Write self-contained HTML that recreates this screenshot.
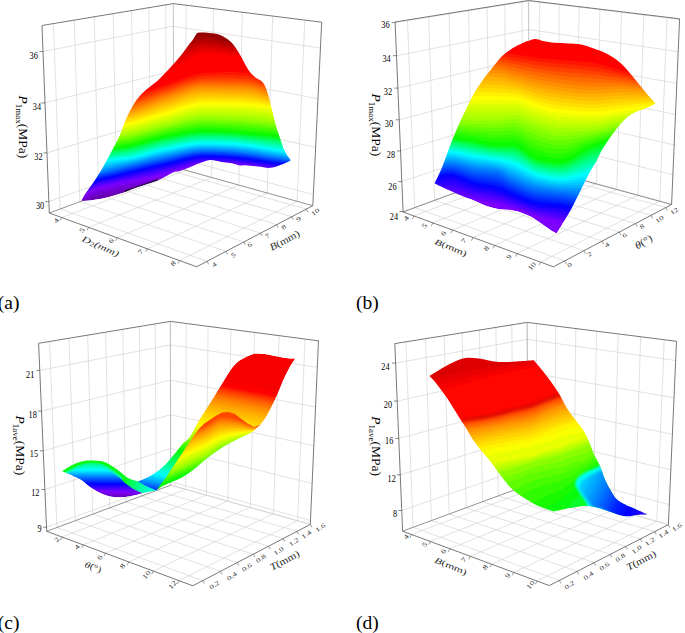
<!DOCTYPE html>
<html><head><meta charset="utf-8"><style>html,body{margin:0;padding:0;background:#fff;overflow:hidden}svg{display:block}text{font-family:"Liberation Serif",serif;fill:#000}</style></head>
<body><svg width="685" height="633" viewBox="0 0 685 633"><defs><clipPath id="c1"><path d="M81.5,200.7C82.1,199.6 83,197.4 85,194.3C87,191.2 90.8,186.3 93.7,182C96.6,177.7 99.5,173.1 102.4,168.2C105.3,163.3 108.1,158.1 111,152.6C113.9,147.1 117.3,140.6 119.8,135.2C122.2,129.8 124,124.1 125.7,120C127.4,115.9 128.5,113.8 130.1,110.8C131.7,107.8 133.5,104.4 135.2,101.9C136.9,99.4 138.5,97.5 140.2,95.6C141.9,93.7 143.4,92.3 145.3,90.6C147.2,88.9 149.5,87.2 151.6,85.5C153.7,83.8 155.8,82.3 157.9,80.4C160,78.5 162.1,76.3 164.2,74.1C166.3,71.9 168.5,69.5 170.6,67.2C172.7,64.9 174.8,62.6 176.9,60.2C179,57.8 181.1,55.3 183.2,52.6C185.3,49.9 187.9,45.9 189.5,43.8C191.1,41.7 191.7,41.4 192.7,40C193.7,38.6 194.6,36.7 195.5,35.5C196.4,34.3 196.4,33.3 198,32.8C199.6,32.3 202.3,32.4 205,32.5C207.7,32.6 211.8,33.2 214.3,33.6C216.8,34 218.1,34.3 220,35C221.9,35.7 223.9,36.7 225.7,37.9C227.5,39.1 229.3,40.3 231,42C232.7,43.7 234.1,45.6 235.8,48C237.5,50.4 239.3,53.5 241,56.5C242.7,59.5 244.4,63.1 245.9,65.7C247.4,68.3 248.7,70.3 250,72C251.3,73.7 252.3,74.7 253.5,75.8C254.7,76.9 255.8,77.7 257,78.5C258.2,79.3 259.8,79.9 261,80.8C262.2,81.7 263.2,82.7 264,84C264.8,85.3 265.2,86.4 266,88.4C266.8,90.4 267.7,93.1 268.5,96C269.3,98.9 270.2,102.7 271,106C271.8,109.3 272.7,112.7 273.5,116C274.3,119.3 274.9,122.3 276,126C277.1,129.7 278.7,134.2 280,138C281.3,141.8 282.6,146.2 283.8,149C285,151.8 285.8,153.1 287,155C288.2,156.9 290.2,159.3 290.8,160.2C289.5,160.8 286.6,162.7 283.2,164C279.8,165.3 274.8,167.4 270.6,167.8C266.4,168.2 262.1,166.9 257.9,166.5C253.7,166.1 248.3,165.4 245.3,165.2C242.3,165 242.5,165.8 240,165.5C237.5,165.2 233.5,163.7 230.5,163.1C227.5,162.5 224.2,162.3 221.8,161.9C219.4,161.5 217.9,161 215.9,160.7C213.9,160.4 211.9,159.9 210,160.1C208.1,160.2 206.6,160.8 204.2,161.6C201.8,162.4 198.4,163.7 195.5,164.8C192.6,166 189.6,167.4 186.7,168.5C183.8,169.6 180,170.9 178,171.4C176,171.9 176.8,170.9 174.7,171.7C172.6,172.5 168.5,174.8 165.4,176.4C162.3,178 159.1,179.7 156,181C152.9,182.3 150.2,182.8 146.7,184C143.2,185.2 138.9,186.6 135,188C131.1,189.4 127.3,191.3 123.4,192.7C119.5,194.1 115.6,195.1 111.7,196.2C107.8,197.3 103.6,198.4 100,199.1C96.4,199.8 93.1,200.2 90,200.5C86.9,200.8 82.9,200.7 81.5,200.7Z"/></clipPath><clipPath id="c2"><path d="M434.7,183.2C436,180.3 439.7,173 442.6,165.9C445.5,158.8 448.9,148.5 452.1,140.6C455.3,132.7 457.9,126.4 461.6,118.5C465.3,110.6 470.6,99.6 474.2,93.2C477.8,86.8 480.5,83.4 482.9,79.9C485.3,76.4 486.9,74.8 488.8,72.3C490.8,69.8 492.4,67.7 494.6,65C496.8,62.3 499.5,58.7 501.9,56.3C504.3,53.9 506.8,52.1 509.2,50.4C511.6,48.7 514.1,47.3 516.5,46C518.9,44.7 521.6,43.3 523.8,42.4C526,41.5 527.8,41.1 529.6,40.5C531.4,39.9 533.2,39.2 534.7,39C536.2,38.8 537,39.2 538.4,39.5C539.8,39.8 541.1,40.6 542.8,41C544.5,41.4 546.4,41.7 548.6,42C550.8,42.3 552.7,42.6 555.9,42.8C559.1,43 563.6,43.1 567.6,43.4C571.6,43.6 575.6,43.5 580,44.3C584.4,45.1 589.2,46.8 593.7,48.4C598.2,50 602.5,51.3 607,53.7C611.5,56.1 616,59 620.5,63C625,67 630,73.3 634,78C638,82.7 641.1,87.1 644.7,91.3C648.3,95.5 653.7,101.4 655.5,103.4C654.1,104.1 651,105.9 647.4,107.5C643.8,109.1 638,110.5 634,112.8C630,115 626.8,117.4 623.2,121C619.6,124.6 616.1,129.4 612.5,134.3C608.9,139.2 604.4,146 601.7,150.5C599,155 598.1,158.2 596.3,161.5C594.5,164.8 592.8,166.9 591,170C589.2,173.1 588.7,174.1 585.6,180.3C582.5,186.5 577,198.3 572.2,207.2C567.4,216.1 559.2,229.1 556.6,233.5C555.6,232.9 552.9,231.6 550.4,230C547.9,228.4 544.8,226 541.6,223.8C538.4,221.6 534.6,218.7 531.1,216.8C527.6,214.9 524.1,213.5 520.6,212.4C517.1,211.3 513.8,210.7 510,210.1C506.2,209.5 501.6,209.5 497.8,208.9C494,208.3 491.1,207.6 487.3,206.3C483.5,205 480,203.1 475,201C470,198.9 463.3,196.5 457.5,194C451.7,191.5 443.8,187.9 440,186.1C436.2,184.3 435.6,183.7 434.7,183.2Z"/></clipPath><filter id="blur1" x="-20%" y="-20%" width="140%" height="140%"><feGaussianBlur stdDeviation="0.8"/></filter><filter id="blur2" x="-20%" y="-20%" width="140%" height="140%"><feGaussianBlur stdDeviation="1.6"/></filter><clipPath id="c3"><path d="M429.4,376.1C431.3,374.9 437.4,371 441.1,368.8C444.9,366.6 447.9,364.7 451.9,362.9C455.9,361.1 460.8,358.8 465.3,358.1C469.8,357.4 474.2,358.1 478.7,358.6C483.2,359.1 487.7,360.7 492.2,361.3C496.7,361.9 501.1,362.1 505.6,362.1C510.1,362.1 514.3,361.6 519,361.3C523.7,361 531.3,360.4 533.8,360.2C535.4,362.1 540.3,367.8 543.2,371.5C546.1,375.2 548.6,378.4 551.3,382.2C554,386 556.6,389.8 559.3,394.3C562,398.8 564.7,404.8 567.4,409.1C570.1,413.4 572.8,416.3 575.5,419.9C578.2,423.5 581.3,427 583.5,430.6C585.7,434.2 587.1,437.3 588.9,441.3C590.7,445.3 592.4,450.6 594.3,454.8C596.2,459 598.6,462.8 600.3,466.7C602,470.6 602.9,474.5 604.6,478.4C606.3,482.3 608.5,486.6 610.5,490C612.5,493.4 613.9,496.4 616.3,498.8C618.7,501.2 621.9,502.9 625.1,504.6C628.3,506.3 631.5,507.3 635.3,509C639.1,510.7 645.6,513.7 647.7,514.6C645.9,514.6 640.1,514.6 636.8,514.9C633.5,515.2 630.9,516.3 628,516.3C625.1,516.3 622.1,515.6 619.2,514.9C616.3,514.2 613.4,512.9 610.5,511.9C607.6,510.9 604.6,509.9 601.7,509C598.8,508.1 595.9,507.3 593,506.8C590.1,506.3 588.1,505.9 584.2,506.1C580.3,506.4 573.6,507.7 569.6,508.3C565.6,508.9 563,509.5 560.4,510C557.8,510.5 554.9,511.2 553.8,511.4C551.8,510.7 545.2,508.8 541.5,507.3C537.8,505.8 534.7,504.1 531.3,502.2C527.9,500.3 524.5,498.4 521.1,496C517.7,493.6 514.3,491.3 510.9,487.9C507.5,484.5 504.1,480 500.7,475.6C497.3,471.2 493,464.7 490.4,461.3C487.8,457.9 486.6,456.9 485,455C483.4,453.1 482.2,451.9 480.6,450C479,448.1 477.3,445.7 475.6,443.3C473.9,440.9 472.2,438.4 470.5,435.7C468.8,433 467.1,429.6 465.4,426.9C463.7,424.2 462.3,422.2 460.4,419.3C458.5,416.4 456.2,412.6 454.1,409.2C452,405.8 449.8,402.3 447.7,399.1C445.6,395.9 443.5,393.1 441.4,390.2C439.3,387.3 437.1,384.4 435.1,382C433.1,379.6 430.3,377.1 429.4,376.1Z"/></clipPath><clipPath id="c4"><path d="M429.4,376.1C431.3,374.9 437.4,371 441.1,368.8C444.9,366.6 447.9,364.7 451.9,362.9C455.9,361.1 460.8,358.8 465.3,358.1C469.8,357.4 474.2,358.1 478.7,358.6C483.2,359.1 487.7,360.7 492.2,361.3C496.7,361.9 501.1,362.1 505.6,362.1C510.1,362.1 514.3,361.6 519,361.3C523.7,361 531.3,360.4 533.8,360.2C535.4,362.1 540.3,367.8 543.2,371.5C546.1,375.2 548.6,378.4 551.3,382.2C554,386 556.6,389.8 559.3,394.3C562,398.8 564.7,404.8 567.4,409.1C570.1,413.4 572.8,416.3 575.5,419.9C578.2,423.5 581.3,427 583.5,430.6C585.7,434.2 587.1,437.3 588.9,441.3C590.7,445.3 592.4,450.6 594.3,454.8C596.2,459 598.6,462.8 600.3,466.7C602,470.6 602.9,474.5 604.6,478.4C606.3,482.3 608.5,486.6 610.5,490C612.5,493.4 613.9,496.4 616.3,498.8C618.7,501.2 621.9,502.9 625.1,504.6C628.3,506.3 631.5,507.3 635.3,509C639.1,510.7 645.6,513.7 647.7,514.6C645.9,514.6 640.1,514.6 636.8,514.9C633.5,515.2 630.9,516.3 628,516.3C625.1,516.3 622.1,515.6 619.2,514.9C616.3,514.2 613.4,512.9 610.5,511.9C607.6,510.9 604.6,509.9 601.7,509C598.8,508.1 595.9,507.3 593,506.8C590.1,506.3 588.1,505.9 584.2,506.1C580.3,506.4 573.6,507.7 569.6,508.3C565.6,508.9 563,509.5 560.4,510C557.8,510.5 554.9,511.2 553.8,511.4C551.8,510.7 545.2,508.8 541.5,507.3C537.8,505.8 534.7,504.1 531.3,502.2C527.9,500.3 524.5,498.4 521.1,496C517.7,493.6 514.3,491.3 510.9,487.9C507.5,484.5 504.1,480 500.7,475.6C497.3,471.2 493,464.7 490.4,461.3C487.8,457.9 486.6,456.9 485,455C483.4,453.1 482.2,451.9 480.6,450C479,448.1 477.3,445.7 475.6,443.3C473.9,440.9 472.2,438.4 470.5,435.7C468.8,433 467.1,429.6 465.4,426.9C463.7,424.2 462.3,422.2 460.4,419.3C458.5,416.4 456.2,412.6 454.1,409.2C452,405.8 449.8,402.3 447.7,399.1C445.6,395.9 443.5,393.1 441.4,390.2C439.3,387.3 437.1,384.4 435.1,382C433.1,379.6 430.3,377.1 429.4,376.1Z"/></clipPath><linearGradient id="g1" gradientUnits="userSpaceOnUse" x1="659.1" y1="322.2" x2="722.8" y2="353.4"><stop offset="0.0000" stop-color="#00d4ff"/><stop offset="0.0376" stop-color="#00caff"/><stop offset="0.0751" stop-color="#00c1ff"/><stop offset="0.1127" stop-color="#00b7ff"/><stop offset="0.1502" stop-color="#00aeff"/><stop offset="0.1878" stop-color="#00a4ff"/><stop offset="0.2254" stop-color="#009aff"/><stop offset="0.2629" stop-color="#008eff"/><stop offset="0.3005" stop-color="#0083ff"/><stop offset="0.3380" stop-color="#0077ff"/><stop offset="0.3756" stop-color="#006bff"/><stop offset="0.4131" stop-color="#0060ff"/><stop offset="0.4507" stop-color="#0054ff"/><stop offset="0.4789" stop-color="#004bff"/><stop offset="0.5070" stop-color="#0041ff"/><stop offset="0.5352" stop-color="#0038ff"/><stop offset="0.5634" stop-color="#002fff"/><stop offset="0.5915" stop-color="#0025ff"/><stop offset="0.6197" stop-color="#001cff"/><stop offset="0.6596" stop-color="#0015ff"/><stop offset="0.6995" stop-color="#000eff"/><stop offset="0.7394" stop-color="#0007ff"/><stop offset="0.7793" stop-color="#0000ff"/><stop offset="0.8192" stop-color="#0600ff"/><stop offset="0.8592" stop-color="#0d00ff"/><stop offset="0.8826" stop-color="#1300ff"/><stop offset="0.9061" stop-color="#1900ff"/><stop offset="0.9296" stop-color="#1f00ff"/><stop offset="0.9531" stop-color="#2500ff"/><stop offset="0.9765" stop-color="#2c00ff"/><stop offset="1" stop-color="#3200ff"/></linearGradient><clipPath id="c5"><path d="M62,471.3C62.8,470.8 65.2,469.1 67,468C68.8,466.9 70.1,466.1 72.5,465C74.9,463.9 78.4,462.4 81.3,461.6C84.2,460.8 86.8,460.5 90,460.4C93.2,460.3 97.7,460.6 100.6,461.1C103.5,461.6 105.3,462.3 107.6,463.4C109.9,464.5 112.3,466.2 114.6,467.8C116.9,469.4 119.3,471.2 121.6,473C123.9,474.8 125.9,476.9 128.6,478.3C131.3,479.7 136.3,480.9 137.8,481.4C139.6,480.6 145.1,478.4 148.4,476.7C151.7,474.9 155,472.8 157.7,470.9C160.4,468.9 162.4,467.3 164.7,465C167,462.7 169.5,459.4 171.7,456.9C173.8,454.4 175.6,452.2 177.6,449.9C179.6,447.5 181.3,445 183.4,442.8C185.5,440.6 187.6,440 190,436.5C192.4,433 195.3,426.6 198,422C200.7,417.4 203.3,413.5 206,409.2C208.7,404.9 211.4,400.7 214.1,396.4C216.8,392.1 219.4,387.8 222.1,383.5C224.8,379.2 227.7,374.2 230.1,370.7C232.5,367.2 234.2,364.8 236.6,362.7C239,360.6 241.7,359.3 244.6,357.8C247.5,356.3 251.2,354.5 254.2,353.8C257.1,353.1 259.6,353.6 262.3,353.8C265,354 267.4,354.5 270.3,355C273.2,355.5 277.1,356.5 280,357C282.9,357.5 285.5,357.9 288,358.2C290.5,358.5 294,358.5 295.2,358.6C294.3,360.1 291.4,364.4 289.6,367.5C287.9,370.6 286.3,373.6 284.7,377.1C283.1,380.6 281.5,384.6 279.9,388.4C278.3,392.1 276.7,396.1 275.1,399.6C273.5,403.1 271.9,406.1 270.3,409.2C268.7,412.3 267.1,415.5 265.5,418C263.9,420.5 261.8,423 261,424C259.4,425.4 254.9,430.1 251.6,432.3C248.3,434.6 244.6,435.8 241.1,437.5C237.6,439.2 234.1,440.9 230.6,442.8C227.1,444.7 223.2,446.9 220,448.9C216.8,450.9 214.2,452.8 211.3,455C208.4,457.2 205.8,459.4 202.6,462C199.4,464.6 195.5,468.2 192,470.8C188.5,473.4 185,475.9 181.5,477.8C178,479.7 174.2,480.8 171,482.2C167.8,483.6 164.4,485.1 162,486.5C159.6,487.9 157.4,489.8 156.5,490.5C155.2,490.7 150.7,491.5 148.4,491.9C146.1,492.3 144.4,492.5 142.5,493C140.6,493.5 139.6,494.1 136.7,494.8C133.8,495.5 128.4,496.6 125,497C121.6,497.4 119.2,497.4 116.3,497.2C113.4,497 110.5,496.6 107.6,495.8C104.7,495 101.7,493.8 98.8,492.3C95.9,490.8 92.9,489.1 90,487C87.1,484.9 84.2,481.9 81.3,480C78.4,478.1 75.7,477.1 72.5,475.7C69.3,474.2 63.8,472 62,471.3Z"/></clipPath><linearGradient id="g2" gradientUnits="userSpaceOnUse" x1="-61.4" y1="323.3" x2="-86.2" y2="453.6"><stop offset="0.0000" stop-color="#f60000"/><stop offset="0.0099" stop-color="#f80000"/><stop offset="0.0198" stop-color="#f90000"/><stop offset="0.0296" stop-color="#fb0000"/><stop offset="0.0395" stop-color="#fc0000"/><stop offset="0.0494" stop-color="#fe0000"/><stop offset="0.0593" stop-color="#ff0000"/><stop offset="0.0654" stop-color="#ff0a00"/><stop offset="0.0716" stop-color="#ff1300"/><stop offset="0.0778" stop-color="#ff1d00"/><stop offset="0.0840" stop-color="#ff2600"/><stop offset="0.0901" stop-color="#ff3000"/><stop offset="0.0963" stop-color="#ff3900"/><stop offset="0.1086" stop-color="#ff4700"/><stop offset="0.1210" stop-color="#ff5600"/><stop offset="0.1333" stop-color="#ff6400"/><stop offset="0.1457" stop-color="#ff7000"/><stop offset="0.1580" stop-color="#ff7b00"/><stop offset="0.1704" stop-color="#ff8700"/><stop offset="0.1852" stop-color="#ff9100"/><stop offset="0.2000" stop-color="#ff9a00"/><stop offset="0.2148" stop-color="#ffa400"/><stop offset="0.2296" stop-color="#ffae00"/><stop offset="0.2444" stop-color="#ffb600"/><stop offset="0.2593" stop-color="#ffbf00"/><stop offset="0.2778" stop-color="#ffc800"/><stop offset="0.2963" stop-color="#ffd100"/><stop offset="0.3148" stop-color="#ffda00"/><stop offset="0.3333" stop-color="#ffe300"/><stop offset="0.3519" stop-color="#ffec00"/><stop offset="0.3704" stop-color="#fff400"/><stop offset="0.3864" stop-color="#fdff00"/><stop offset="0.4025" stop-color="#efff00"/><stop offset="0.4185" stop-color="#e1ff00"/><stop offset="0.4346" stop-color="#d3ff00"/><stop offset="0.4506" stop-color="#c6ff00"/><stop offset="0.4667" stop-color="#b8ff00"/><stop offset="0.4889" stop-color="#a0ff00"/><stop offset="0.5111" stop-color="#82fe00"/><stop offset="0.5333" stop-color="#64fd00"/><stop offset="0.5556" stop-color="#46fc00"/><stop offset="0.5778" stop-color="#28fb00"/><stop offset="0.6000" stop-color="#0afa00"/><stop offset="0.6185" stop-color="#08fb14"/><stop offset="0.6370" stop-color="#07fc28"/><stop offset="0.6556" stop-color="#05fc3c"/><stop offset="0.6741" stop-color="#03fd50"/><stop offset="0.6926" stop-color="#02fe64"/><stop offset="0.7111" stop-color="#00ff78"/><stop offset="0.7272" stop-color="#00ff8e"/><stop offset="0.7432" stop-color="#00ffa5"/><stop offset="0.7593" stop-color="#00ffbc"/><stop offset="0.7753" stop-color="#00ffd2"/><stop offset="0.7914" stop-color="#00ffe9"/><stop offset="0.8074" stop-color="#00ffff"/><stop offset="0.8185" stop-color="#00eeff"/><stop offset="0.8296" stop-color="#00ddff"/><stop offset="0.8407" stop-color="#00cdff"/><stop offset="0.8519" stop-color="#00bcff"/><stop offset="0.8630" stop-color="#00abff"/><stop offset="0.8741" stop-color="#009aff"/><stop offset="0.8827" stop-color="#008aff"/><stop offset="0.8914" stop-color="#0079ff"/><stop offset="0.9000" stop-color="#0069ff"/><stop offset="0.9086" stop-color="#0059ff"/><stop offset="0.9173" stop-color="#0048ff"/><stop offset="0.9259" stop-color="#0038ff"/><stop offset="0.9383" stop-color="#002aff"/><stop offset="0.9506" stop-color="#001cff"/><stop offset="0.9630" stop-color="#000eff"/><stop offset="0.9753" stop-color="#0000ff"/><stop offset="0.9877" stop-color="#0c00ff"/><stop offset="1" stop-color="#1900ff"/></linearGradient><linearGradient id="g3" gradientUnits="userSpaceOnUse" x1="0" y1="462" x2="0" y2="497"><stop offset="0.0000" stop-color="#0afa00"/><stop offset="0.0190" stop-color="#07fb21"/><stop offset="0.0381" stop-color="#04fd43"/><stop offset="0.0571" stop-color="#02fe64"/><stop offset="0.0762" stop-color="#00ff83"/><stop offset="0.0952" stop-color="#00ff9f"/><stop offset="0.1143" stop-color="#00ffbc"/><stop offset="0.1333" stop-color="#00ffc7"/><stop offset="0.1524" stop-color="#00ffd2"/><stop offset="0.1714" stop-color="#00ffdd"/><stop offset="0.1905" stop-color="#00ffe9"/><stop offset="0.2095" stop-color="#00fff4"/><stop offset="0.2286" stop-color="#00ffff"/><stop offset="0.2571" stop-color="#00ecff"/><stop offset="0.2857" stop-color="#00d9ff"/><stop offset="0.3143" stop-color="#00c6ff"/><stop offset="0.3429" stop-color="#00b2ff"/><stop offset="0.3714" stop-color="#009fff"/><stop offset="0.4000" stop-color="#008cff"/><stop offset="0.4381" stop-color="#0075ff"/><stop offset="0.4762" stop-color="#005dff"/><stop offset="0.5143" stop-color="#0046ff"/><stop offset="0.5524" stop-color="#002fff"/><stop offset="0.5905" stop-color="#0017ff"/><stop offset="0.6286" stop-color="#0000ff"/><stop offset="0.6619" stop-color="#1300ff"/><stop offset="0.6952" stop-color="#2500ff"/><stop offset="0.7286" stop-color="#3800ff"/><stop offset="0.7619" stop-color="#4b00ff"/><stop offset="0.7952" stop-color="#5e00ff"/><stop offset="0.8286" stop-color="#7000ff"/><stop offset="0.8571" stop-color="#7c00fd"/><stop offset="0.8857" stop-color="#7900ee"/><stop offset="0.9143" stop-color="#7500e0"/><stop offset="0.9429" stop-color="#7100d1"/><stop offset="0.9714" stop-color="#6d00c3"/><stop offset="1" stop-color="#6900b4"/></linearGradient><linearGradient id="g4" gradientUnits="userSpaceOnUse" x1="246.6" y1="74" x2="278.9" y2="83.7"><stop offset="0.0000" stop-color="#08fb14"/><stop offset="0.0777" stop-color="#06fc2b"/><stop offset="0.1553" stop-color="#04fd43"/><stop offset="0.2330" stop-color="#03fe5a"/><stop offset="0.3106" stop-color="#01ff71"/><stop offset="0.3883" stop-color="#00ff86"/><stop offset="0.4659" stop-color="#00ff9a"/><stop offset="0.5549" stop-color="#00ffa8"/><stop offset="0.6439" stop-color="#00ffb6"/><stop offset="0.7330" stop-color="#00ffc4"/><stop offset="0.8220" stop-color="#00ffd2"/><stop offset="0.9110" stop-color="#00ffe0"/><stop offset="1" stop-color="#00ffee"/></linearGradient><clipPath id="c6"><polygon points="156.5,490.5 161,484 165.8,477.8 172.8,467.3 179.8,456.8 186.8,446.3 193.8,435.8 199,428.8 204.3,423.5 209.6,420 215.5,416 222.1,412.4 228.5,412.1 235,414 241.4,418.9 247.8,423.7 254.2,426.9 261,424.5 275,440 200,495 160,500"/></clipPath></defs><rect width="685" height="633" fill="#fff"/><line x1="60.2" y1="209" x2="53.5" y2="23.6" stroke="#d4d4d4" stroke-width="0.7"/>
<line x1="79.8" y1="201.7" x2="74.3" y2="20.1" stroke="#d4d4d4" stroke-width="0.7"/>
<line x1="98.7" y1="194.8" x2="94.2" y2="16.8" stroke="#d4d4d4" stroke-width="0.7"/>
<line x1="116.7" y1="188.1" x2="113.2" y2="13.6" stroke="#d4d4d4" stroke-width="0.7"/>
<line x1="134.1" y1="181.7" x2="131.5" y2="10.6" stroke="#d4d4d4" stroke-width="0.7"/>
<line x1="150.7" y1="175.6" x2="148.9" y2="7.7" stroke="#d4d4d4" stroke-width="0.7"/>
<line x1="166.8" y1="169.7" x2="165.7" y2="4.9" stroke="#d4d4d4" stroke-width="0.7"/>
<line x1="48.9" y1="201.6" x2="174" y2="157" stroke="#d4d4d4" stroke-width="0.7"/>
<line x1="47" y1="152.9" x2="173.8" y2="114.4" stroke="#d4d4d4" stroke-width="0.7"/>
<line x1="45" y1="102.9" x2="173.6" y2="70.8" stroke="#d4d4d4" stroke-width="0.7"/>
<line x1="43" y1="51.5" x2="173.4" y2="26.1" stroke="#d4d4d4" stroke-width="0.7"/>
<line x1="185.9" y1="170.3" x2="186" y2="5.2" stroke="#d4d4d4" stroke-width="0.7"/>
<line x1="211.7" y1="177.5" x2="213.4" y2="8.6" stroke="#d4d4d4" stroke-width="0.7"/>
<line x1="238.8" y1="185.1" x2="242.3" y2="12.2" stroke="#d4d4d4" stroke-width="0.7"/>
<line x1="267.2" y1="193" x2="272.7" y2="16.1" stroke="#d4d4d4" stroke-width="0.7"/>
<line x1="297.1" y1="201.3" x2="304.8" y2="20.1" stroke="#d4d4d4" stroke-width="0.7"/>
<line x1="174" y1="157.1" x2="313.3" y2="194.7" stroke="#d4d4d4" stroke-width="0.7"/>
<line x1="173.8" y1="114.9" x2="315.6" y2="147.5" stroke="#d4d4d4" stroke-width="0.7"/>
<line x1="173.6" y1="71.4" x2="318" y2="98.7" stroke="#d4d4d4" stroke-width="0.7"/>
<line x1="173.4" y1="26.4" x2="320.4" y2="48" stroke="#d4d4d4" stroke-width="0.7"/>
<line x1="60.4" y1="208.9" x2="207.1" y2="261.3" stroke="#d4d4d4" stroke-width="0.7"/>
<line x1="80.3" y1="201.6" x2="226" y2="251.4" stroke="#d4d4d4" stroke-width="0.7"/>
<line x1="99.2" y1="194.6" x2="243.8" y2="242" stroke="#d4d4d4" stroke-width="0.7"/>
<line x1="117.3" y1="187.9" x2="260.6" y2="233.1" stroke="#d4d4d4" stroke-width="0.7"/>
<line x1="134.6" y1="181.5" x2="276.6" y2="224.7" stroke="#d4d4d4" stroke-width="0.7"/>
<line x1="151.1" y1="175.5" x2="291.8" y2="216.7" stroke="#d4d4d4" stroke-width="0.7"/>
<line x1="166.9" y1="169.6" x2="306.3" y2="209.1" stroke="#d4d4d4" stroke-width="0.7"/>
<line x1="61.7" y1="217.5" x2="185.9" y2="170.3" stroke="#d4d4d4" stroke-width="0.7"/>
<line x1="88.6" y1="227.4" x2="211.7" y2="177.5" stroke="#d4d4d4" stroke-width="0.7"/>
<line x1="117.2" y1="237.8" x2="238.8" y2="185.1" stroke="#d4d4d4" stroke-width="0.7"/>
<line x1="147.4" y1="248.8" x2="267.2" y2="193" stroke="#d4d4d4" stroke-width="0.7"/>
<line x1="179.6" y1="260.6" x2="297.1" y2="201.3" stroke="#d4d4d4" stroke-width="0.7"/>
<line x1="42" y1="25.5" x2="173.3" y2="3.6" stroke="#555" stroke-width="0.8"/>
<line x1="173.3" y1="3.6" x2="321.7" y2="22.2" stroke="#555" stroke-width="0.8"/>
<line x1="42" y1="25.5" x2="49.3" y2="213" stroke="#555" stroke-width="0.8"/>
<line x1="321.7" y1="22.2" x2="312.8" y2="205.7" stroke="#555" stroke-width="0.8"/>
<line x1="173.3" y1="3.6" x2="174" y2="167" stroke="#aaa" stroke-width="0.7"/>
<line x1="49.3" y1="213" x2="174" y2="167" stroke="#777" stroke-width="0.8"/>
<line x1="174" y1="167" x2="312.8" y2="205.7" stroke="#777" stroke-width="0.8"/>
<line x1="49.3" y1="213" x2="196.6" y2="266.8" stroke="#555" stroke-width="0.8"/>
<line x1="196.6" y1="266.8" x2="312.8" y2="205.7" stroke="#555" stroke-width="0.8"/>
<line x1="45.4" y1="201.6" x2="48.9" y2="201.6" stroke="#555" stroke-width="0.7"/>
<line x1="43.5" y1="152.9" x2="47" y2="152.9" stroke="#555" stroke-width="0.7"/>
<line x1="41.5" y1="102.9" x2="45" y2="102.9" stroke="#555" stroke-width="0.7"/>
<line x1="39.5" y1="51.5" x2="43" y2="51.5" stroke="#555" stroke-width="0.7"/>
<line x1="61.7" y1="217.5" x2="60.2" y2="220.5" stroke="#555" stroke-width="0.6"/>
<line x1="88.6" y1="227.4" x2="87.1" y2="230.4" stroke="#555" stroke-width="0.6"/>
<line x1="117.2" y1="237.8" x2="115.7" y2="240.8" stroke="#555" stroke-width="0.6"/>
<line x1="147.4" y1="248.8" x2="145.9" y2="251.8" stroke="#555" stroke-width="0.6"/>
<line x1="179.6" y1="260.6" x2="178.1" y2="263.6" stroke="#555" stroke-width="0.6"/>
<line x1="207.1" y1="261.3" x2="208.6" y2="264.3" stroke="#555" stroke-width="0.6"/>
<line x1="226" y1="251.4" x2="227.5" y2="254.4" stroke="#555" stroke-width="0.6"/>
<line x1="243.8" y1="242" x2="245.3" y2="245" stroke="#555" stroke-width="0.6"/>
<line x1="260.6" y1="233.1" x2="262.1" y2="236.1" stroke="#555" stroke-width="0.6"/>
<line x1="276.6" y1="224.7" x2="278.1" y2="227.7" stroke="#555" stroke-width="0.6"/>
<line x1="291.8" y1="216.7" x2="293.3" y2="219.7" stroke="#555" stroke-width="0.6"/>
<line x1="306.3" y1="209.1" x2="307.8" y2="212.1" stroke="#555" stroke-width="0.6"/>
<line x1="414.7" y1="207.7" x2="407.5" y2="20" stroke="#d4d4d4" stroke-width="0.7"/>
<line x1="434.6" y1="200.4" x2="428.7" y2="16.6" stroke="#d4d4d4" stroke-width="0.7"/>
<line x1="453.7" y1="193.3" x2="449.1" y2="13.3" stroke="#d4d4d4" stroke-width="0.7"/>
<line x1="472" y1="186.6" x2="468.5" y2="10.2" stroke="#d4d4d4" stroke-width="0.7"/>
<line x1="489.6" y1="180.1" x2="487" y2="7.2" stroke="#d4d4d4" stroke-width="0.7"/>
<line x1="506.4" y1="173.9" x2="504.8" y2="4.3" stroke="#d4d4d4" stroke-width="0.7"/>
<line x1="522.6" y1="168" x2="521.9" y2="1.6" stroke="#d4d4d4" stroke-width="0.7"/>
<line x1="403.1" y1="211.5" x2="529" y2="165.2" stroke="#d4d4d4" stroke-width="0.7"/>
<line x1="401.8" y1="181.6" x2="528.9" y2="139" stroke="#d4d4d4" stroke-width="0.7"/>
<line x1="400.5" y1="151" x2="528.9" y2="112.3" stroke="#d4d4d4" stroke-width="0.7"/>
<line x1="399.2" y1="119.8" x2="528.8" y2="85.2" stroke="#d4d4d4" stroke-width="0.7"/>
<line x1="397.9" y1="88.1" x2="528.7" y2="57.6" stroke="#d4d4d4" stroke-width="0.7"/>
<line x1="396.5" y1="55.7" x2="528.7" y2="29.6" stroke="#d4d4d4" stroke-width="0.7"/>
<line x1="395.1" y1="22.6" x2="528.6" y2="1.1" stroke="#d4d4d4" stroke-width="0.7"/>
<line x1="539.6" y1="168.5" x2="539.7" y2="1.8" stroke="#d4d4d4" stroke-width="0.7"/>
<line x1="557.9" y1="173.5" x2="559.1" y2="4.2" stroke="#d4d4d4" stroke-width="0.7"/>
<line x1="576.9" y1="178.7" x2="579.1" y2="6.6" stroke="#d4d4d4" stroke-width="0.7"/>
<line x1="596.6" y1="184" x2="599.9" y2="9.1" stroke="#d4d4d4" stroke-width="0.7"/>
<line x1="616.9" y1="189.6" x2="621.5" y2="11.8" stroke="#d4d4d4" stroke-width="0.7"/>
<line x1="638" y1="195.3" x2="643.8" y2="14.5" stroke="#d4d4d4" stroke-width="0.7"/>
<line x1="659.8" y1="201.3" x2="667.1" y2="17.3" stroke="#d4d4d4" stroke-width="0.7"/>
<line x1="529" y1="165.2" x2="671.6" y2="204.1" stroke="#d4d4d4" stroke-width="0.7"/>
<line x1="528.9" y1="139" x2="672.9" y2="174.7" stroke="#d4d4d4" stroke-width="0.7"/>
<line x1="528.9" y1="112.3" x2="674.2" y2="144.8" stroke="#d4d4d4" stroke-width="0.7"/>
<line x1="528.8" y1="85.2" x2="675.5" y2="114.4" stroke="#d4d4d4" stroke-width="0.7"/>
<line x1="528.7" y1="57.6" x2="676.8" y2="83.3" stroke="#d4d4d4" stroke-width="0.7"/>
<line x1="528.7" y1="29.6" x2="678.2" y2="51.7" stroke="#d4d4d4" stroke-width="0.7"/>
<line x1="528.6" y1="1.1" x2="679.6" y2="19.4" stroke="#d4d4d4" stroke-width="0.7"/>
<line x1="414.8" y1="207.7" x2="564.7" y2="260.9" stroke="#d4d4d4" stroke-width="0.7"/>
<line x1="435" y1="200.3" x2="583.9" y2="250.7" stroke="#d4d4d4" stroke-width="0.7"/>
<line x1="454.2" y1="193.2" x2="602.1" y2="241.1" stroke="#d4d4d4" stroke-width="0.7"/>
<line x1="472.5" y1="186.4" x2="619.3" y2="232.1" stroke="#d4d4d4" stroke-width="0.7"/>
<line x1="490" y1="180" x2="635.6" y2="223.5" stroke="#d4d4d4" stroke-width="0.7"/>
<line x1="506.7" y1="173.8" x2="651.1" y2="215.3" stroke="#d4d4d4" stroke-width="0.7"/>
<line x1="522.7" y1="167.9" x2="665.8" y2="207.5" stroke="#d4d4d4" stroke-width="0.7"/>
<line x1="413.9" y1="215.9" x2="539.5" y2="168.5" stroke="#d4d4d4" stroke-width="0.7"/>
<line x1="432.8" y1="222.8" x2="557.7" y2="173.4" stroke="#d4d4d4" stroke-width="0.7"/>
<line x1="452.5" y1="230" x2="576.6" y2="178.6" stroke="#d4d4d4" stroke-width="0.7"/>
<line x1="473" y1="237.5" x2="596.2" y2="183.9" stroke="#d4d4d4" stroke-width="0.7"/>
<line x1="494.5" y1="245.3" x2="616.6" y2="189.5" stroke="#d4d4d4" stroke-width="0.7"/>
<line x1="517" y1="253.5" x2="637.8" y2="195.3" stroke="#d4d4d4" stroke-width="0.7"/>
<line x1="540.6" y1="262.1" x2="659.7" y2="201.3" stroke="#d4d4d4" stroke-width="0.7"/>
<line x1="395.1" y1="22" x2="528.6" y2="0.5" stroke="#555" stroke-width="0.8"/>
<line x1="528.6" y1="0.5" x2="679.6" y2="18.8" stroke="#555" stroke-width="0.8"/>
<line x1="395.1" y1="22" x2="403.1" y2="212" stroke="#555" stroke-width="0.8"/>
<line x1="679.6" y1="18.8" x2="671.6" y2="204.5" stroke="#555" stroke-width="0.8"/>
<line x1="528.6" y1="0.5" x2="529" y2="165.6" stroke="#aaa" stroke-width="0.7"/>
<line x1="403.1" y1="212" x2="529" y2="165.6" stroke="#777" stroke-width="0.8"/>
<line x1="529" y1="165.6" x2="671.6" y2="204.5" stroke="#777" stroke-width="0.8"/>
<line x1="403.1" y1="212" x2="553.4" y2="266.8" stroke="#555" stroke-width="0.8"/>
<line x1="553.4" y1="266.8" x2="671.6" y2="204.5" stroke="#555" stroke-width="0.8"/>
<line x1="399.6" y1="211.5" x2="403.1" y2="211.5" stroke="#555" stroke-width="0.7"/>
<line x1="398.3" y1="181.6" x2="401.8" y2="181.6" stroke="#555" stroke-width="0.7"/>
<line x1="397" y1="151" x2="400.5" y2="151" stroke="#555" stroke-width="0.7"/>
<line x1="395.7" y1="119.8" x2="399.2" y2="119.8" stroke="#555" stroke-width="0.7"/>
<line x1="394.4" y1="88.1" x2="397.9" y2="88.1" stroke="#555" stroke-width="0.7"/>
<line x1="393" y1="55.7" x2="396.5" y2="55.7" stroke="#555" stroke-width="0.7"/>
<line x1="391.6" y1="22.6" x2="395.1" y2="22.6" stroke="#555" stroke-width="0.7"/>
<line x1="413.9" y1="215.9" x2="412.4" y2="218.9" stroke="#555" stroke-width="0.6"/>
<line x1="432.8" y1="222.8" x2="431.3" y2="225.8" stroke="#555" stroke-width="0.6"/>
<line x1="452.5" y1="230" x2="451" y2="233" stroke="#555" stroke-width="0.6"/>
<line x1="473" y1="237.5" x2="471.5" y2="240.5" stroke="#555" stroke-width="0.6"/>
<line x1="494.5" y1="245.3" x2="493" y2="248.3" stroke="#555" stroke-width="0.6"/>
<line x1="517" y1="253.5" x2="515.5" y2="256.5" stroke="#555" stroke-width="0.6"/>
<line x1="540.6" y1="262.1" x2="539.1" y2="265.1" stroke="#555" stroke-width="0.6"/>
<line x1="564.7" y1="260.9" x2="566.2" y2="263.9" stroke="#555" stroke-width="0.6"/>
<line x1="583.9" y1="250.7" x2="585.4" y2="253.7" stroke="#555" stroke-width="0.6"/>
<line x1="602.1" y1="241.1" x2="603.6" y2="244.1" stroke="#555" stroke-width="0.6"/>
<line x1="619.3" y1="232.1" x2="620.8" y2="235.1" stroke="#555" stroke-width="0.6"/>
<line x1="635.6" y1="223.5" x2="637.1" y2="226.5" stroke="#555" stroke-width="0.6"/>
<line x1="651.1" y1="215.3" x2="652.6" y2="218.3" stroke="#555" stroke-width="0.6"/>
<line x1="665.8" y1="207.5" x2="667.3" y2="210.5" stroke="#555" stroke-width="0.6"/>
<line x1="56.9" y1="527.5" x2="49.6" y2="341.5" stroke="#d4d4d4" stroke-width="0.7"/>
<line x1="75.2" y1="520.7" x2="69" y2="338.2" stroke="#d4d4d4" stroke-width="0.7"/>
<line x1="92.7" y1="514.2" x2="87.7" y2="335.1" stroke="#d4d4d4" stroke-width="0.7"/>
<line x1="109.5" y1="507.9" x2="105.6" y2="332.2" stroke="#d4d4d4" stroke-width="0.7"/>
<line x1="125.7" y1="501.9" x2="122.8" y2="329.3" stroke="#d4d4d4" stroke-width="0.7"/>
<line x1="141.3" y1="496.1" x2="139.3" y2="326.6" stroke="#d4d4d4" stroke-width="0.7"/>
<line x1="156.3" y1="490.5" x2="155.2" y2="323.9" stroke="#d4d4d4" stroke-width="0.7"/>
<line x1="170.8" y1="485.1" x2="170.5" y2="321.4" stroke="#d4d4d4" stroke-width="0.7"/>
<line x1="46.5" y1="527.2" x2="170.6" y2="481.6" stroke="#d4d4d4" stroke-width="0.7"/>
<line x1="44.9" y1="489.5" x2="170.5" y2="448.5" stroke="#d4d4d4" stroke-width="0.7"/>
<line x1="43.2" y1="450.8" x2="170.5" y2="414.7" stroke="#d4d4d4" stroke-width="0.7"/>
<line x1="41.5" y1="411.1" x2="170.4" y2="380.2" stroke="#d4d4d4" stroke-width="0.7"/>
<line x1="39.8" y1="370.4" x2="170.3" y2="344.9" stroke="#d4d4d4" stroke-width="0.7"/>
<line x1="185.7" y1="489.4" x2="186.2" y2="323.5" stroke="#d4d4d4" stroke-width="0.7"/>
<line x1="206.4" y1="495.3" x2="208.1" y2="326.3" stroke="#d4d4d4" stroke-width="0.7"/>
<line x1="227.9" y1="501.3" x2="230.9" y2="329.3" stroke="#d4d4d4" stroke-width="0.7"/>
<line x1="250.3" y1="507.6" x2="254.6" y2="332.4" stroke="#d4d4d4" stroke-width="0.7"/>
<line x1="273.5" y1="514.1" x2="279.2" y2="335.7" stroke="#d4d4d4" stroke-width="0.7"/>
<line x1="297.6" y1="520.8" x2="305" y2="339" stroke="#d4d4d4" stroke-width="0.7"/>
<line x1="170.6" y1="481.6" x2="310.5" y2="520.4" stroke="#d4d4d4" stroke-width="0.7"/>
<line x1="170.5" y1="448.5" x2="312.1" y2="483.5" stroke="#d4d4d4" stroke-width="0.7"/>
<line x1="170.5" y1="414.7" x2="313.8" y2="445.7" stroke="#d4d4d4" stroke-width="0.7"/>
<line x1="170.4" y1="380.2" x2="315.5" y2="407" stroke="#d4d4d4" stroke-width="0.7"/>
<line x1="170.3" y1="344.9" x2="317.3" y2="367.3" stroke="#d4d4d4" stroke-width="0.7"/>
<line x1="57" y1="527.5" x2="202.8" y2="580.6" stroke="#d4d4d4" stroke-width="0.7"/>
<line x1="75.4" y1="520.6" x2="220.5" y2="571.3" stroke="#d4d4d4" stroke-width="0.7"/>
<line x1="92.9" y1="514.1" x2="237.3" y2="562.6" stroke="#d4d4d4" stroke-width="0.7"/>
<line x1="109.8" y1="507.8" x2="253.3" y2="554.2" stroke="#d4d4d4" stroke-width="0.7"/>
<line x1="125.9" y1="501.8" x2="268.6" y2="546.2" stroke="#d4d4d4" stroke-width="0.7"/>
<line x1="141.5" y1="496" x2="283.2" y2="538.6" stroke="#d4d4d4" stroke-width="0.7"/>
<line x1="156.4" y1="490.5" x2="297.1" y2="531.3" stroke="#d4d4d4" stroke-width="0.7"/>
<line x1="170.8" y1="485.1" x2="310.5" y2="524.3" stroke="#d4d4d4" stroke-width="0.7"/>
<line x1="62" y1="537" x2="185.6" y2="489.4" stroke="#d4d4d4" stroke-width="0.7"/>
<line x1="83.2" y1="544.9" x2="206.1" y2="495.2" stroke="#d4d4d4" stroke-width="0.7"/>
<line x1="105.4" y1="553.2" x2="227.6" y2="501.2" stroke="#d4d4d4" stroke-width="0.7"/>
<line x1="128.8" y1="561.9" x2="249.9" y2="507.5" stroke="#d4d4d4" stroke-width="0.7"/>
<line x1="153.3" y1="571.1" x2="273.2" y2="514" stroke="#d4d4d4" stroke-width="0.7"/>
<line x1="179.2" y1="580.7" x2="297.5" y2="520.8" stroke="#d4d4d4" stroke-width="0.7"/>
<line x1="38.6" y1="343.3" x2="170.3" y2="321.4" stroke="#555" stroke-width="0.8"/>
<line x1="170.3" y1="321.4" x2="318.5" y2="340.8" stroke="#555" stroke-width="0.8"/>
<line x1="38.6" y1="343.3" x2="46.7" y2="531.3" stroke="#555" stroke-width="0.8"/>
<line x1="318.5" y1="340.8" x2="310.3" y2="524.4" stroke="#555" stroke-width="0.8"/>
<line x1="170.3" y1="321.4" x2="170.6" y2="485.2" stroke="#aaa" stroke-width="0.7"/>
<line x1="46.7" y1="531.3" x2="170.6" y2="485.2" stroke="#777" stroke-width="0.8"/>
<line x1="170.6" y1="485.2" x2="310.3" y2="524.4" stroke="#d0d0d0" stroke-width="0.7"/>
<line x1="46.7" y1="531.3" x2="192.8" y2="585.8" stroke="#555" stroke-width="0.8"/>
<line x1="192.8" y1="585.8" x2="310.3" y2="524.4" stroke="#555" stroke-width="0.8"/>
<line x1="43" y1="527.2" x2="46.5" y2="527.2" stroke="#555" stroke-width="0.7"/>
<line x1="41.4" y1="489.5" x2="44.9" y2="489.5" stroke="#555" stroke-width="0.7"/>
<line x1="39.7" y1="450.8" x2="43.2" y2="450.8" stroke="#555" stroke-width="0.7"/>
<line x1="38" y1="411.1" x2="41.5" y2="411.1" stroke="#555" stroke-width="0.7"/>
<line x1="36.3" y1="370.4" x2="39.8" y2="370.4" stroke="#555" stroke-width="0.7"/>
<line x1="62" y1="537" x2="60.5" y2="540" stroke="#555" stroke-width="0.6"/>
<line x1="83.2" y1="544.9" x2="81.7" y2="547.9" stroke="#555" stroke-width="0.6"/>
<line x1="105.4" y1="553.2" x2="103.9" y2="556.2" stroke="#555" stroke-width="0.6"/>
<line x1="128.8" y1="561.9" x2="127.3" y2="564.9" stroke="#555" stroke-width="0.6"/>
<line x1="153.3" y1="571.1" x2="151.8" y2="574.1" stroke="#555" stroke-width="0.6"/>
<line x1="179.2" y1="580.7" x2="177.7" y2="583.7" stroke="#555" stroke-width="0.6"/>
<line x1="202.8" y1="580.6" x2="204.3" y2="583.6" stroke="#555" stroke-width="0.6"/>
<line x1="220.5" y1="571.3" x2="222" y2="574.3" stroke="#555" stroke-width="0.6"/>
<line x1="237.3" y1="562.6" x2="238.8" y2="565.6" stroke="#555" stroke-width="0.6"/>
<line x1="253.3" y1="554.2" x2="254.8" y2="557.2" stroke="#555" stroke-width="0.6"/>
<line x1="268.6" y1="546.2" x2="270.1" y2="549.2" stroke="#555" stroke-width="0.6"/>
<line x1="283.2" y1="538.6" x2="284.7" y2="541.6" stroke="#555" stroke-width="0.6"/>
<line x1="297.1" y1="531.3" x2="298.6" y2="534.3" stroke="#555" stroke-width="0.6"/>
<line x1="310.5" y1="524.3" x2="312" y2="527.3" stroke="#555" stroke-width="0.6"/>
<line x1="413.1" y1="527.3" x2="405.9" y2="341.8" stroke="#d4d4d4" stroke-width="0.7"/>
<line x1="431.5" y1="520.5" x2="425.5" y2="338.7" stroke="#d4d4d4" stroke-width="0.7"/>
<line x1="449.2" y1="514" x2="444.2" y2="335.7" stroke="#d4d4d4" stroke-width="0.7"/>
<line x1="466.2" y1="507.7" x2="462.1" y2="332.8" stroke="#d4d4d4" stroke-width="0.7"/>
<line x1="482.5" y1="501.7" x2="479.4" y2="330.1" stroke="#d4d4d4" stroke-width="0.7"/>
<line x1="498.2" y1="495.9" x2="495.9" y2="327.4" stroke="#d4d4d4" stroke-width="0.7"/>
<line x1="513.3" y1="490.3" x2="511.8" y2="324.9" stroke="#d4d4d4" stroke-width="0.7"/>
<line x1="527.8" y1="485" x2="527" y2="322.4" stroke="#d4d4d4" stroke-width="0.7"/>
<line x1="401.7" y1="510.5" x2="527.9" y2="466.9" stroke="#d4d4d4" stroke-width="0.7"/>
<line x1="400.3" y1="474.8" x2="527.8" y2="435.8" stroke="#d4d4d4" stroke-width="0.7"/>
<line x1="398.7" y1="438.4" x2="527.6" y2="404.2" stroke="#d4d4d4" stroke-width="0.7"/>
<line x1="397.2" y1="401.1" x2="527.4" y2="372" stroke="#d4d4d4" stroke-width="0.7"/>
<line x1="395.6" y1="363.1" x2="527.3" y2="339.2" stroke="#d4d4d4" stroke-width="0.7"/>
<line x1="536.7" y1="487.4" x2="536.4" y2="323.6" stroke="#d4d4d4" stroke-width="0.7"/>
<line x1="555" y1="492.5" x2="555.7" y2="326" stroke="#d4d4d4" stroke-width="0.7"/>
<line x1="573.9" y1="497.9" x2="575.8" y2="328.6" stroke="#d4d4d4" stroke-width="0.7"/>
<line x1="593.5" y1="503.4" x2="596.6" y2="331.2" stroke="#d4d4d4" stroke-width="0.7"/>
<line x1="613.9" y1="509.2" x2="618.2" y2="333.9" stroke="#d4d4d4" stroke-width="0.7"/>
<line x1="635" y1="515.1" x2="640.7" y2="336.8" stroke="#d4d4d4" stroke-width="0.7"/>
<line x1="656.9" y1="521.3" x2="664.2" y2="339.7" stroke="#d4d4d4" stroke-width="0.7"/>
<line x1="527.9" y1="467" x2="669.3" y2="504.6" stroke="#d4d4d4" stroke-width="0.7"/>
<line x1="527.8" y1="436.1" x2="670.8" y2="469.9" stroke="#d4d4d4" stroke-width="0.7"/>
<line x1="527.6" y1="404.5" x2="672.4" y2="434.3" stroke="#d4d4d4" stroke-width="0.7"/>
<line x1="527.4" y1="372.3" x2="674" y2="397.8" stroke="#d4d4d4" stroke-width="0.7"/>
<line x1="527.3" y1="339.3" x2="675.7" y2="360.5" stroke="#d4d4d4" stroke-width="0.7"/>
<line x1="413" y1="527.3" x2="559.4" y2="580.4" stroke="#d4d4d4" stroke-width="0.7"/>
<line x1="431.5" y1="520.5" x2="577.2" y2="571.3" stroke="#d4d4d4" stroke-width="0.7"/>
<line x1="449.2" y1="514" x2="594.1" y2="562.6" stroke="#d4d4d4" stroke-width="0.7"/>
<line x1="466.1" y1="507.7" x2="610.3" y2="554.4" stroke="#d4d4d4" stroke-width="0.7"/>
<line x1="482.5" y1="501.7" x2="625.7" y2="546.4" stroke="#d4d4d4" stroke-width="0.7"/>
<line x1="498.2" y1="495.9" x2="640.5" y2="538.9" stroke="#d4d4d4" stroke-width="0.7"/>
<line x1="513.3" y1="490.3" x2="654.7" y2="531.6" stroke="#d4d4d4" stroke-width="0.7"/>
<line x1="527.8" y1="485" x2="668.3" y2="524.7" stroke="#d4d4d4" stroke-width="0.7"/>
<line x1="411.5" y1="534.5" x2="536.7" y2="487.4" stroke="#d4d4d4" stroke-width="0.7"/>
<line x1="430.4" y1="541.5" x2="555" y2="492.5" stroke="#d4d4d4" stroke-width="0.7"/>
<line x1="449.9" y1="548.8" x2="574" y2="497.9" stroke="#d4d4d4" stroke-width="0.7"/>
<line x1="470.3" y1="556.3" x2="593.6" y2="503.4" stroke="#d4d4d4" stroke-width="0.7"/>
<line x1="491.6" y1="564.2" x2="613.9" y2="509.2" stroke="#d4d4d4" stroke-width="0.7"/>
<line x1="513.8" y1="572.4" x2="635" y2="515.2" stroke="#d4d4d4" stroke-width="0.7"/>
<line x1="537" y1="581.1" x2="656.9" y2="521.3" stroke="#d4d4d4" stroke-width="0.7"/>
<line x1="394.8" y1="343.6" x2="527.2" y2="322.4" stroke="#555" stroke-width="0.8"/>
<line x1="527.2" y1="322.4" x2="676.5" y2="341.3" stroke="#555" stroke-width="0.8"/>
<line x1="394.8" y1="343.6" x2="402.6" y2="531.2" stroke="#555" stroke-width="0.8"/>
<line x1="676.5" y1="341.3" x2="668.4" y2="524.6" stroke="#555" stroke-width="0.8"/>
<line x1="527.2" y1="322.4" x2="528" y2="484.9" stroke="#aaa" stroke-width="0.7"/>
<line x1="402.6" y1="531.2" x2="528" y2="484.9" stroke="#777" stroke-width="0.8"/>
<line x1="528" y1="484.9" x2="668.4" y2="524.6" stroke="#d0d0d0" stroke-width="0.7"/>
<line x1="402.6" y1="531.2" x2="549.3" y2="585.6" stroke="#555" stroke-width="0.8"/>
<line x1="549.3" y1="585.6" x2="668.4" y2="524.6" stroke="#555" stroke-width="0.8"/>
<line x1="398.2" y1="510.5" x2="401.7" y2="510.5" stroke="#555" stroke-width="0.7"/>
<line x1="396.8" y1="474.8" x2="400.3" y2="474.8" stroke="#555" stroke-width="0.7"/>
<line x1="395.2" y1="438.4" x2="398.7" y2="438.4" stroke="#555" stroke-width="0.7"/>
<line x1="393.7" y1="401.1" x2="397.2" y2="401.1" stroke="#555" stroke-width="0.7"/>
<line x1="392.1" y1="363.1" x2="395.6" y2="363.1" stroke="#555" stroke-width="0.7"/>
<line x1="411.5" y1="534.5" x2="410" y2="537.5" stroke="#555" stroke-width="0.6"/>
<line x1="430.4" y1="541.5" x2="428.9" y2="544.5" stroke="#555" stroke-width="0.6"/>
<line x1="449.9" y1="548.8" x2="448.4" y2="551.8" stroke="#555" stroke-width="0.6"/>
<line x1="470.3" y1="556.3" x2="468.8" y2="559.3" stroke="#555" stroke-width="0.6"/>
<line x1="491.6" y1="564.2" x2="490.1" y2="567.2" stroke="#555" stroke-width="0.6"/>
<line x1="513.8" y1="572.4" x2="512.3" y2="575.4" stroke="#555" stroke-width="0.6"/>
<line x1="537" y1="581.1" x2="535.5" y2="584.1" stroke="#555" stroke-width="0.6"/>
<line x1="559.4" y1="580.4" x2="560.9" y2="583.4" stroke="#555" stroke-width="0.6"/>
<line x1="577.2" y1="571.3" x2="578.7" y2="574.3" stroke="#555" stroke-width="0.6"/>
<line x1="594.1" y1="562.6" x2="595.6" y2="565.6" stroke="#555" stroke-width="0.6"/>
<line x1="610.3" y1="554.4" x2="611.8" y2="557.4" stroke="#555" stroke-width="0.6"/>
<line x1="625.7" y1="546.4" x2="627.2" y2="549.4" stroke="#555" stroke-width="0.6"/>
<line x1="640.5" y1="538.9" x2="642" y2="541.9" stroke="#555" stroke-width="0.6"/>
<line x1="654.7" y1="531.6" x2="656.2" y2="534.6" stroke="#555" stroke-width="0.6"/>
<line x1="668.3" y1="524.7" x2="669.8" y2="527.7" stroke="#555" stroke-width="0.6"/>
<g clip-path="url(#c1)"><g opacity="0.999">
<path d="M81.5,200.7C82.1,199.6 83,197.4 85,194.3C87,191.2 90.8,186.3 93.7,182C96.6,177.7 99.5,173.1 102.4,168.2C105.3,163.3 108.1,158.1 111,152.6C113.9,147.1 117.3,140.6 119.8,135.2C122.2,129.8 124,124.1 125.7,120C127.4,115.9 128.5,113.8 130.1,110.8C131.7,107.8 133.5,104.4 135.2,101.9C136.9,99.4 138.5,97.5 140.2,95.6C141.9,93.7 143.4,92.3 145.3,90.6C147.2,88.9 149.5,87.2 151.6,85.5C153.7,83.8 155.8,82.3 157.9,80.4C160,78.5 162.1,76.3 164.2,74.1C166.3,71.9 168.5,69.5 170.6,67.2C172.7,64.9 174.8,62.6 176.9,60.2C179,57.8 181.1,55.3 183.2,52.6C185.3,49.9 187.9,45.9 189.5,43.8C191.1,41.7 191.7,41.4 192.7,40C193.7,38.6 194.6,36.7 195.5,35.5C196.4,34.3 196.4,33.3 198,32.8C199.6,32.3 202.3,32.4 205,32.5C207.7,32.6 211.8,33.2 214.3,33.6C216.8,34 218.1,34.3 220,35C221.9,35.7 223.9,36.7 225.7,37.9C227.5,39.1 229.3,40.3 231,42C232.7,43.7 234.1,45.6 235.8,48C237.5,50.4 239.3,53.5 241,56.5C242.7,59.5 244.4,63.1 245.9,65.7C247.4,68.3 248.7,70.3 250,72C251.3,73.7 252.3,74.7 253.5,75.8C254.7,76.9 255.8,77.7 257,78.5C258.2,79.3 259.8,79.9 261,80.8C262.2,81.7 263.2,82.7 264,84C264.8,85.3 265.2,86.4 266,88.4C266.8,90.4 267.7,93.1 268.5,96C269.3,98.9 270.2,102.7 271,106C271.8,109.3 272.7,112.7 273.5,116C274.3,119.3 274.9,122.3 276,126C277.1,129.7 278.7,134.2 280,138C281.3,141.8 282.6,146.2 283.8,149C285,151.8 285.8,153.1 287,155C288.2,156.9 290.2,159.3 290.8,160.2C289.5,160.8 286.6,162.7 283.2,164C279.8,165.3 274.8,167.4 270.6,167.8C266.4,168.2 262.1,166.9 257.9,166.5C253.7,166.1 248.3,165.4 245.3,165.2C242.3,165 242.5,165.8 240,165.5C237.5,165.2 233.5,163.7 230.5,163.1C227.5,162.5 224.2,162.3 221.8,161.9C219.4,161.5 217.9,161 215.9,160.7C213.9,160.4 211.9,159.9 210,160.1C208.1,160.2 206.6,160.8 204.2,161.6C201.8,162.4 198.4,163.7 195.5,164.8C192.6,166 189.6,167.4 186.7,168.5C183.8,169.6 180,170.9 178,171.4C176,171.9 176.8,170.9 174.7,171.7C172.6,172.5 168.5,174.8 165.4,176.4C162.3,178 159.1,179.7 156,181C152.9,182.3 150.2,182.8 146.7,184C143.2,185.2 138.9,186.6 135,188C131.1,189.4 127.3,191.3 123.4,192.7C119.5,194.1 115.6,195.1 111.7,196.2C107.8,197.3 103.6,198.4 100,199.1C96.4,199.8 93.1,200.2 90,200.5C86.9,200.8 82.9,200.7 81.5,200.7Z" fill="#6900b4"/>
<polygon points="79.5,203.2 82.5,201.9 85.5,200.4 88.5,199.1 91.5,197.9 94.5,196.9 97.5,196 100.5,195.4 103.5,195 106.5,194.6 109.5,194.2 112.5,193.6 115.5,192.8 118.5,192 121.5,191.1 124.5,190.3 127.5,189.4 130.5,188.6 133.5,187.9 136.5,187.1 139.5,186.4 142.5,185.7 145.5,185 148.5,184.3 151.5,183.6 154.5,182.9 157.5,182.2 160.5,181.4 163.5,180.6 166.5,179.8 169.5,178.9 172.5,177.9 175.5,176.8 178.5,175.6 181.5,174.5 184.5,173.4 187.5,172.3 190.5,171.3 193.5,170.4 196.5,169.7 199.5,169.2 202.5,168.8 205.5,168.8 208.5,168.8 211.5,168.9 214.5,169.1 217.5,169.3 220.5,169.5 223.5,169.8 226.5,170 229.5,170.2 232.5,170.4 235.5,170.7 238.5,170.9 241.5,171.2 244.5,171.6 247.5,171.9 250.5,172.3 253.5,172.8 256.5,173.5 259.5,174.1 262.5,174.8 265.5,175.5 268.5,176.1 271.5,176.6 274.5,177.1 277.5,177.6 280.5,178.1 283.5,178.6 286.5,179.1 289.5,179.5 292.5,179.9 295.5,180.2 295.5,-50 79.5,-50" fill="#6e00c7"/>
<polygon points="79.5,201.5 82.5,200 85.5,198.4 88.5,197 91.5,195.7 94.5,194.6 97.5,193.6 100.5,192.9 103.5,192.3 106.5,191.9 109.5,191.4 112.5,190.8 115.5,190.1 118.5,189.4 121.5,188.6 124.5,187.9 127.5,187.1 130.5,186.4 133.5,185.7 136.5,185 139.5,184.3 142.5,183.7 145.5,183 148.5,182.3 151.5,181.7 154.5,181 157.5,180.3 160.5,179.6 163.5,178.9 166.5,178.1 169.5,177.2 172.5,176.3 175.5,175.2 178.5,174.1 181.5,173 184.5,171.9 187.5,170.9 190.5,170 193.5,169.1 196.5,168.4 199.5,167.9 202.5,167.6 205.5,167.5 208.5,167.5 211.5,167.6 214.5,167.7 217.5,167.9 220.5,168 223.5,168.2 226.5,168.3 229.5,168.5 232.5,168.6 235.5,168.9 238.5,169.1 241.5,169.4 244.5,169.8 247.5,170.2 250.5,170.6 253.5,171 256.5,171.6 259.5,172.3 262.5,172.9 265.5,173.5 268.5,174.1 271.5,174.6 274.5,175.1 277.5,175.7 280.5,176.2 283.5,176.7 286.5,177.2 289.5,177.7 292.5,178.1 295.5,178.5 295.5,-50 79.5,-50" fill="#7300da"/>
<polygon points="79.5,199.8 82.5,198.2 85.5,196.4 88.5,194.9 91.5,193.5 94.5,192.3 97.5,191.2 100.5,190.4 103.5,189.7 106.5,189.2 109.5,188.7 112.5,188.1 115.5,187.4 118.5,186.8 121.5,186.1 124.5,185.5 127.5,184.8 130.5,184.1 133.5,183.5 136.5,182.9 139.5,182.3 142.5,181.6 145.5,181 148.5,180.4 151.5,179.8 154.5,179.1 157.5,178.5 160.5,177.8 163.5,177.1 166.5,176.4 169.5,175.5 172.5,174.6 175.5,173.6 178.5,172.6 181.5,171.5 184.5,170.5 187.5,169.5 190.5,168.6 193.5,167.8 196.5,167.1 199.5,166.6 202.5,166.3 205.5,166.3 208.5,166.3 211.5,166.3 214.5,166.4 217.5,166.4 220.5,166.5 223.5,166.6 226.5,166.7 229.5,166.7 232.5,166.8 235.5,167 238.5,167.3 241.5,167.7 244.5,168 247.5,168.4 250.5,168.8 253.5,169.3 256.5,169.8 259.5,170.4 262.5,171 265.5,171.5 268.5,172.1 271.5,172.6 274.5,173.1 277.5,173.7 280.5,174.2 283.5,174.7 286.5,175.3 289.5,175.8 292.5,176.3 295.5,176.8 295.5,-50 79.5,-50" fill="#7800ec"/>
<polygon points="79.5,198 82.5,196.3 85.5,194.5 88.5,192.8 91.5,191.3 94.5,189.9 97.5,188.8 100.5,187.9 103.5,187.1 106.5,186.5 109.5,185.9 112.5,185.3 115.5,184.7 118.5,184.2 121.5,183.6 124.5,183 127.5,182.5 130.5,181.9 133.5,181.3 136.5,180.7 139.5,180.2 142.5,179.6 145.5,179 148.5,178.4 151.5,177.8 154.5,177.2 157.5,176.6 160.5,176 163.5,175.3 166.5,174.7 169.5,173.9 172.5,173 175.5,172 178.5,171 181.5,170 184.5,169.1 187.5,168.1 190.5,167.2 193.5,166.5 196.5,165.8 199.5,165.4 202.5,165.1 205.5,165 208.5,165 211.5,165 214.5,165 217.5,165 220.5,165 223.5,165 226.5,165 229.5,165 232.5,165.1 235.5,165.2 238.5,165.5 241.5,165.9 244.5,166.3 247.5,166.7 250.5,167.1 253.5,167.5 256.5,168 259.5,168.5 262.5,169 265.5,169.6 268.5,170.1 271.5,170.6 274.5,171.2 277.5,171.7 280.5,172.2 283.5,172.8 286.5,173.4 289.5,173.9 292.5,174.5 295.5,175 295.5,-50 79.5,-50" fill="#7d00ff"/>
<polygon points="79.5,196.8 82.5,195.1 85.5,193.3 88.5,191.6 91.5,190.1 94.5,188.7 97.5,187.6 100.5,186.7 103.5,185.9 106.5,185.3 109.5,184.7 112.5,184.1 115.5,183.5 118.5,182.9 121.5,182.3 124.5,181.7 127.5,181.1 130.5,180.5 133.5,180 136.5,179.4 139.5,178.8 142.5,178.2 145.5,177.6 148.5,177 151.5,176.4 154.5,175.7 157.5,175.1 160.5,174.5 163.5,173.8 166.5,173.2 169.5,172.4 172.5,171.5 175.5,170.6 178.5,169.6 181.5,168.7 184.5,167.7 187.5,166.8 190.5,166 193.5,165.2 196.5,164.6 199.5,164.2 202.5,163.9 205.5,163.8 208.5,163.8 211.5,163.8 214.5,163.8 217.5,163.8 220.5,163.9 223.5,163.9 226.5,163.9 229.5,163.9 232.5,164 235.5,164.2 238.5,164.5 241.5,164.8 244.5,165.2 247.5,165.6 250.5,166 253.5,166.4 256.5,166.9 259.5,167.4 262.5,167.9 265.5,168.5 268.5,169 271.5,169.5 274.5,170 277.5,170.5 280.5,171 283.5,171.6 286.5,172.1 289.5,172.6 292.5,173.2 295.5,173.7 295.5,-50 79.5,-50" fill="#6a00ff"/>
<polygon points="79.5,195.6 82.5,193.9 85.5,192.1 88.5,190.4 91.5,188.9 94.5,187.5 97.5,186.4 100.5,185.5 103.5,184.7 106.5,184.1 109.5,183.5 112.5,182.9 115.5,182.2 118.5,181.6 121.5,181 124.5,180.4 127.5,179.8 130.5,179.2 133.5,178.6 136.5,178 139.5,177.3 142.5,176.7 145.5,176.1 148.5,175.5 151.5,174.9 154.5,174.2 157.5,173.6 160.5,173 163.5,172.3 166.5,171.7 169.5,170.9 172.5,170 175.5,169.1 178.5,168.2 181.5,167.3 184.5,166.4 187.5,165.5 190.5,164.7 193.5,164 196.5,163.4 199.5,162.9 202.5,162.7 205.5,162.6 208.5,162.6 211.5,162.6 214.5,162.7 217.5,162.7 220.5,162.7 223.5,162.8 226.5,162.8 229.5,162.9 232.5,163 235.5,163.2 238.5,163.5 241.5,163.8 244.5,164.2 247.5,164.6 250.5,165 253.5,165.4 256.5,165.8 259.5,166.3 262.5,166.8 265.5,167.4 268.5,167.9 271.5,168.4 274.5,168.8 277.5,169.3 280.5,169.8 283.5,170.3 286.5,170.9 289.5,171.4 292.5,171.9 295.5,172.3 295.5,-50 79.5,-50" fill="#5800ff"/>
<polygon points="79.5,194.4 82.5,192.7 85.5,190.9 88.5,189.2 91.5,187.7 94.5,186.3 97.5,185.2 100.5,184.3 103.5,183.5 106.5,182.9 109.5,182.3 112.5,181.6 115.5,181 118.5,180.4 121.5,179.7 124.5,179.1 127.5,178.5 130.5,177.8 133.5,177.2 136.5,176.6 139.5,175.9 142.5,175.3 145.5,174.7 148.5,174 151.5,173.4 154.5,172.8 157.5,172.1 160.5,171.5 163.5,170.8 166.5,170.2 169.5,169.4 172.5,168.6 175.5,167.7 178.5,166.8 181.5,165.9 184.5,165 187.5,164.2 190.5,163.4 193.5,162.7 196.5,162.1 199.5,161.7 202.5,161.5 205.5,161.4 208.5,161.4 211.5,161.4 214.5,161.5 217.5,161.5 220.5,161.6 223.5,161.7 226.5,161.8 229.5,161.8 232.5,162 235.5,162.2 238.5,162.4 241.5,162.8 244.5,163.2 247.5,163.5 250.5,163.9 253.5,164.3 256.5,164.8 259.5,165.3 262.5,165.8 265.5,166.3 268.5,166.7 271.5,167.2 274.5,167.7 277.5,168.2 280.5,168.6 283.5,169.1 286.5,169.6 289.5,170.1 292.5,170.6 295.5,170.9 295.5,-50 79.5,-50" fill="#4500ff"/>
<polygon points="79.5,193.2 82.5,191.5 85.5,189.7 88.5,188 91.5,186.5 94.5,185.1 97.5,184 100.5,183.1 103.5,182.3 106.5,181.7 109.5,181.1 112.5,180.4 115.5,179.8 118.5,179.1 121.5,178.5 124.5,177.8 127.5,177.1 130.5,176.5 133.5,175.8 136.5,175.2 139.5,174.5 142.5,173.9 145.5,173.2 148.5,172.6 151.5,171.9 154.5,171.3 157.5,170.6 160.5,170 163.5,169.3 166.5,168.7 169.5,167.9 172.5,167.1 175.5,166.3 178.5,165.4 181.5,164.5 184.5,163.7 187.5,162.8 190.5,162.1 193.5,161.5 196.5,160.9 199.5,160.5 202.5,160.3 205.5,160.2 208.5,160.2 211.5,160.3 214.5,160.3 217.5,160.4 220.5,160.5 223.5,160.6 226.5,160.7 229.5,160.8 232.5,160.9 235.5,161.1 238.5,161.4 241.5,161.8 244.5,162.1 247.5,162.5 250.5,162.9 253.5,163.3 256.5,163.7 259.5,164.2 262.5,164.7 265.5,165.2 268.5,165.6 271.5,166.1 274.5,166.5 277.5,167 280.5,167.4 283.5,167.9 286.5,168.3 289.5,168.8 292.5,169.2 295.5,169.6 295.5,-50 79.5,-50" fill="#3200ff"/>
<polygon points="79.5,192 82.5,190.3 85.5,188.5 88.5,186.8 91.5,185.3 94.5,183.9 97.5,182.8 100.5,181.9 103.5,181.1 106.5,180.5 109.5,179.9 112.5,179.2 115.5,178.5 118.5,177.9 121.5,177.2 124.5,176.5 127.5,175.8 130.5,175.1 133.5,174.5 136.5,173.8 139.5,173.1 142.5,172.5 145.5,171.8 148.5,171.1 151.5,170.5 154.5,169.8 157.5,169.1 160.5,168.5 163.5,167.8 166.5,167.2 169.5,166.4 172.5,165.6 175.5,164.8 178.5,164 181.5,163.1 184.5,162.3 187.5,161.5 190.5,160.8 193.5,160.2 196.5,159.7 199.5,159.3 202.5,159.1 205.5,159 208.5,159 211.5,159.1 214.5,159.1 217.5,159.2 220.5,159.3 223.5,159.5 226.5,159.6 229.5,159.7 232.5,159.9 235.5,160.1 238.5,160.4 241.5,160.7 244.5,161.1 247.5,161.4 250.5,161.8 253.5,162.2 256.5,162.7 259.5,163.1 262.5,163.6 265.5,164.1 268.5,164.5 271.5,165 274.5,165.4 277.5,165.8 280.5,166.2 283.5,166.7 286.5,167.1 289.5,167.5 292.5,167.9 295.5,168.2 295.5,-50 79.5,-50" fill="#1f00ff"/>
<polygon points="79.5,190.8 82.5,189.1 85.5,187.3 88.5,185.6 91.5,184.1 94.5,182.7 97.5,181.6 100.5,180.7 103.5,179.9 106.5,179.3 109.5,178.7 112.5,178 115.5,177.3 118.5,176.6 121.5,175.9 124.5,175.2 127.5,174.5 130.5,173.8 133.5,173.1 136.5,172.4 139.5,171.7 142.5,171 145.5,170.3 148.5,169.7 151.5,169 154.5,168.3 157.5,167.6 160.5,167 163.5,166.3 166.5,165.7 169.5,165 172.5,164.2 175.5,163.4 178.5,162.6 181.5,161.7 184.5,161 187.5,160.2 190.5,159.5 193.5,158.9 196.5,158.4 199.5,158.1 202.5,157.9 205.5,157.8 208.5,157.8 211.5,157.9 214.5,158 217.5,158.1 220.5,158.2 223.5,158.4 226.5,158.5 229.5,158.7 232.5,158.9 235.5,159.1 238.5,159.4 241.5,159.7 244.5,160 247.5,160.4 250.5,160.8 253.5,161.2 256.5,161.6 259.5,162.1 262.5,162.5 265.5,163 268.5,163.4 271.5,163.8 274.5,164.2 277.5,164.6 280.5,165 283.5,165.4 286.5,165.8 289.5,166.2 292.5,166.6 295.5,166.9 295.5,-50 79.5,-50" fill="#0c00ff"/>
<polygon points="79.5,190 82.5,188.2 85.5,186.3 88.5,184.5 91.5,183 94.5,181.6 97.5,180.4 100.5,179.5 103.5,178.7 106.5,178.1 109.5,177.5 112.5,176.8 115.5,176.1 118.5,175.4 121.5,174.6 124.5,173.9 127.5,173.2 130.5,172.5 133.5,171.8 136.5,171.1 139.5,170.4 142.5,169.7 145.5,169 148.5,168.3 151.5,167.6 154.5,166.9 157.5,166.2 160.5,165.6 163.5,164.9 166.5,164.3 169.5,163.6 172.5,162.8 175.5,162 178.5,161.2 181.5,160.4 184.5,159.7 187.5,159 190.5,158.3 193.5,157.7 196.5,157.3 199.5,156.9 202.5,156.7 205.5,156.7 208.5,156.7 211.5,156.7 214.5,156.8 217.5,157 220.5,157.1 223.5,157.3 226.5,157.4 229.5,157.6 232.5,157.8 235.5,158.1 238.5,158.3 241.5,158.7 244.5,159 247.5,159.4 250.5,159.7 253.5,160.1 256.5,160.5 259.5,161 262.5,161.5 265.5,161.9 268.5,162.3 271.5,162.7 274.5,163.1 277.5,163.5 280.5,163.9 283.5,164.3 286.5,164.7 289.5,165 292.5,165.4 295.5,165.7 295.5,-50 79.5,-50" fill="#0007ff"/>
<polygon points="79.5,190 82.5,188 85.5,185.8 88.5,183.8 91.5,182 94.5,180.5 97.5,179.2 100.5,178.3 103.5,177.5 106.5,176.9 109.5,176.3 112.5,175.6 115.5,174.9 118.5,174.2 121.5,173.4 124.5,172.7 127.5,172 130.5,171.3 133.5,170.6 136.5,169.9 139.5,169.2 142.5,168.5 145.5,167.8 148.5,167.1 151.5,166.4 154.5,165.7 157.5,165 160.5,164.4 163.5,163.7 166.5,163.1 169.5,162.4 172.5,161.6 175.5,160.9 178.5,160.1 181.5,159.3 184.5,158.6 187.5,157.9 190.5,157.2 193.5,156.7 196.5,156.2 199.5,155.9 202.5,155.7 205.5,155.6 208.5,155.6 211.5,155.7 214.5,155.8 217.5,155.9 220.5,156.1 223.5,156.2 226.5,156.4 229.5,156.6 232.5,156.8 235.5,157 238.5,157.3 241.5,157.6 244.5,157.9 247.5,158.3 250.5,158.7 253.5,159.1 256.5,159.5 259.5,160 262.5,160.5 265.5,160.9 268.5,161.3 271.5,161.8 274.5,162.2 277.5,162.6 280.5,163 283.5,163.4 286.5,163.8 289.5,164.1 292.5,164.5 295.5,164.8 295.5,-50 79.5,-50" fill="#001cff"/>
<polygon points="79.5,190 82.5,187.8 85.5,185.3 88.5,183.1 91.5,181.1 94.5,179.4 97.5,178.1 100.5,177.1 103.5,176.3 106.5,175.7 109.5,175.1 112.5,174.4 115.5,173.7 118.5,173 121.5,172.2 124.5,171.5 127.5,170.8 130.5,170.1 133.5,169.4 136.5,168.7 139.5,168 142.5,167.3 145.5,166.6 148.5,165.9 151.5,165.2 154.5,164.5 157.5,163.8 160.5,163.2 163.5,162.5 166.5,161.9 169.5,161.2 172.5,160.5 175.5,159.7 178.5,158.9 181.5,158.2 184.5,157.5 187.5,156.8 190.5,156.1 193.5,155.6 196.5,155.1 199.5,154.8 202.5,154.6 205.5,154.6 208.5,154.6 211.5,154.6 214.5,154.7 217.5,154.9 220.5,155 223.5,155.2 226.5,155.3 229.5,155.5 232.5,155.7 235.5,156 238.5,156.2 241.5,156.6 244.5,156.9 247.5,157.2 250.5,157.6 253.5,158 256.5,158.5 259.5,159 262.5,159.4 265.5,159.9 268.5,160.4 271.5,160.8 274.5,161.2 277.5,161.6 280.5,162 283.5,162.4 286.5,162.8 289.5,163.2 292.5,163.6 295.5,163.9 295.5,-50 79.5,-50" fill="#0031ff"/>
<polygon points="79.5,190 82.5,187.5 85.5,184.8 88.5,182.3 91.5,180.2 94.5,178.4 97.5,176.9 100.5,175.8 103.5,175.1 106.5,174.5 109.5,173.9 112.5,173.2 115.5,172.5 118.5,171.8 121.5,171 124.5,170.3 127.5,169.6 130.5,168.9 133.5,168.2 136.5,167.5 139.5,166.8 142.5,166.1 145.5,165.3 148.5,164.6 151.5,164 154.5,163.3 157.5,162.6 160.5,161.9 163.5,161.3 166.5,160.7 169.5,160 172.5,159.3 175.5,158.5 178.5,157.8 181.5,157 184.5,156.3 187.5,155.7 190.5,155.1 193.5,154.5 196.5,154.1 199.5,153.8 202.5,153.6 205.5,153.5 208.5,153.5 211.5,153.6 214.5,153.7 217.5,153.8 220.5,154 223.5,154.1 226.5,154.3 229.5,154.5 232.5,154.7 235.5,154.9 238.5,155.2 241.5,155.5 244.5,155.8 247.5,156.2 250.5,156.6 253.5,157 256.5,157.4 259.5,157.9 262.5,158.4 265.5,158.9 268.5,159.4 271.5,159.8 274.5,160.2 277.5,160.7 280.5,161.1 283.5,161.5 286.5,161.9 289.5,162.3 292.5,162.7 295.5,163 295.5,-50 79.5,-50" fill="#0046ff"/>
<polygon points="79.5,190 82.5,187.3 85.5,184.3 88.5,181.6 91.5,179.2 94.5,177.3 97.5,175.8 100.5,174.6 103.5,173.9 106.5,173.3 109.5,172.7 112.5,172 115.5,171.3 118.5,170.6 121.5,169.8 124.5,169.1 127.5,168.4 130.5,167.7 133.5,167 136.5,166.3 139.5,165.6 142.5,164.8 145.5,164.1 148.5,163.4 151.5,162.7 154.5,162.1 157.5,161.4 160.5,160.7 163.5,160.1 166.5,159.5 169.5,158.8 172.5,158.1 175.5,157.4 178.5,156.6 181.5,155.9 184.5,155.2 187.5,154.6 190.5,154 193.5,153.4 196.5,153 199.5,152.7 202.5,152.5 205.5,152.5 208.5,152.5 211.5,152.5 214.5,152.6 217.5,152.8 220.5,152.9 223.5,153.1 226.5,153.2 229.5,153.4 232.5,153.6 235.5,153.9 238.5,154.1 241.5,154.4 244.5,154.8 247.5,155.1 250.5,155.5 253.5,155.9 256.5,156.4 259.5,156.9 262.5,157.4 265.5,157.9 268.5,158.4 271.5,158.8 274.5,159.3 277.5,159.7 280.5,160.1 283.5,160.6 286.5,161 289.5,161.4 292.5,161.8 295.5,162.1 295.5,-50 79.5,-50" fill="#005bff"/>
<polygon points="79.5,190 82.5,187 85.5,183.8 88.5,180.8 91.5,178.3 94.5,176.2 97.5,174.6 100.5,173.4 103.5,172.7 106.5,172.1 109.5,171.5 112.5,170.8 115.5,170.1 118.5,169.4 121.5,168.6 124.5,167.9 127.5,167.2 130.5,166.5 133.5,165.8 136.5,165.1 139.5,164.4 142.5,163.6 145.5,162.9 148.5,162.2 151.5,161.5 154.5,160.9 157.5,160.2 160.5,159.5 163.5,158.9 166.5,158.3 169.5,157.6 172.5,156.9 175.5,156.2 178.5,155.5 181.5,154.8 184.5,154.1 187.5,153.5 190.5,152.9 193.5,152.4 196.5,152 199.5,151.6 202.5,151.5 205.5,151.4 208.5,151.4 211.5,151.5 214.5,151.6 217.5,151.7 220.5,151.9 223.5,152 226.5,152.2 229.5,152.4 232.5,152.6 235.5,152.8 238.5,153.1 241.5,153.4 244.5,153.7 247.5,154.1 250.5,154.5 253.5,154.9 256.5,155.4 259.5,155.9 262.5,156.4 265.5,156.9 268.5,157.4 271.5,157.9 274.5,158.3 277.5,158.7 280.5,159.2 283.5,159.6 286.5,160 289.5,160.5 292.5,160.9 295.5,161.2 295.5,-50 79.5,-50" fill="#0070ff"/>
<polygon points="79.5,190 82.5,186.8 85.5,183.2 88.5,180.1 91.5,177.4 94.5,175.2 97.5,173.4 100.5,172.2 103.5,171.5 106.5,170.9 109.5,170.3 112.5,169.6 115.5,168.9 118.5,168.2 121.5,167.4 124.5,166.7 127.5,166 130.5,165.3 133.5,164.6 136.5,163.9 139.5,163.1 142.5,162.4 145.5,161.7 148.5,161 151.5,160.3 154.5,159.6 157.5,159 160.5,158.3 163.5,157.7 166.5,157.1 169.5,156.4 172.5,155.8 175.5,155.1 178.5,154.4 181.5,153.7 184.5,153 187.5,152.4 190.5,151.8 193.5,151.3 196.5,150.9 199.5,150.6 202.5,150.4 205.5,150.4 208.5,150.4 211.5,150.4 214.5,150.5 217.5,150.7 220.5,150.8 223.5,151 226.5,151.1 229.5,151.3 232.5,151.5 235.5,151.8 238.5,152 241.5,152.3 244.5,152.7 247.5,153 250.5,153.4 253.5,153.8 256.5,154.3 259.5,154.9 262.5,155.4 265.5,155.9 268.5,156.4 271.5,156.9 274.5,157.3 277.5,157.8 280.5,158.2 283.5,158.7 286.5,159.1 289.5,159.5 292.5,160 295.5,160.3 295.5,-50 79.5,-50" fill="#0085ff"/>
<polygon points="79.5,189 82.5,185.8 85.5,182.2 88.5,179 91.5,176.3 94.5,174 97.5,172.2 100.5,171 103.5,170.1 106.5,169.4 109.5,168.8 112.5,168.1 115.5,167.4 118.5,166.8 121.5,166.1 124.5,165.4 127.5,164.8 130.5,164.1 133.5,163.4 136.5,162.7 139.5,162 142.5,161.2 145.5,160.5 148.5,159.8 151.5,159.1 154.5,158.4 157.5,157.7 160.5,157.1 163.5,156.4 166.5,155.8 169.5,155.2 172.5,154.5 175.5,153.8 178.5,153.1 181.5,152.5 184.5,151.8 187.5,151.2 190.5,150.6 193.5,150.2 196.5,149.8 199.5,149.5 202.5,149.3 205.5,149.3 208.5,149.3 211.5,149.3 214.5,149.4 217.5,149.5 220.5,149.7 223.5,149.8 226.5,150 229.5,150.2 232.5,150.3 235.5,150.6 238.5,150.8 241.5,151.2 244.5,151.5 247.5,151.9 250.5,152.2 253.5,152.7 256.5,153.2 259.5,153.7 262.5,154.2 265.5,154.8 268.5,155.3 271.5,155.7 274.5,156.2 277.5,156.6 280.5,157.1 283.5,157.5 286.5,158 289.5,158.4 292.5,158.8 295.5,159.1 295.5,-50 79.5,-50" fill="#009aff"/>
<polygon points="79.5,187.5 82.5,184.4 85.5,180.9 88.5,177.8 91.5,175.1 94.5,172.8 97.5,171 100.5,169.6 103.5,168.6 106.5,167.9 109.5,167.2 112.5,166.5 115.5,165.9 118.5,165.3 121.5,164.7 124.5,164.1 127.5,163.5 130.5,162.9 133.5,162.2 136.5,161.5 139.5,160.8 142.5,160.1 145.5,159.3 148.5,158.6 151.5,157.8 154.5,157.1 157.5,156.4 160.5,155.7 163.5,155.1 166.5,154.5 169.5,153.9 172.5,153.2 175.5,152.6 178.5,151.9 181.5,151.2 184.5,150.6 187.5,150 190.5,149.5 193.5,149 196.5,148.6 199.5,148.3 202.5,148.2 205.5,148.1 208.5,148.1 211.5,148.2 214.5,148.3 217.5,148.4 220.5,148.5 223.5,148.6 226.5,148.8 229.5,148.9 232.5,149.1 235.5,149.3 238.5,149.6 241.5,149.9 244.5,150.2 247.5,150.6 250.5,151 253.5,151.4 256.5,151.9 259.5,152.4 262.5,153 265.5,153.5 268.5,154 271.5,154.5 274.5,154.9 277.5,155.4 280.5,155.8 283.5,156.3 286.5,156.7 289.5,157.1 292.5,157.5 295.5,157.8 295.5,-50 79.5,-50" fill="#00b0ff"/>
<polygon points="79.5,186 82.5,183 85.5,179.6 88.5,176.6 91.5,173.9 94.5,171.6 97.5,169.7 100.5,168.3 103.5,167.2 106.5,166.3 109.5,165.5 112.5,164.9 115.5,164.4 118.5,163.8 121.5,163.3 124.5,162.8 127.5,162.3 130.5,161.7 133.5,161.1 136.5,160.4 139.5,159.7 142.5,158.9 145.5,158.1 148.5,157.4 151.5,156.6 154.5,155.8 157.5,155.1 160.5,154.4 163.5,153.8 166.5,153.2 169.5,152.6 172.5,151.9 175.5,151.3 178.5,150.6 181.5,150 184.5,149.4 187.5,148.8 190.5,148.3 193.5,147.8 196.5,147.5 199.5,147.2 202.5,147 205.5,147 208.5,147 211.5,147.1 214.5,147.1 217.5,147.2 220.5,147.3 223.5,147.5 226.5,147.6 229.5,147.7 232.5,147.9 235.5,148.1 238.5,148.4 241.5,148.7 244.5,149 247.5,149.3 250.5,149.7 253.5,150.1 256.5,150.6 259.5,151.2 262.5,151.8 265.5,152.3 268.5,152.8 271.5,153.2 274.5,153.7 277.5,154.1 280.5,154.6 283.5,155 286.5,155.4 289.5,155.8 292.5,156.2 295.5,156.5 295.5,-50 79.5,-50" fill="#00c6ff"/>
<polygon points="79.5,184.5 82.5,181.5 85.5,178.3 88.5,175.3 91.5,172.7 94.5,170.4 97.5,168.5 100.5,167 103.5,165.7 106.5,164.7 109.5,163.9 112.5,163.3 115.5,162.8 118.5,162.4 121.5,161.9 124.5,161.5 127.5,161 130.5,160.5 133.5,159.9 136.5,159.2 139.5,158.5 142.5,157.7 145.5,156.9 148.5,156.1 151.5,155.4 154.5,154.6 157.5,153.8 160.5,153.1 163.5,152.5 166.5,151.9 169.5,151.3 172.5,150.7 175.5,150 178.5,149.4 181.5,148.8 184.5,148.2 187.5,147.6 190.5,147.1 193.5,146.7 196.5,146.3 199.5,146.1 202.5,145.9 205.5,145.9 208.5,145.9 211.5,145.9 214.5,146 217.5,146.1 220.5,146.2 223.5,146.3 226.5,146.4 229.5,146.5 232.5,146.7 235.5,146.9 238.5,147.1 241.5,147.4 244.5,147.7 247.5,148.1 250.5,148.5 253.5,148.9 256.5,149.4 259.5,149.9 262.5,150.5 265.5,151.1 268.5,151.5 271.5,152 274.5,152.4 277.5,152.9 280.5,153.3 283.5,153.7 286.5,154.1 289.5,154.5 292.5,154.9 295.5,155.2 295.5,-50 79.5,-50" fill="#00dbff"/>
<polygon points="79.5,183 82.5,180.1 85.5,177 88.5,174.1 91.5,171.5 94.5,169.2 97.5,167.3 100.5,165.6 103.5,164.2 106.5,163.1 109.5,162.3 112.5,161.7 115.5,161.3 118.5,160.9 121.5,160.6 124.5,160.2 127.5,159.8 130.5,159.3 133.5,158.7 136.5,158.1 139.5,157.3 142.5,156.6 145.5,155.8 148.5,154.9 151.5,154.1 154.5,153.3 157.5,152.5 160.5,151.8 163.5,151.2 166.5,150.6 169.5,150 172.5,149.4 175.5,148.8 178.5,148.1 181.5,147.5 184.5,147 187.5,146.4 190.5,145.9 193.5,145.5 196.5,145.2 199.5,144.9 202.5,144.8 205.5,144.8 208.5,144.8 211.5,144.8 214.5,144.9 217.5,144.9 220.5,145 223.5,145.1 226.5,145.2 229.5,145.3 232.5,145.4 235.5,145.6 238.5,145.9 241.5,146.2 244.5,146.5 247.5,146.8 250.5,147.2 253.5,147.6 256.5,148.1 259.5,148.7 262.5,149.3 265.5,149.8 268.5,150.3 271.5,150.8 274.5,151.2 277.5,151.6 280.5,152 283.5,152.5 286.5,152.8 289.5,153.2 292.5,153.6 295.5,153.9 295.5,-50 79.5,-50" fill="#00f1ff"/>
<polygon points="79.5,181.6 82.5,178.8 85.5,175.7 88.5,172.8 91.5,170.3 94.5,168 97.5,166 100.5,164.3 103.5,162.8 106.5,161.6 109.5,160.8 112.5,160.3 115.5,159.8 118.5,159.5 121.5,159.2 124.5,158.9 127.5,158.5 130.5,158.1 133.5,157.5 136.5,156.9 139.5,156.1 142.5,155.3 145.5,154.5 148.5,153.7 151.5,152.8 154.5,152 157.5,151.2 160.5,150.5 163.5,149.8 166.5,149.3 169.5,148.7 172.5,148.1 175.5,147.5 178.5,146.9 181.5,146.3 184.5,145.7 187.5,145.2 190.5,144.7 193.5,144.3 196.5,144 199.5,143.7 202.5,143.6 205.5,143.6 208.5,143.6 211.5,143.6 214.5,143.6 217.5,143.7 220.5,143.8 223.5,143.9 226.5,144 229.5,144.1 232.5,144.2 235.5,144.4 238.5,144.6 241.5,144.9 244.5,145.2 247.5,145.6 250.5,145.9 253.5,146.4 256.5,146.9 259.5,147.4 262.5,148 265.5,148.5 268.5,149 271.5,149.4 274.5,149.9 277.5,150.3 280.5,150.7 283.5,151.1 286.5,151.5 289.5,151.9 292.5,152.2 295.5,152.5 295.5,-50 79.5,-50" fill="#00fff7"/>
<polygon points="79.5,180.3 82.5,177.5 85.5,174.4 88.5,171.5 91.5,168.9 94.5,166.7 97.5,164.7 100.5,163 103.5,161.6 106.5,160.4 109.5,159.6 112.5,159 115.5,158.6 118.5,158.3 121.5,157.9 124.5,157.6 127.5,157.2 130.5,156.8 133.5,156.2 136.5,155.5 139.5,154.8 142.5,154 145.5,153.2 148.5,152.3 151.5,151.5 154.5,150.7 157.5,149.9 160.5,149.2 163.5,148.5 166.5,147.9 169.5,147.3 172.5,146.7 175.5,146.1 178.5,145.5 181.5,144.9 184.5,144.4 187.5,143.9 190.5,143.4 193.5,143 196.5,142.7 199.5,142.4 202.5,142.3 205.5,142.2 208.5,142.3 211.5,142.3 214.5,142.3 217.5,142.4 220.5,142.5 223.5,142.6 226.5,142.7 229.5,142.8 232.5,142.9 235.5,143.1 238.5,143.4 241.5,143.7 244.5,144 247.5,144.3 250.5,144.7 253.5,145.1 256.5,145.6 259.5,146.1 262.5,146.6 265.5,147.1 268.5,147.6 271.5,148 274.5,148.4 277.5,148.8 280.5,149.3 283.5,149.7 286.5,150.1 289.5,150.5 292.5,150.8 295.5,151.1 295.5,-50 79.5,-50" fill="#00ffdd"/>
<polygon points="79.5,179 82.5,176.2 85.5,173 88.5,170.2 91.5,167.6 94.5,165.4 97.5,163.4 100.5,161.7 103.5,160.3 106.5,159.2 109.5,158.4 112.5,157.8 115.5,157.4 118.5,157 121.5,156.7 124.5,156.3 127.5,155.9 130.5,155.5 133.5,154.9 136.5,154.2 139.5,153.5 142.5,152.7 145.5,151.8 148.5,151 151.5,150.1 154.5,149.3 157.5,148.5 160.5,147.8 163.5,147.2 166.5,146.6 169.5,146 172.5,145.4 175.5,144.8 178.5,144.2 181.5,143.6 184.5,143.1 187.5,142.5 190.5,142.1 193.5,141.7 196.5,141.4 199.5,141.1 202.5,141 205.5,140.9 208.5,140.9 211.5,141 214.5,141 217.5,141.1 220.5,141.2 223.5,141.3 226.5,141.4 229.5,141.5 232.5,141.6 235.5,141.8 238.5,142.1 241.5,142.4 244.5,142.7 247.5,143.1 250.5,143.4 253.5,143.8 256.5,144.2 259.5,144.7 262.5,145.2 265.5,145.7 268.5,146.1 271.5,146.5 274.5,147 277.5,147.4 280.5,147.8 283.5,148.2 286.5,148.6 289.5,149 292.5,149.4 295.5,149.7 295.5,-50 79.5,-50" fill="#00ffc4"/>
<polygon points="79.5,177.7 82.5,174.9 85.5,171.7 88.5,168.9 91.5,166.3 94.5,164 97.5,162.1 100.5,160.5 103.5,159.1 106.5,157.9 109.5,157.2 112.5,156.6 115.5,156.1 118.5,155.8 121.5,155.4 124.5,155.1 127.5,154.6 130.5,154.2 133.5,153.6 136.5,152.9 139.5,152.1 142.5,151.3 145.5,150.5 148.5,149.6 151.5,148.8 154.5,148 157.5,147.2 160.5,146.5 163.5,145.8 166.5,145.3 169.5,144.7 172.5,144.1 175.5,143.5 178.5,142.9 181.5,142.3 184.5,141.7 187.5,141.2 190.5,140.8 193.5,140.4 196.5,140 199.5,139.8 202.5,139.6 205.5,139.6 208.5,139.6 211.5,139.7 214.5,139.7 217.5,139.8 220.5,139.9 223.5,140 226.5,140.1 229.5,140.2 232.5,140.3 235.5,140.6 238.5,140.8 241.5,141.1 244.5,141.5 247.5,141.8 250.5,142.1 253.5,142.5 256.5,142.9 259.5,143.4 262.5,143.8 265.5,144.3 268.5,144.7 271.5,145.1 274.5,145.5 277.5,145.9 280.5,146.3 283.5,146.8 286.5,147.2 289.5,147.6 292.5,148 295.5,148.4 295.5,-50 79.5,-50" fill="#00ffab"/>
<polygon points="79.5,176.4 82.5,173.6 85.5,170.4 88.5,167.5 91.5,165 94.5,162.7 97.5,160.8 100.5,159.2 103.5,157.8 106.5,156.7 109.5,155.9 112.5,155.4 115.5,154.9 118.5,154.5 121.5,154.1 124.5,153.8 127.5,153.4 130.5,152.8 133.5,152.2 136.5,151.5 139.5,150.8 142.5,150 145.5,149.2 148.5,148.3 151.5,147.5 154.5,146.6 157.5,145.9 160.5,145.1 163.5,144.5 166.5,143.9 169.5,143.3 172.5,142.7 175.5,142.1 178.5,141.5 181.5,140.9 184.5,140.4 187.5,139.9 190.5,139.4 193.5,139 196.5,138.7 199.5,138.5 202.5,138.3 205.5,138.3 208.5,138.3 211.5,138.3 214.5,138.4 217.5,138.5 220.5,138.6 223.5,138.7 226.5,138.8 229.5,138.9 232.5,139.1 235.5,139.3 238.5,139.6 241.5,139.9 244.5,140.2 247.5,140.5 250.5,140.9 253.5,141.2 256.5,141.6 259.5,142 262.5,142.4 265.5,142.8 268.5,143.2 271.5,143.6 274.5,144 277.5,144.5 280.5,144.9 283.5,145.3 286.5,145.7 289.5,146.2 292.5,146.6 295.5,147 295.5,-50 79.5,-50" fill="#00ff91"/>
<polygon points="79.5,175.1 82.5,172.3 85.5,169.1 88.5,166.2 91.5,163.7 94.5,161.4 97.5,159.5 100.5,157.9 103.5,156.6 106.5,155.5 109.5,154.7 112.5,154.1 115.5,153.7 118.5,153.3 121.5,152.9 124.5,152.5 127.5,152.1 130.5,151.5 133.5,150.9 136.5,150.2 139.5,149.5 142.5,148.6 145.5,147.8 148.5,147 151.5,146.1 154.5,145.3 157.5,144.5 160.5,143.8 163.5,143.1 166.5,142.6 169.5,142 172.5,141.4 175.5,140.8 178.5,140.2 181.5,139.6 184.5,139.1 187.5,138.6 190.5,138.1 193.5,137.7 196.5,137.4 199.5,137.2 202.5,137 205.5,137 208.5,137 211.5,137 214.5,137.1 217.5,137.2 220.5,137.3 223.5,137.4 226.5,137.5 229.5,137.6 232.5,137.8 235.5,138 238.5,138.3 241.5,138.6 244.5,139 247.5,139.3 250.5,139.6 253.5,139.9 256.5,140.3 259.5,140.7 262.5,141 265.5,141.4 268.5,141.8 271.5,142.2 274.5,142.6 277.5,143 280.5,143.4 283.5,143.8 286.5,144.3 289.5,144.7 292.5,145.2 295.5,145.6 295.5,-50 79.5,-50" fill="#00ff78"/>
<polygon points="79.5,173.9 82.5,171 85.5,167.8 88.5,164.9 91.5,162.3 94.5,160.1 97.5,158.2 100.5,156.6 103.5,155.3 106.5,154.3 109.5,153.5 112.5,152.9 115.5,152.4 118.5,152 121.5,151.6 124.5,151.2 127.5,150.8 130.5,150.2 133.5,149.6 136.5,148.9 139.5,148.1 142.5,147.3 145.5,146.5 148.5,145.6 151.5,144.8 154.5,144 157.5,143.2 160.5,142.5 163.5,141.8 166.5,141.2 169.5,140.7 172.5,140.1 175.5,139.5 178.5,138.9 181.5,138.3 184.5,137.7 187.5,137.2 190.5,136.8 193.5,136.4 196.5,136.1 199.5,135.8 202.5,135.7 205.5,135.7 208.5,135.7 211.5,135.7 214.5,135.8 217.5,135.9 220.5,136 223.5,136.1 226.5,136.2 229.5,136.3 232.5,136.5 235.5,136.7 238.5,137 241.5,137.4 244.5,137.7 247.5,138 250.5,138.3 253.5,138.7 256.5,139 259.5,139.3 262.5,139.7 265.5,140 268.5,140.4 271.5,140.7 274.5,141.1 277.5,141.5 280.5,142 283.5,142.4 286.5,142.8 289.5,143.3 292.5,143.8 295.5,144.2 295.5,-50 79.5,-50" fill="#03fe5a"/>
<polygon points="79.5,172.6 82.5,169.7 85.5,166.5 88.5,163.6 91.5,161 94.5,158.8 97.5,156.9 100.5,155.3 103.5,154.1 106.5,153.1 109.5,152.3 112.5,151.7 115.5,151.2 118.5,150.8 121.5,150.3 124.5,149.9 127.5,149.5 130.5,148.9 133.5,148.3 136.5,147.6 139.5,146.8 142.5,146 145.5,145.1 148.5,144.3 151.5,143.4 154.5,142.6 157.5,141.8 160.5,141.1 163.5,140.5 166.5,139.9 169.5,139.3 172.5,138.7 175.5,138.1 178.5,137.5 181.5,137 184.5,136.4 187.5,135.9 190.5,135.5 193.5,135.1 196.5,134.8 199.5,134.5 202.5,134.4 205.5,134.3 208.5,134.4 211.5,134.4 214.5,134.5 217.5,134.6 220.5,134.7 223.5,134.8 226.5,134.9 229.5,135 232.5,135.2 235.5,135.5 238.5,135.8 241.5,136.1 244.5,136.4 247.5,136.8 250.5,137.1 253.5,137.4 256.5,137.7 259.5,138 262.5,138.3 265.5,138.6 268.5,138.9 271.5,139.3 274.5,139.7 277.5,140.1 280.5,140.5 283.5,140.9 286.5,141.4 289.5,141.9 292.5,142.4 295.5,142.8 295.5,-50 79.5,-50" fill="#05fc3c"/>
<polygon points="79.5,171.3 82.5,168.4 85.5,165.2 88.5,162.3 91.5,159.7 94.5,157.5 97.5,155.6 100.5,154.1 103.5,152.8 106.5,151.9 109.5,151.1 112.5,150.5 115.5,150 118.5,149.5 121.5,149.1 124.5,148.6 127.5,148.2 130.5,147.6 133.5,147 136.5,146.2 139.5,145.5 142.5,144.6 145.5,143.8 148.5,142.9 151.5,142.1 154.5,141.3 157.5,140.5 160.5,139.8 163.5,139.1 166.5,138.6 169.5,138 172.5,137.4 175.5,136.8 178.5,136.2 181.5,135.6 184.5,135.1 187.5,134.6 190.5,134.1 193.5,133.7 196.5,133.4 199.5,133.2 202.5,133.1 205.5,133 208.5,133 211.5,133.1 214.5,133.2 217.5,133.3 220.5,133.4 223.5,133.5 226.5,133.6 229.5,133.8 232.5,133.9 235.5,134.2 238.5,134.5 241.5,134.8 244.5,135.2 247.5,135.5 250.5,135.8 253.5,136.1 256.5,136.3 259.5,136.6 262.5,136.9 265.5,137.2 268.5,137.5 271.5,137.8 274.5,138.2 277.5,138.6 280.5,139 283.5,139.5 286.5,140 289.5,140.4 292.5,141 295.5,141.4 295.5,-50 79.5,-50" fill="#08fb1e"/>
<polygon points="79.5,170 82.5,167.1 85.5,163.9 88.5,161 91.5,158.4 94.5,156.1 97.5,154.3 100.5,152.8 103.5,151.6 106.5,150.6 109.5,149.9 112.5,149.3 115.5,148.7 118.5,148.3 121.5,147.8 124.5,147.4 127.5,146.9 130.5,146.3 133.5,145.6 136.5,144.9 139.5,144.1 142.5,143.3 145.5,142.5 148.5,141.6 151.5,140.8 154.5,139.9 157.5,139.2 160.5,138.4 163.5,137.8 166.5,137.2 169.5,136.6 172.5,136 175.5,135.4 178.5,134.9 181.5,134.3 184.5,133.8 187.5,133.3 190.5,132.8 193.5,132.4 196.5,132.1 199.5,131.9 202.5,131.7 205.5,131.7 208.5,131.7 211.5,131.8 214.5,131.8 217.5,131.9 220.5,132.1 223.5,132.2 226.5,132.3 229.5,132.5 232.5,132.7 235.5,132.9 238.5,133.2 241.5,133.6 244.5,133.9 247.5,134.3 250.5,134.5 253.5,134.8 256.5,135 259.5,135.3 262.5,135.5 265.5,135.8 268.5,136.1 271.5,136.4 274.5,136.8 277.5,137.1 280.5,137.6 283.5,138 286.5,138.5 289.5,139 292.5,139.5 295.5,140 295.5,-50 79.5,-50" fill="#0afa00"/>
<polygon points="79.5,168.2 82.5,165.3 85.5,162.1 88.5,159.2 91.5,156.7 94.5,154.5 97.5,152.6 100.5,151.1 103.5,149.9 106.5,149 109.5,148.2 112.5,147.6 115.5,147.1 118.5,146.6 121.5,146.1 124.5,145.7 127.5,145.2 130.5,144.6 133.5,143.9 136.5,143.2 139.5,142.4 142.5,141.6 145.5,140.7 148.5,139.9 151.5,139.1 154.5,138.2 157.5,137.5 160.5,136.7 163.5,136.1 166.5,135.5 169.5,134.9 172.5,134.3 175.5,133.6 178.5,133 181.5,132.4 184.5,131.8 187.5,131.3 190.5,130.8 193.5,130.4 196.5,130.1 199.5,129.8 202.5,129.7 205.5,129.6 208.5,129.7 211.5,129.7 214.5,129.8 217.5,129.9 220.5,130 223.5,130.2 226.5,130.3 229.5,130.5 232.5,130.6 235.5,130.9 238.5,131.1 241.5,131.5 244.5,131.8 247.5,132.1 250.5,132.4 253.5,132.6 256.5,132.9 259.5,133.1 262.5,133.4 265.5,133.6 268.5,134 271.5,134.3 274.5,134.7 277.5,135.1 280.5,135.5 283.5,135.9 286.5,136.4 289.5,136.9 292.5,137.4 295.5,137.9 295.5,-50 79.5,-50" fill="#21fb00"/>
<polygon points="79.5,166.4 82.5,163.5 85.5,160.4 88.5,157.5 91.5,155 94.5,152.8 97.5,151 100.5,149.5 103.5,148.3 106.5,147.4 109.5,146.6 112.5,145.9 115.5,145.4 118.5,144.9 121.5,144.4 124.5,144 127.5,143.5 130.5,142.9 133.5,142.2 136.5,141.5 139.5,140.7 142.5,139.9 145.5,139 148.5,138.2 151.5,137.4 154.5,136.5 157.5,135.8 160.5,135 163.5,134.4 166.5,133.7 169.5,133.1 172.5,132.5 175.5,131.8 178.5,131.2 181.5,130.5 184.5,129.9 187.5,129.4 190.5,128.9 193.5,128.4 196.5,128.1 199.5,127.8 202.5,127.6 205.5,127.6 208.5,127.6 211.5,127.7 214.5,127.8 217.5,127.9 220.5,128 223.5,128.1 226.5,128.3 229.5,128.4 232.5,128.6 235.5,128.8 238.5,129.1 241.5,129.4 244.5,129.6 247.5,129.9 250.5,130.2 253.5,130.4 256.5,130.7 259.5,131 262.5,131.2 265.5,131.5 268.5,131.9 271.5,132.2 274.5,132.6 277.5,133 280.5,133.4 283.5,133.9 286.5,134.3 289.5,134.8 292.5,135.4 295.5,135.8 295.5,-50 79.5,-50" fill="#37fc00"/>
<polygon points="79.5,164.6 82.5,161.8 85.5,158.7 88.5,155.8 91.5,153.3 94.5,151.1 97.5,149.3 100.5,147.8 103.5,146.7 106.5,145.7 109.5,144.9 112.5,144.3 115.5,143.7 118.5,143.2 121.5,142.8 124.5,142.3 127.5,141.8 130.5,141.2 133.5,140.5 136.5,139.8 139.5,139 142.5,138.2 145.5,137.3 148.5,136.5 151.5,135.7 154.5,134.8 157.5,134.1 160.5,133.3 163.5,132.6 166.5,132 169.5,131.4 172.5,130.7 175.5,130 178.5,129.3 181.5,128.7 184.5,128 187.5,127.4 190.5,126.9 193.5,126.4 196.5,126 199.5,125.8 202.5,125.6 205.5,125.5 208.5,125.6 211.5,125.6 214.5,125.7 217.5,125.8 220.5,126 223.5,126.1 226.5,126.3 229.5,126.4 232.5,126.6 235.5,126.8 238.5,127 241.5,127.2 244.5,127.5 247.5,127.8 250.5,128 253.5,128.3 256.5,128.5 259.5,128.8 262.5,129.1 265.5,129.4 268.5,129.8 271.5,130.1 274.5,130.5 277.5,130.9 280.5,131.3 283.5,131.8 286.5,132.3 289.5,132.7 292.5,133.3 295.5,133.7 295.5,-50 79.5,-50" fill="#4efc00"/>
<polygon points="79.5,162.8 82.5,160 85.5,156.9 88.5,154.1 91.5,151.6 94.5,149.5 97.5,147.6 100.5,146.2 103.5,145 106.5,144.1 109.5,143.3 112.5,142.6 115.5,142.1 118.5,141.5 121.5,141.1 124.5,140.6 127.5,140.1 130.5,139.5 133.5,138.8 136.5,138 139.5,137.3 142.5,136.5 145.5,135.6 148.5,134.8 151.5,134 154.5,133.2 157.5,132.4 160.5,131.6 163.5,130.9 166.5,130.3 169.5,129.6 172.5,128.9 175.5,128.2 178.5,127.5 181.5,126.8 184.5,126.1 187.5,125.5 190.5,124.9 193.5,124.4 196.5,124 199.5,123.7 202.5,123.5 205.5,123.5 208.5,123.5 211.5,123.6 214.5,123.7 217.5,123.8 220.5,123.9 223.5,124.1 226.5,124.2 229.5,124.4 232.5,124.5 235.5,124.7 238.5,124.9 241.5,125.1 244.5,125.4 247.5,125.6 250.5,125.8 253.5,126.1 256.5,126.4 259.5,126.7 262.5,127 265.5,127.3 268.5,127.7 271.5,128 274.5,128.4 277.5,128.8 280.5,129.3 283.5,129.7 286.5,130.2 289.5,130.7 292.5,131.2 295.5,131.6 295.5,-50 79.5,-50" fill="#64fd00"/>
<polygon points="79.5,161 82.5,158.2 85.5,155.2 88.5,152.4 91.5,149.9 94.5,147.8 97.5,146 100.5,144.5 103.5,143.4 106.5,142.4 109.5,141.6 112.5,141 115.5,140.4 118.5,139.9 121.5,139.4 124.5,138.9 127.5,138.3 130.5,137.7 133.5,137.1 136.5,136.3 139.5,135.6 142.5,134.8 145.5,133.9 148.5,133.1 151.5,132.3 154.5,131.5 157.5,130.7 160.5,129.9 163.5,129.2 166.5,128.5 169.5,127.8 172.5,127.1 175.5,126.4 178.5,125.6 181.5,124.9 184.5,124.2 187.5,123.5 190.5,122.9 193.5,122.4 196.5,122 199.5,121.7 202.5,121.5 205.5,121.4 208.5,121.5 211.5,121.5 214.5,121.6 217.5,121.8 220.5,121.9 223.5,122.1 226.5,122.2 229.5,122.4 232.5,122.5 235.5,122.7 238.5,122.8 241.5,123 244.5,123.2 247.5,123.4 250.5,123.7 253.5,123.9 256.5,124.2 259.5,124.5 262.5,124.8 265.5,125.2 268.5,125.6 271.5,125.9 274.5,126.3 277.5,126.7 280.5,127.2 283.5,127.6 286.5,128.1 289.5,128.6 292.5,129.1 295.5,129.5 295.5,-50 79.5,-50" fill="#7bfe00"/>
<polygon points="79.5,159.2 82.5,156.5 85.5,153.4 88.5,150.7 91.5,148.3 94.5,146.1 97.5,144.3 100.5,142.9 103.5,141.7 106.5,140.8 109.5,140 112.5,139.3 115.5,138.7 118.5,138.2 121.5,137.7 124.5,137.2 127.5,136.6 130.5,136 133.5,135.3 136.5,134.6 139.5,133.8 142.5,133 145.5,132.2 148.5,131.4 151.5,130.6 154.5,129.8 157.5,129 160.5,128.2 163.5,127.5 166.5,126.8 169.5,126.1 172.5,125.3 175.5,124.6 178.5,123.8 181.5,123 184.5,122.3 187.5,121.6 190.5,121 193.5,120.4 196.5,120 199.5,119.6 202.5,119.4 205.5,119.4 208.5,119.4 211.5,119.5 214.5,119.6 217.5,119.7 220.5,119.9 223.5,120 226.5,120.2 229.5,120.3 232.5,120.5 235.5,120.6 238.5,120.8 241.5,120.9 244.5,121.1 247.5,121.3 250.5,121.5 253.5,121.7 256.5,122 259.5,122.4 262.5,122.7 265.5,123.1 268.5,123.5 271.5,123.8 274.5,124.2 277.5,124.7 280.5,125.1 283.5,125.5 286.5,126 289.5,126.5 292.5,127 295.5,127.4 295.5,-50 79.5,-50" fill="#91ff00"/>
<polygon points="79.5,157.2 82.5,154.5 85.5,151.5 88.5,148.8 91.5,146.4 94.5,144.3 97.5,142.5 100.5,141.1 103.5,140 106.5,139 109.5,138.3 112.5,137.6 115.5,137 118.5,136.5 121.5,135.9 124.5,135.4 127.5,134.9 130.5,134.3 133.5,133.6 136.5,132.8 139.5,132.1 142.5,131.3 145.5,130.4 148.5,129.6 151.5,128.8 154.5,128 157.5,127.2 160.5,126.4 163.5,125.7 166.5,125 169.5,124.2 172.5,123.4 175.5,122.6 178.5,121.8 181.5,121 184.5,120.2 187.5,119.5 190.5,118.9 193.5,118.3 196.5,117.8 199.5,117.5 202.5,117.2 205.5,117.2 208.5,117.2 211.5,117.3 214.5,117.4 217.5,117.5 220.5,117.7 223.5,117.8 226.5,118 229.5,118.1 232.5,118.2 235.5,118.4 238.5,118.5 241.5,118.6 244.5,118.8 247.5,119 250.5,119.2 253.5,119.4 256.5,119.7 259.5,120 262.5,120.4 265.5,120.8 268.5,121.2 271.5,121.6 274.5,122 277.5,122.4 280.5,122.8 283.5,123.2 286.5,123.7 289.5,124.2 292.5,124.6 295.5,125.1 295.5,-50 79.5,-50" fill="#a6ff00"/>
<polygon points="79.5,155 82.5,152.3 85.5,149.3 88.5,146.6 91.5,144.2 94.5,142.1 97.5,140.4 100.5,139 103.5,138 106.5,137.1 109.5,136.4 112.5,135.7 115.5,135.1 118.5,134.6 121.5,134.1 124.5,133.5 127.5,133 130.5,132.3 133.5,131.6 136.5,130.9 139.5,130.1 142.5,129.3 145.5,128.5 148.5,127.6 151.5,126.8 154.5,126 157.5,125.1 160.5,124.4 163.5,123.6 166.5,122.9 169.5,122.1 172.5,121.3 175.5,120.5 178.5,119.6 181.5,118.8 184.5,118 187.5,117.2 190.5,116.5 193.5,115.9 196.5,115.4 199.5,115 202.5,114.8 205.5,114.8 208.5,114.8 211.5,114.8 214.5,114.9 217.5,115 220.5,115.1 223.5,115.3 226.5,115.4 229.5,115.5 232.5,115.6 235.5,115.7 238.5,115.8 241.5,116 244.5,116.2 247.5,116.3 250.5,116.5 253.5,116.8 256.5,117.1 259.5,117.4 262.5,117.8 265.5,118.1 268.5,118.5 271.5,118.9 274.5,119.2 277.5,119.6 280.5,120.1 283.5,120.5 286.5,120.9 289.5,121.4 292.5,121.8 295.5,122.2 295.5,-50 79.5,-50" fill="#b8ff00"/>
<polygon points="79.5,152.7 82.5,150 85.5,147.1 88.5,144.4 91.5,142 94.5,140 97.5,138.3 100.5,137 103.5,136 106.5,135.2 109.5,134.5 112.5,133.9 115.5,133.3 118.5,132.7 121.5,132.2 124.5,131.6 127.5,131.1 130.5,130.4 133.5,129.7 136.5,129 139.5,128.2 142.5,127.4 145.5,126.5 148.5,125.7 151.5,124.8 154.5,124 157.5,123.1 160.5,122.3 163.5,121.6 166.5,120.8 169.5,120 172.5,119.2 175.5,118.3 178.5,117.4 181.5,116.5 184.5,115.7 187.5,114.9 190.5,114.2 193.5,113.5 196.5,113 199.5,112.6 202.5,112.4 205.5,112.3 208.5,112.3 211.5,112.4 214.5,112.4 217.5,112.5 220.5,112.6 223.5,112.7 226.5,112.8 229.5,112.9 232.5,112.9 235.5,113.1 238.5,113.2 241.5,113.3 244.5,113.5 247.5,113.7 250.5,113.9 253.5,114.1 256.5,114.4 259.5,114.8 262.5,115.1 265.5,115.4 268.5,115.8 271.5,116.2 274.5,116.5 277.5,116.9 280.5,117.3 283.5,117.7 286.5,118.2 289.5,118.6 292.5,119.1 295.5,119.4 295.5,-50 79.5,-50" fill="#caff00"/>
<polygon points="79.5,150.5 82.5,147.8 85.5,144.8 88.5,142.2 91.5,139.8 94.5,137.8 97.5,136.2 100.5,134.9 103.5,134 106.5,133.3 109.5,132.6 112.5,132 115.5,131.4 118.5,130.9 121.5,130.3 124.5,129.8 127.5,129.2 130.5,128.5 133.5,127.8 136.5,127 139.5,126.2 142.5,125.4 145.5,124.6 148.5,123.7 151.5,122.8 154.5,122 157.5,121.1 160.5,120.3 163.5,119.5 166.5,118.7 169.5,117.9 172.5,117 175.5,116.1 178.5,115.2 181.5,114.3 184.5,113.4 187.5,112.6 190.5,111.8 193.5,111.1 196.5,110.6 199.5,110.2 202.5,109.9 205.5,109.9 208.5,109.9 211.5,109.9 214.5,110 217.5,110 220.5,110.1 223.5,110.1 226.5,110.2 229.5,110.2 232.5,110.3 235.5,110.4 238.5,110.5 241.5,110.7 244.5,110.9 247.5,111.1 250.5,111.3 253.5,111.5 256.5,111.8 259.5,112.1 262.5,112.4 265.5,112.8 268.5,113.1 271.5,113.5 274.5,113.8 277.5,114.2 280.5,114.6 283.5,115 286.5,115.4 289.5,115.8 292.5,116.3 295.5,116.6 295.5,-50 79.5,-50" fill="#dbff00"/>
<polygon points="79.5,148.2 82.5,145.6 85.5,142.6 88.5,139.9 91.5,137.6 94.5,135.6 97.5,134.1 100.5,132.9 103.5,132.1 106.5,131.4 109.5,130.8 112.5,130.1 115.5,129.6 118.5,129 121.5,128.4 124.5,127.9 127.5,127.3 130.5,126.6 133.5,125.9 136.5,125.1 139.5,124.3 142.5,123.5 145.5,122.6 148.5,121.7 151.5,120.8 154.5,120 157.5,119.1 160.5,118.3 163.5,117.5 166.5,116.7 169.5,115.8 172.5,114.9 175.5,114 178.5,113 181.5,112 184.5,111.1 187.5,110.2 190.5,109.5 193.5,108.8 196.5,108.2 199.5,107.8 202.5,107.5 205.5,107.4 208.5,107.4 211.5,107.5 214.5,107.5 217.5,107.5 220.5,107.5 223.5,107.6 226.5,107.6 229.5,107.6 232.5,107.7 235.5,107.8 238.5,107.9 241.5,108.1 244.5,108.3 247.5,108.5 250.5,108.7 253.5,108.9 256.5,109.2 259.5,109.5 262.5,109.8 265.5,110.1 268.5,110.4 271.5,110.8 274.5,111.1 277.5,111.5 280.5,111.9 283.5,112.2 286.5,112.6 289.5,113 292.5,113.5 295.5,113.8 295.5,-50 79.5,-50" fill="#edff00"/>
<polygon points="79.5,146 82.5,143.3 85.5,140.4 88.5,137.7 91.5,135.4 94.5,133.5 97.5,132 100.5,130.8 103.5,130.1 106.5,129.5 109.5,128.9 112.5,128.3 115.5,127.7 118.5,127.1 121.5,126.6 124.5,126 127.5,125.4 130.5,124.7 133.5,124 136.5,123.2 139.5,122.4 142.5,121.5 145.5,120.6 148.5,119.8 151.5,118.9 154.5,118 157.5,117.1 160.5,116.2 163.5,115.4 166.5,114.6 169.5,113.7 172.5,112.8 175.5,111.8 178.5,110.8 181.5,109.8 184.5,108.8 187.5,107.9 190.5,107.1 193.5,106.4 196.5,105.8 199.5,105.3 202.5,105.1 205.5,105 208.5,105 211.5,105 214.5,105 217.5,105 220.5,105 223.5,105 226.5,105 229.5,105 232.5,105 235.5,105.1 238.5,105.3 241.5,105.4 244.5,105.6 247.5,105.8 250.5,106 253.5,106.3 256.5,106.5 259.5,106.8 262.5,107.1 265.5,107.4 268.5,107.8 271.5,108.1 274.5,108.4 277.5,108.8 280.5,109.1 283.5,109.5 286.5,109.9 289.5,110.3 292.5,110.7 295.5,111 295.5,-50 79.5,-50" fill="#ffff00"/>
<polygon points="79.5,143.8 82.5,141.2 85.5,138.4 88.5,135.8 91.5,133.6 94.5,131.7 97.5,130.2 100.5,129.1 103.5,128.3 106.5,127.6 109.5,127 112.5,126.4 115.5,125.8 118.5,125.2 121.5,124.7 124.5,124.1 127.5,123.5 130.5,122.8 133.5,122.1 136.5,121.3 139.5,120.4 142.5,119.5 145.5,118.6 148.5,117.7 151.5,116.8 154.5,115.8 157.5,114.9 160.5,114 163.5,113.2 166.5,112.3 169.5,111.4 172.5,110.5 175.5,109.5 178.5,108.5 181.5,107.5 184.5,106.5 187.5,105.6 190.5,104.7 193.5,104 196.5,103.4 199.5,103 202.5,102.7 205.5,102.6 208.5,102.6 211.5,102.6 214.5,102.6 217.5,102.6 220.5,102.6 223.5,102.7 226.5,102.7 229.5,102.7 232.5,102.7 235.5,102.8 238.5,102.9 241.5,103.1 244.5,103.3 247.5,103.5 250.5,103.7 253.5,104 256.5,104.3 259.5,104.7 262.5,105.1 265.5,105.5 268.5,105.9 271.5,106.3 274.5,106.6 277.5,107 280.5,107.4 283.5,107.7 286.5,108.1 289.5,108.5 292.5,108.9 295.5,109.2 295.5,-50 79.5,-50" fill="#ffef00"/>
<polygon points="79.5,141.6 82.5,139.2 85.5,136.4 88.5,134 91.5,131.8 94.5,130 97.5,128.4 100.5,127.3 103.5,126.4 106.5,125.7 109.5,125.1 112.5,124.4 115.5,123.9 118.5,123.3 121.5,122.8 124.5,122.2 127.5,121.6 130.5,120.9 133.5,120.2 136.5,119.3 139.5,118.5 142.5,117.6 145.5,116.6 148.5,115.6 151.5,114.7 154.5,113.7 157.5,112.7 160.5,111.8 163.5,110.9 166.5,110.1 169.5,109.2 172.5,108.2 175.5,107.2 178.5,106.1 181.5,105.1 184.5,104.1 187.5,103.2 190.5,102.4 193.5,101.6 196.5,101 199.5,100.6 202.5,100.3 205.5,100.2 208.5,100.2 211.5,100.2 214.5,100.3 217.5,100.3 220.5,100.3 223.5,100.3 226.5,100.3 229.5,100.4 232.5,100.4 235.5,100.5 238.5,100.6 241.5,100.8 244.5,101 247.5,101.2 250.5,101.4 253.5,101.7 256.5,102.1 259.5,102.6 262.5,103.1 265.5,103.6 268.5,104 271.5,104.4 274.5,104.8 277.5,105.2 280.5,105.6 283.5,106 286.5,106.4 289.5,106.8 292.5,107.2 295.5,107.5 295.5,-50 79.5,-50" fill="#ffdf00"/>
<polygon points="79.5,139.5 82.5,137.1 85.5,134.5 88.5,132.1 91.5,130 94.5,128.2 97.5,126.7 100.5,125.5 103.5,124.6 106.5,123.8 109.5,123.2 112.5,122.5 115.5,122 118.5,121.4 121.5,120.9 124.5,120.3 127.5,119.7 130.5,119 133.5,118.3 136.5,117.4 139.5,116.5 142.5,115.6 145.5,114.6 148.5,113.6 151.5,112.6 154.5,111.5 157.5,110.6 160.5,109.6 163.5,108.7 166.5,107.8 169.5,106.9 172.5,105.9 175.5,104.9 178.5,103.8 181.5,102.8 184.5,101.8 187.5,100.9 190.5,100 193.5,99.3 196.5,98.6 199.5,98.2 202.5,97.9 205.5,97.8 208.5,97.8 211.5,97.9 214.5,97.9 217.5,97.9 220.5,97.9 223.5,98 226.5,98 229.5,98 232.5,98.1 235.5,98.2 238.5,98.3 241.5,98.5 244.5,98.7 247.5,98.9 250.5,99.1 253.5,99.4 256.5,99.9 259.5,100.5 262.5,101.1 265.5,101.7 268.5,102.2 271.5,102.6 274.5,103 277.5,103.4 280.5,103.9 283.5,104.3 286.5,104.7 289.5,105 292.5,105.4 295.5,105.7 295.5,-50 79.5,-50" fill="#ffcf00"/>
<polygon points="79.5,137.3 82.5,135 85.5,132.5 88.5,130.2 91.5,128.2 94.5,126.4 97.5,124.9 100.5,123.7 103.5,122.8 106.5,122 109.5,121.2 112.5,120.6 115.5,120 118.5,119.5 121.5,119 124.5,118.4 127.5,117.8 130.5,117.2 133.5,116.4 136.5,115.5 139.5,114.6 142.5,113.6 145.5,112.6 148.5,111.5 151.5,110.5 154.5,109.4 157.5,108.4 160.5,107.4 163.5,106.4 166.5,105.6 169.5,104.6 172.5,103.6 175.5,102.5 178.5,101.5 181.5,100.4 184.5,99.4 187.5,98.5 190.5,97.6 193.5,96.9 196.5,96.3 199.5,95.8 202.5,95.5 205.5,95.5 208.5,95.5 211.5,95.5 214.5,95.5 217.5,95.5 220.5,95.6 223.5,95.6 226.5,95.7 229.5,95.7 232.5,95.8 235.5,95.9 238.5,96 241.5,96.2 244.5,96.3 247.5,96.5 250.5,96.8 253.5,97.2 256.5,97.7 259.5,98.4 262.5,99.1 265.5,99.8 268.5,100.3 271.5,100.8 274.5,101.2 277.5,101.7 280.5,102.1 283.5,102.5 286.5,102.9 289.5,103.3 292.5,103.6 295.5,103.9 295.5,-50 79.5,-50" fill="#ffbf00"/>
<polygon points="79.5,135.1 82.5,132.9 85.5,130.5 88.5,128.4 91.5,126.4 94.5,124.7 97.5,123.2 100.5,121.9 103.5,120.9 106.5,120.1 109.5,119.3 112.5,118.7 115.5,118.1 118.5,117.6 121.5,117.1 124.5,116.5 127.5,115.9 130.5,115.3 133.5,114.5 136.5,113.6 139.5,112.6 142.5,111.6 145.5,110.6 148.5,109.5 151.5,108.4 154.5,107.3 157.5,106.2 160.5,105.2 163.5,104.2 166.5,103.3 169.5,102.3 172.5,101.3 175.5,100.2 178.5,99.2 181.5,98.1 184.5,97.1 187.5,96.1 190.5,95.3 193.5,94.5 196.5,93.9 199.5,93.4 202.5,93.1 205.5,93.1 208.5,93.1 211.5,93.1 214.5,93.1 217.5,93.2 220.5,93.2 223.5,93.3 226.5,93.3 229.5,93.4 232.5,93.5 235.5,93.6 238.5,93.7 241.5,93.8 244.5,94 247.5,94.2 250.5,94.5 253.5,94.9 256.5,95.5 259.5,96.3 262.5,97.1 265.5,97.9 268.5,98.4 271.5,98.9 274.5,99.4 277.5,99.9 280.5,100.4 283.5,100.8 286.5,101.2 289.5,101.6 292.5,101.9 295.5,102.1 295.5,-50 79.5,-50" fill="#ffaf00"/>
<polygon points="79.5,132.9 82.5,130.9 85.5,128.6 88.5,126.5 91.5,124.6 94.5,122.9 97.5,121.4 100.5,120.2 103.5,119.1 106.5,118.2 109.5,117.4 112.5,116.8 115.5,116.2 118.5,115.7 121.5,115.2 124.5,114.7 127.5,114.1 130.5,113.4 133.5,112.6 136.5,111.7 139.5,110.7 142.5,109.6 145.5,108.5 148.5,107.4 151.5,106.3 154.5,105.1 157.5,104 160.5,103 163.5,102 166.5,101 169.5,100 172.5,99 175.5,97.9 178.5,96.8 181.5,95.8 184.5,94.7 187.5,93.8 190.5,92.9 193.5,92.1 196.5,91.5 199.5,91 202.5,90.8 205.5,90.7 208.5,90.7 211.5,90.7 214.5,90.8 217.5,90.8 220.5,90.9 223.5,90.9 226.5,91 229.5,91.1 232.5,91.2 235.5,91.3 238.5,91.4 241.5,91.5 244.5,91.7 247.5,91.9 250.5,92.1 253.5,92.6 256.5,93.3 259.5,94.2 262.5,95.1 265.5,95.9 268.5,96.6 271.5,97.1 274.5,97.6 277.5,98.1 280.5,98.6 283.5,99 286.5,99.5 289.5,99.8 292.5,100.1 295.5,100.4 295.5,-50 79.5,-50" fill="#ff9e00"/>
<polygon points="79.5,130.7 82.5,128.8 85.5,126.6 88.5,124.6 91.5,122.8 94.5,121.1 97.5,119.7 100.5,118.4 103.5,117.3 106.5,116.3 109.5,115.5 112.5,114.8 115.5,114.3 118.5,113.8 121.5,113.3 124.5,112.8 127.5,112.2 130.5,111.5 133.5,110.7 136.5,109.8 139.5,108.7 142.5,107.7 145.5,106.5 148.5,105.3 151.5,104.2 154.5,103 157.5,101.8 160.5,100.7 163.5,99.7 166.5,98.8 169.5,97.8 172.5,96.7 175.5,95.6 178.5,94.5 181.5,93.4 184.5,92.4 187.5,91.4 190.5,90.5 193.5,89.8 196.5,89.1 199.5,88.7 202.5,88.4 205.5,88.3 208.5,88.3 211.5,88.3 214.5,88.4 217.5,88.4 220.5,88.5 223.5,88.6 226.5,88.7 229.5,88.8 232.5,88.8 235.5,88.9 238.5,89.1 241.5,89.2 244.5,89.4 247.5,89.6 250.5,89.8 253.5,90.3 256.5,91.1 259.5,92.1 262.5,93.1 265.5,94 268.5,94.7 271.5,95.3 274.5,95.8 277.5,96.4 280.5,96.9 283.5,97.3 286.5,97.7 289.5,98.1 292.5,98.4 295.5,98.6 295.5,-50 79.5,-50" fill="#ff8d00"/>
<polygon points="79.5,128.7 82.5,126.8 85.5,124.6 88.5,122.7 91.5,120.9 94.5,119.2 97.5,117.8 100.5,116.5 103.5,115.3 106.5,114.4 109.5,113.5 112.5,112.9 115.5,112.3 118.5,111.8 121.5,111.3 124.5,110.8 127.5,110.2 130.5,109.5 133.5,108.7 136.5,107.8 139.5,106.8 142.5,105.7 145.5,104.5 148.5,103.4 151.5,102.2 154.5,101 157.5,99.8 160.5,98.8 163.5,97.7 166.5,96.8 169.5,95.8 172.5,94.7 175.5,93.6 178.5,92.5 181.5,91.4 184.5,90.4 187.5,89.4 190.5,88.5 193.5,87.7 196.5,87.1 199.5,86.6 202.5,86.3 205.5,86.3 208.5,86.3 211.5,86.3 214.5,86.3 217.5,86.4 220.5,86.4 223.5,86.5 226.5,86.6 229.5,86.7 232.5,86.7 235.5,86.8 238.5,86.9 241.5,87.1 244.5,87.3 247.5,87.5 250.5,87.7 253.5,88.2 256.5,89.1 259.5,90.1 262.5,91.1 265.5,92.1 268.5,92.8 271.5,93.3 274.5,93.9 277.5,94.4 280.5,94.9 283.5,95.4 286.5,95.8 289.5,96.2 292.5,96.5 295.5,96.7 295.5,-50 79.5,-50" fill="#ff7b00"/>
<polygon points="79.5,126.7 82.5,124.8 85.5,122.6 88.5,120.7 91.5,118.9 94.5,117.2 97.5,115.8 100.5,114.5 103.5,113.3 106.5,112.4 109.5,111.5 112.5,110.9 115.5,110.3 118.5,109.8 121.5,109.3 124.5,108.8 127.5,108.2 130.5,107.5 133.5,106.7 136.5,105.8 139.5,104.8 142.5,103.7 145.5,102.6 148.5,101.4 151.5,100.3 154.5,99.1 157.5,98 160.5,96.9 163.5,95.9 166.5,94.9 169.5,93.9 172.5,92.8 175.5,91.7 178.5,90.6 181.5,89.5 184.5,88.5 187.5,87.5 190.5,86.6 193.5,85.9 196.5,85.2 199.5,84.7 202.5,84.5 205.5,84.4 208.5,84.4 211.5,84.4 214.5,84.4 217.5,84.5 220.5,84.5 223.5,84.6 226.5,84.6 229.5,84.7 232.5,84.7 235.5,84.8 238.5,84.9 241.5,85.1 244.5,85.3 247.5,85.5 250.5,85.7 253.5,86.2 256.5,87.1 259.5,88.1 262.5,89.1 265.5,90.1 268.5,90.8 271.5,91.3 274.5,91.9 277.5,92.4 280.5,92.9 283.5,93.4 286.5,93.8 289.5,94.2 292.5,94.5 295.5,94.7 295.5,-50 79.5,-50" fill="#ff6a00"/>
<polygon points="79.5,124.7 82.5,122.8 85.5,120.6 88.5,118.7 91.5,116.9 94.5,115.2 97.5,113.8 100.5,112.5 103.5,111.3 106.5,110.4 109.5,109.5 112.5,108.9 115.5,108.3 118.5,107.8 121.5,107.3 124.5,106.8 127.5,106.2 130.5,105.5 133.5,104.7 136.5,103.8 139.5,102.8 142.5,101.8 145.5,100.6 148.5,99.5 151.5,98.3 154.5,97.2 157.5,96.1 160.5,95 163.5,94 166.5,93 169.5,92 172.5,91 175.5,89.9 178.5,88.8 181.5,87.7 184.5,86.6 187.5,85.6 190.5,84.8 193.5,84 196.5,83.3 199.5,82.9 202.5,82.6 205.5,82.5 208.5,82.5 211.5,82.5 214.5,82.5 217.5,82.6 220.5,82.6 223.5,82.6 226.5,82.6 229.5,82.7 232.5,82.7 235.5,82.8 238.5,82.9 241.5,83.1 244.5,83.2 247.5,83.5 250.5,83.7 253.5,84.2 256.5,85.1 259.5,86.1 262.5,87.1 265.5,88.1 268.5,88.8 271.5,89.3 274.5,89.9 277.5,90.4 280.5,90.9 283.5,91.4 286.5,91.8 289.5,92.2 292.5,92.5 295.5,92.7 295.5,-50 79.5,-50" fill="#ff5600"/>
<polygon points="79.5,122.7 82.5,120.8 85.5,118.6 88.5,116.7 91.5,114.9 94.5,113.2 97.5,111.8 100.5,110.5 103.5,109.3 106.5,108.4 109.5,107.5 112.5,106.9 115.5,106.3 118.5,105.8 121.5,105.3 124.5,104.8 127.5,104.2 130.5,103.5 133.5,102.7 136.5,101.8 139.5,100.9 142.5,99.8 145.5,98.7 148.5,97.6 151.5,96.4 154.5,95.3 157.5,94.2 160.5,93.1 163.5,92.1 166.5,91.2 169.5,90.2 172.5,89.1 175.5,88 178.5,86.9 181.5,85.8 184.5,84.8 187.5,83.8 190.5,82.9 193.5,82.1 196.5,81.5 199.5,81 202.5,80.7 205.5,80.6 208.5,80.6 211.5,80.6 214.5,80.6 217.5,80.6 220.5,80.6 223.5,80.7 226.5,80.7 229.5,80.7 232.5,80.7 235.5,80.8 238.5,80.9 241.5,81 244.5,81.2 247.5,81.5 250.5,81.7 253.5,82.2 256.5,83.1 259.5,84.1 262.5,85.1 265.5,86.1 268.5,86.8 271.5,87.3 274.5,87.9 277.5,88.4 280.5,88.9 283.5,89.4 286.5,89.8 289.5,90.2 292.5,90.5 295.5,90.7 295.5,-50 79.5,-50" fill="#ff4000"/>
<polygon points="79.5,120.2 82.5,118.4 85.5,116.4 88.5,114.5 91.5,112.7 94.5,111.1 97.5,109.6 100.5,108.3 103.5,107.1 106.5,106 109.5,105.1 112.5,104.4 115.5,103.9 118.5,103.4 121.5,102.9 124.5,102.4 127.5,101.8 130.5,101.1 133.5,100.3 136.5,99.5 139.5,98.5 142.5,97.5 145.5,96.4 148.5,95.3 151.5,94.2 154.5,93.1 157.5,92 160.5,91 163.5,90 166.5,89 169.5,88 172.5,87 175.5,85.9 178.5,84.8 181.5,83.7 184.5,82.6 187.5,81.6 190.5,80.7 193.5,79.9 196.5,79.2 199.5,78.7 202.5,78.4 205.5,78.2 208.5,78.2 211.5,78.1 214.5,78.1 217.5,78.1 220.5,78 223.5,78 226.5,78 229.5,78 232.5,78 235.5,78.1 238.5,78.2 241.5,78.4 244.5,78.6 247.5,78.8 250.5,79.1 253.5,79.6 256.5,80.5 259.5,81.7 262.5,82.8 265.5,83.8 268.5,84.6 271.5,85.2 274.5,85.8 277.5,86.4 280.5,86.9 283.5,87.4 286.5,87.9 289.5,88.2 292.5,88.6 295.5,88.7 295.5,-50 79.5,-50" fill="#ff2b00"/>
<polygon points="79.5,117.6 82.5,116 85.5,114 88.5,112.2 91.5,110.5 94.5,108.9 97.5,107.4 100.5,106 103.5,104.7 106.5,103.4 109.5,102.5 112.5,101.8 115.5,101.2 118.5,100.7 121.5,100.2 124.5,99.7 127.5,99.2 130.5,98.5 133.5,97.7 136.5,96.9 139.5,96 142.5,95 145.5,94 148.5,92.9 151.5,91.8 154.5,90.8 157.5,89.7 160.5,88.7 163.5,87.7 166.5,86.8 169.5,85.8 172.5,84.7 175.5,83.6 178.5,82.5 181.5,81.4 184.5,80.3 187.5,79.3 190.5,78.3 193.5,77.5 196.5,76.8 199.5,76.2 202.5,75.8 205.5,75.6 208.5,75.5 211.5,75.4 214.5,75.3 217.5,75.2 220.5,75.1 223.5,75.1 226.5,75 229.5,75 232.5,75 235.5,75.1 238.5,75.2 241.5,75.4 244.5,75.6 247.5,75.8 250.5,76.1 253.5,76.7 256.5,77.7 259.5,79 262.5,80.3 265.5,81.5 268.5,82.4 271.5,83.1 274.5,83.7 277.5,84.4 280.5,84.9 283.5,85.5 286.5,86 289.5,86.4 292.5,86.7 295.5,86.9 295.5,-50 79.5,-50" fill="#ff1500"/>
<polygon points="79.5,115 82.5,113.5 85.5,111.7 88.5,110 91.5,108.3 94.5,106.8 97.5,105.2 100.5,103.8 103.5,102.3 106.5,100.9 109.5,99.9 112.5,99.1 115.5,98.5 118.5,98 121.5,97.6 124.5,97.1 127.5,96.5 130.5,95.9 133.5,95.1 136.5,94.3 139.5,93.4 142.5,92.5 145.5,91.5 148.5,90.5 151.5,89.5 154.5,88.4 157.5,87.4 160.5,86.4 163.5,85.5 166.5,84.5 169.5,83.5 172.5,82.4 175.5,81.3 178.5,80.2 181.5,79.1 184.5,78 187.5,76.9 190.5,76 193.5,75.1 196.5,74.3 199.5,73.7 202.5,73.2 205.5,73 208.5,72.8 211.5,72.6 214.5,72.4 217.5,72.3 220.5,72.2 223.5,72.1 226.5,72 229.5,72 232.5,72 235.5,72.1 238.5,72.2 241.5,72.4 244.5,72.6 247.5,72.8 250.5,73.1 253.5,73.8 256.5,74.9 259.5,76.4 262.5,77.9 265.5,79.2 268.5,80.1 271.5,80.9 274.5,81.6 277.5,82.3 280.5,83 283.5,83.5 286.5,84 289.5,84.5 292.5,84.8 295.5,85 295.5,-50 79.5,-50" fill="#ff0000"/>
<polygon points="79.5,91.7 82.5,91.2 85.5,90.5 88.5,89.8 91.5,89 94.5,88.2 97.5,87.4 100.5,86.5 103.5,85.5 106.5,84.4 109.5,83.5 112.5,82.7 115.5,82 118.5,81.3 121.5,80.7 124.5,80 127.5,79.4 130.5,78.8 133.5,78.2 136.5,77.6 139.5,77.1 142.5,76.6 145.5,76.1 148.5,75.6 151.5,75.1 154.5,74.5 157.5,73.9 160.5,73.2 163.5,72.5 166.5,71.7 169.5,70.5 172.5,69 175.5,67.3 178.5,65.5 181.5,63.6 184.5,61.6 187.5,59.7 190.5,58 193.5,56.4 196.5,55 199.5,54 202.5,53.4 205.5,53.2 208.5,53.3 211.5,53.4 214.5,53.6 217.5,53.9 220.5,54.2 223.5,54.6 226.5,55 229.5,55.4 232.5,55.8 235.5,56.4 238.5,57.1 241.5,57.9 244.5,58.7 247.5,59.7 250.5,60.6 253.5,61.7 256.5,63 259.5,64.4 262.5,65.8 265.5,67.2 268.5,68.4 271.5,69.6 274.5,70.8 277.5,71.9 280.5,73.1 283.5,74.2 286.5,75.3 289.5,76.3 292.5,77.4 295.5,78.2 295.5,-50 79.5,-50" fill="#f20000"/>
<polygon points="79.5,86.7 82.5,86.2 85.5,85.5 88.5,84.8 91.5,84 94.5,83.2 97.5,82.4 100.5,81.5 103.5,80.5 106.5,79.4 109.5,78.5 112.5,77.8 115.5,77.1 118.5,76.5 121.5,75.9 124.5,75.3 127.5,74.7 130.5,74.1 133.5,73.6 136.5,73 139.5,72.5 142.5,72.1 145.5,71.6 148.5,71.1 151.5,70.6 154.5,70 157.5,69.5 160.5,68.8 163.5,68.2 166.5,67.4 169.5,66.3 172.5,64.9 175.5,63.4 178.5,61.7 181.5,59.9 184.5,58.2 187.5,56.5 190.5,54.8 193.5,53.4 196.5,52.2 199.5,51.3 202.5,50.7 205.5,50.6 208.5,50.6 211.5,50.8 214.5,51.1 217.5,51.4 220.5,51.8 223.5,52.2 226.5,52.6 229.5,53 232.5,53.5 235.5,54.1 238.5,54.8 241.5,55.6 244.5,56.4 247.5,57.3 250.5,58.3 253.5,59.3 256.5,60.6 259.5,61.9 262.5,63.2 265.5,64.5 268.5,65.8 271.5,66.9 274.5,68.1 277.5,69.2 280.5,70.3 283.5,71.5 286.5,72.6 289.5,73.6 292.5,74.7 295.5,75.6 295.5,-50 79.5,-50" fill="#e40000"/>
<polygon points="79.5,81.7 82.5,81.2 85.5,80.5 88.5,79.8 91.5,79 94.5,78.2 97.5,77.4 100.5,76.5 103.5,75.5 106.5,74.4 109.5,73.5 112.5,72.8 115.5,72.2 118.5,71.6 121.5,71.1 124.5,70.5 127.5,70 130.5,69.5 133.5,68.9 136.5,68.4 139.5,68 142.5,67.5 145.5,67 148.5,66.6 151.5,66.1 154.5,65.6 157.5,65 160.5,64.4 163.5,63.8 166.5,63 169.5,62.1 172.5,60.8 175.5,59.4 178.5,57.9 181.5,56.3 184.5,54.7 187.5,53.2 190.5,51.7 193.5,50.4 196.5,49.4 199.5,48.5 202.5,48 205.5,47.9 208.5,48 211.5,48.2 214.5,48.5 217.5,48.8 220.5,49.3 223.5,49.7 226.5,50.2 229.5,50.7 232.5,51.2 235.5,51.8 238.5,52.5 241.5,53.3 244.5,54.1 247.5,55 250.5,55.9 253.5,57 256.5,58.1 259.5,59.4 262.5,60.6 265.5,61.9 268.5,63.1 271.5,64.2 274.5,65.4 277.5,66.5 280.5,67.6 283.5,68.7 286.5,69.8 289.5,70.9 292.5,72 295.5,72.9 295.5,-50 79.5,-50" fill="#d70000"/>
<polygon points="79.5,77.7 82.5,77.3 85.5,76.6 88.5,75.9 91.5,75.2 94.5,74.4 97.5,73.6 100.5,72.7 103.5,71.7 106.5,70.6 109.5,69.7 112.5,69 115.5,68.4 118.5,67.8 121.5,67.2 124.5,66.7 127.5,66.2 130.5,65.7 133.5,65.2 136.5,64.7 139.5,64.3 142.5,63.9 145.5,63.5 148.5,63.1 151.5,62.6 154.5,62.2 157.5,61.7 160.5,61.2 163.5,60.6 166.5,59.9 169.5,59 172.5,57.8 175.5,56.5 178.5,55.1 181.5,53.6 184.5,52 187.5,50.6 190.5,49.2 193.5,47.9 196.5,46.9 199.5,46.1 202.5,45.6 205.5,45.5 208.5,45.6 211.5,45.8 214.5,46.2 217.5,46.6 220.5,47.1 223.5,47.6 226.5,48.1 229.5,48.7 232.5,49.2 235.5,49.8 238.5,50.5 241.5,51.3 244.5,52.1 247.5,53 250.5,53.9 253.5,55 256.5,56.2 259.5,57.5 262.5,58.8 265.5,60.1 268.5,61.3 271.5,62.5 274.5,63.6 277.5,64.8 280.5,65.9 283.5,67 286.5,68.1 289.5,69.2 292.5,70.3 295.5,71.1 295.5,-50 79.5,-50" fill="#ca0000"/>
<polygon points="79.5,74.4 82.5,73.9 85.5,73.3 88.5,72.7 91.5,72 94.5,71.2 97.5,70.4 100.5,69.5 103.5,68.5 106.5,67.5 109.5,66.6 112.5,65.8 115.5,65.1 118.5,64.5 121.5,63.9 124.5,63.3 127.5,62.8 130.5,62.3 133.5,61.9 136.5,61.5 139.5,61.1 142.5,60.7 145.5,60.4 148.5,60 151.5,59.7 154.5,59.3 157.5,58.9 160.5,58.4 163.5,57.9 166.5,57.3 169.5,56.4 172.5,55.4 175.5,54.1 178.5,52.7 181.5,51.2 184.5,49.7 187.5,48.3 190.5,46.9 193.5,45.7 196.5,44.7 199.5,43.9 202.5,43.4 205.5,43.3 208.5,43.4 211.5,43.6 214.5,44 217.5,44.5 220.5,45 223.5,45.6 226.5,46.2 229.5,46.8 232.5,47.4 235.5,48 238.5,48.7 241.5,49.4 244.5,50.2 247.5,51.1 250.5,52 253.5,53.2 256.5,54.5 259.5,55.9 262.5,57.3 265.5,58.7 268.5,60 271.5,61.2 274.5,62.4 277.5,63.5 280.5,64.7 283.5,65.8 286.5,66.9 289.5,68 292.5,69 295.5,69.8 295.5,-50 79.5,-50" fill="#bd0000"/>
<polygon points="79.5,71 82.5,70.6 85.5,70 88.5,69.4 91.5,68.7 94.5,68 97.5,67.2 100.5,66.4 103.5,65.4 106.5,64.3 109.5,63.4 112.5,62.6 115.5,61.8 118.5,61.1 121.5,60.5 124.5,59.9 127.5,59.4 130.5,58.9 133.5,58.5 136.5,58.2 139.5,57.9 142.5,57.6 145.5,57.3 148.5,57 151.5,56.7 154.5,56.4 157.5,56.1 160.5,55.7 163.5,55.2 166.5,54.7 169.5,53.9 172.5,52.9 175.5,51.7 178.5,50.3 181.5,48.9 184.5,47.4 187.5,46 190.5,44.6 193.5,43.4 196.5,42.4 199.5,41.6 202.5,41.1 205.5,41 208.5,41.1 211.5,41.4 214.5,41.9 217.5,42.4 220.5,43 223.5,43.6 226.5,44.3 229.5,44.9 232.5,45.5 235.5,46.1 238.5,46.8 241.5,47.5 244.5,48.3 247.5,49.2 250.5,50.2 253.5,51.4 256.5,52.8 259.5,54.3 262.5,55.9 265.5,57.4 268.5,58.7 271.5,59.9 274.5,61.1 277.5,62.3 280.5,63.5 283.5,64.6 286.5,65.7 289.5,66.7 292.5,67.7 295.5,68.5 295.5,-50 79.5,-50" fill="#af0000"/>
<polygon points="79.5,67.6 82.5,67.3 85.5,66.7 88.5,66.1 91.5,65.5 94.5,64.7 97.5,64 100.5,63.2 103.5,62.2 106.5,61.1 109.5,60.2 112.5,59.4 115.5,58.6 118.5,57.8 121.5,57.1 124.5,56.5 127.5,56 130.5,55.6 133.5,55.2 136.5,54.9 139.5,54.7 142.5,54.4 145.5,54.2 148.5,54 151.5,53.8 154.5,53.5 157.5,53.2 160.5,52.9 163.5,52.6 166.5,52.1 169.5,51.4 172.5,50.4 175.5,49.3 178.5,47.9 181.5,46.5 184.5,45.1 187.5,43.7 190.5,42.4 193.5,41.2 196.5,40.1 199.5,39.4 202.5,38.9 205.5,38.8 208.5,38.9 211.5,39.2 214.5,39.7 217.5,40.3 220.5,41 223.5,41.7 226.5,42.4 229.5,43 232.5,43.6 235.5,44.3 238.5,44.9 241.5,45.7 244.5,46.5 247.5,47.3 250.5,48.3 253.5,49.5 256.5,51.1 259.5,52.7 262.5,54.4 265.5,56 268.5,57.4 271.5,58.7 274.5,59.9 277.5,61.1 280.5,62.3 283.5,63.4 286.5,64.5 289.5,65.5 292.5,66.4 295.5,67.2 295.5,-50 79.5,-50" fill="#a20000"/>
<polygon points="79.5,64.2 82.5,63.9 85.5,63.4 88.5,62.9 91.5,62.2 94.5,61.5 97.5,60.8 100.5,60 103.5,59 106.5,57.9 109.5,57 112.5,56.1 115.5,55.3 118.5,54.5 121.5,53.8 124.5,53.1 127.5,52.6 130.5,52.2 133.5,51.9 136.5,51.7 139.5,51.5 142.5,51.3 145.5,51.1 148.5,51 151.5,50.8 154.5,50.6 157.5,50.4 160.5,50.2 163.5,49.9 166.5,49.5 169.5,48.9 172.5,48 175.5,46.8 178.5,45.6 181.5,44.2 184.5,42.8 187.5,41.4 190.5,40.1 193.5,38.9 196.5,37.9 199.5,37.1 202.5,36.6 205.5,36.5 208.5,36.7 211.5,37 214.5,37.6 217.5,38.2 220.5,38.9 223.5,39.7 226.5,40.4 229.5,41.1 232.5,41.8 235.5,42.4 238.5,43.1 241.5,43.8 244.5,44.6 247.5,45.4 250.5,46.4 253.5,47.7 256.5,49.4 259.5,51.1 262.5,53 265.5,54.7 268.5,56.1 271.5,57.4 274.5,58.7 277.5,59.9 280.5,61.1 283.5,62.2 286.5,63.3 289.5,64.2 292.5,65.2 295.5,65.9 295.5,-50 79.5,-50" fill="#950000"/>
</g></g>
<g clip-path="url(#c1)"><path d="M126,191.5 C135,188.5 145,185 157,180.6" fill="none" stroke="#1c0c28" stroke-width="2.6" stroke-linecap="round"/></g>
<g clip-path="url(#c2)"><g opacity="0.999">
<path d="M434.7,183.2C436,180.3 439.7,173 442.6,165.9C445.5,158.8 448.9,148.5 452.1,140.6C455.3,132.7 457.9,126.4 461.6,118.5C465.3,110.6 470.6,99.6 474.2,93.2C477.8,86.8 480.5,83.4 482.9,79.9C485.3,76.4 486.9,74.8 488.8,72.3C490.8,69.8 492.4,67.7 494.6,65C496.8,62.3 499.5,58.7 501.9,56.3C504.3,53.9 506.8,52.1 509.2,50.4C511.6,48.7 514.1,47.3 516.5,46C518.9,44.7 521.6,43.3 523.8,42.4C526,41.5 527.8,41.1 529.6,40.5C531.4,39.9 533.2,39.2 534.7,39C536.2,38.8 537,39.2 538.4,39.5C539.8,39.8 541.1,40.6 542.8,41C544.5,41.4 546.4,41.7 548.6,42C550.8,42.3 552.7,42.6 555.9,42.8C559.1,43 563.6,43.1 567.6,43.4C571.6,43.6 575.6,43.5 580,44.3C584.4,45.1 589.2,46.8 593.7,48.4C598.2,50 602.5,51.3 607,53.7C611.5,56.1 616,59 620.5,63C625,67 630,73.3 634,78C638,82.7 641.1,87.1 644.7,91.3C648.3,95.5 653.7,101.4 655.5,103.4C654.1,104.1 651,105.9 647.4,107.5C643.8,109.1 638,110.5 634,112.8C630,115 626.8,117.4 623.2,121C619.6,124.6 616.1,129.4 612.5,134.3C608.9,139.2 604.4,146 601.7,150.5C599,155 598.1,158.2 596.3,161.5C594.5,164.8 592.8,166.9 591,170C589.2,173.1 588.7,174.1 585.6,180.3C582.5,186.5 577,198.3 572.2,207.2C567.4,216.1 559.2,229.1 556.6,233.5C555.6,232.9 552.9,231.6 550.4,230C547.9,228.4 544.8,226 541.6,223.8C538.4,221.6 534.6,218.7 531.1,216.8C527.6,214.9 524.1,213.5 520.6,212.4C517.1,211.3 513.8,210.7 510,210.1C506.2,209.5 501.6,209.5 497.8,208.9C494,208.3 491.1,207.6 487.3,206.3C483.5,205 480,203.1 475,201C470,198.9 463.3,196.5 457.5,194C451.7,191.5 443.8,187.9 440,186.1C436.2,184.3 435.6,183.7 434.7,183.2Z" fill="#7d00ff"/>
<polygon points="432.7,198.2 435.7,197.3 438.7,196.7 441.7,196.1 444.7,195.8 447.7,195.6 450.7,195.6 453.7,195.8 456.7,196.2 459.7,196.7 462.7,197.2 465.7,197.9 468.7,198.5 471.7,199.1 474.7,199.6 477.7,200 480.7,200.5 483.7,201 486.7,201.5 489.7,202 492.7,202.5 495.7,203.1 498.7,203.8 501.7,204.5 504.7,205.4 507.7,206.3 510.7,207.2 513.7,208.1 516.7,209.1 519.7,210.1 522.7,211.1 525.7,212.1 528.7,213.2 531.7,214.2 534.7,215.1 537.7,216 540.7,216.8 543.7,217.5 546.7,218.2 549.7,218.9 552.7,219.6 555.7,220.3 558.7,221.1 561.7,221.9 564.7,222.8 567.7,223.8 570.7,224.8 573.7,225.8 576.7,226.9 579.7,227.9 582.7,228.9 585.7,229.9 588.7,230.8 591.7,231.7 594.7,232.4 597.7,233.2 600.7,233.9 603.7,234.6 606.7,235.2 609.7,235.9 612.7,236.5 615.7,237.1 618.7,237.6 621.7,238.1 624.7,238.7 627.7,239.1 630.7,239.6 633.7,240.1 636.7,240.5 639.7,241 642.7,241.4 645.7,241.8 648.7,242.2 651.7,242.5 654.7,242.8 657.7,242.8 657.7,-50 432.7,-50" fill="#6a00ff"/>
<polygon points="432.7,195 435.7,194.1 438.7,193.3 441.7,192.7 444.7,192.3 447.7,192.1 450.7,192.1 453.7,192.4 456.7,192.9 459.7,193.5 462.7,194.2 465.7,195 468.7,195.8 471.7,196.5 474.7,197 477.7,197.5 480.7,198 483.7,198.5 486.7,199 489.7,199.5 492.7,200.1 495.7,200.7 498.7,201.4 501.7,202.2 504.7,203.1 507.7,204.1 510.7,205.1 513.7,206 516.7,207 519.7,208.1 522.7,209.2 525.7,210.2 528.7,211.3 531.7,212.3 534.7,213.2 537.7,214 540.7,214.7 543.7,215.4 546.7,216 549.7,216.6 552.7,217.3 555.7,217.9 558.7,218.6 561.7,219.3 564.7,220.2 567.7,221.1 570.7,222 573.7,223 576.7,224 579.7,225 582.7,226 585.7,226.9 588.7,227.8 591.7,228.7 594.7,229.4 597.7,230.1 600.7,230.8 603.7,231.5 606.7,232.2 609.7,232.8 612.7,233.4 615.7,233.9 618.7,234.5 621.7,235 624.7,235.5 627.7,236 630.7,236.5 633.7,236.9 636.7,237.4 639.7,237.8 642.7,238.2 645.7,238.6 648.7,239 651.7,239.3 654.7,239.7 657.7,239.7 657.7,-50 432.7,-50" fill="#5800ff"/>
<polygon points="432.7,191.9 435.7,190.9 438.7,190 441.7,189.3 444.7,188.9 447.7,188.7 450.7,188.7 453.7,189 456.7,189.6 459.7,190.4 462.7,191.2 465.7,192.2 468.7,193 471.7,193.8 474.7,194.5 477.7,195 480.7,195.6 483.7,196.1 486.7,196.6 489.7,197.1 492.7,197.6 495.7,198.3 498.7,199 501.7,199.8 504.7,200.8 507.7,201.9 510.7,202.9 513.7,203.9 516.7,205 519.7,206.1 522.7,207.2 525.7,208.3 528.7,209.4 531.7,210.4 534.7,211.3 537.7,212.1 540.7,212.7 543.7,213.3 546.7,213.9 549.7,214.4 552.7,214.9 555.7,215.5 558.7,216.1 561.7,216.7 564.7,217.5 567.7,218.4 570.7,219.3 573.7,220.2 576.7,221.2 579.7,222.1 582.7,223.1 585.7,224 588.7,224.9 591.7,225.7 594.7,226.4 597.7,227.1 600.7,227.8 603.7,228.4 606.7,229.1 609.7,229.7 612.7,230.2 615.7,230.8 618.7,231.3 621.7,231.8 624.7,232.3 627.7,232.8 630.7,233.3 633.7,233.8 636.7,234.2 639.7,234.6 642.7,235.1 645.7,235.4 648.7,235.8 651.7,236.2 654.7,236.5 657.7,236.6 657.7,-50 432.7,-50" fill="#4500ff"/>
<polygon points="432.7,188.8 435.7,187.6 438.7,186.7 441.7,186 444.7,185.5 447.7,185.2 450.7,185.3 453.7,185.7 456.7,186.3 459.7,187.2 462.7,188.2 465.7,189.3 468.7,190.3 471.7,191.2 474.7,191.9 477.7,192.5 480.7,193.1 483.7,193.6 486.7,194.1 489.7,194.6 492.7,195.2 495.7,195.9 498.7,196.6 501.7,197.5 504.7,198.5 507.7,199.7 510.7,200.8 513.7,201.8 516.7,202.9 519.7,204.1 522.7,205.3 525.7,206.4 528.7,207.5 531.7,208.5 534.7,209.4 537.7,210.1 540.7,210.7 543.7,211.2 546.7,211.7 549.7,212.1 552.7,212.6 555.7,213 558.7,213.6 561.7,214.2 564.7,214.9 567.7,215.6 570.7,216.5 573.7,217.4 576.7,218.3 579.7,219.3 582.7,220.2 585.7,221.1 588.7,221.9 591.7,222.7 594.7,223.4 597.7,224.1 600.7,224.7 603.7,225.3 606.7,226 609.7,226.5 612.7,227.1 615.7,227.7 618.7,228.2 621.7,228.7 624.7,229.2 627.7,229.7 630.7,230.1 633.7,230.6 636.7,231 639.7,231.5 642.7,231.9 645.7,232.3 648.7,232.7 651.7,233 654.7,233.4 657.7,233.4 657.7,-50 432.7,-50" fill="#3200ff"/>
<polygon points="432.7,185.7 435.7,184.4 438.7,183.4 441.7,182.6 444.7,182 447.7,181.8 450.7,181.8 453.7,182.3 456.7,183.1 459.7,184.1 462.7,185.2 465.7,186.5 468.7,187.6 471.7,188.6 474.7,189.4 477.7,190 480.7,190.6 483.7,191.1 486.7,191.7 489.7,192.2 492.7,192.8 495.7,193.4 498.7,194.2 501.7,195.1 504.7,196.3 507.7,197.5 510.7,198.6 513.7,199.8 516.7,200.9 519.7,202.1 522.7,203.3 525.7,204.5 528.7,205.6 531.7,206.6 534.7,207.5 537.7,208.2 540.7,208.7 543.7,209.1 546.7,209.5 549.7,209.9 552.7,210.2 555.7,210.6 558.7,211 561.7,211.6 564.7,212.2 567.7,212.9 570.7,213.7 573.7,214.6 576.7,215.5 579.7,216.4 582.7,217.3 585.7,218.1 588.7,219 591.7,219.7 594.7,220.4 597.7,221 600.7,221.7 603.7,222.3 606.7,222.9 609.7,223.4 612.7,224 615.7,224.5 618.7,225 621.7,225.5 624.7,226 627.7,226.5 630.7,227 633.7,227.4 636.7,227.9 639.7,228.3 642.7,228.7 645.7,229.1 648.7,229.5 651.7,229.9 654.7,230.2 657.7,230.2 657.7,-50 432.7,-50" fill="#1f00ff"/>
<polygon points="432.7,182.5 435.7,181.2 438.7,180 441.7,179.2 444.7,178.6 447.7,178.3 450.7,178.4 453.7,178.9 456.7,179.8 459.7,180.9 462.7,182.3 465.7,183.6 468.7,184.9 471.7,186 474.7,186.9 477.7,187.5 480.7,188.1 483.7,188.7 486.7,189.2 489.7,189.7 492.7,190.3 495.7,191 498.7,191.8 501.7,192.8 504.7,194 507.7,195.2 510.7,196.5 513.7,197.7 516.7,198.9 519.7,200.1 522.7,201.4 525.7,202.6 528.7,203.7 531.7,204.8 534.7,205.6 537.7,206.3 540.7,206.7 543.7,207 546.7,207.3 549.7,207.6 552.7,207.9 555.7,208.2 558.7,208.5 561.7,209 564.7,209.5 567.7,210.2 570.7,211 573.7,211.8 576.7,212.6 579.7,213.5 582.7,214.4 585.7,215.2 588.7,216 591.7,216.7 594.7,217.4 597.7,218 600.7,218.6 603.7,219.2 606.7,219.8 609.7,220.3 612.7,220.9 615.7,221.4 618.7,221.9 621.7,222.4 624.7,222.9 627.7,223.3 630.7,223.8 633.7,224.2 636.7,224.7 639.7,225.1 642.7,225.5 645.7,225.9 648.7,226.3 651.7,226.7 654.7,227.1 657.7,227.1 657.7,-50 432.7,-50" fill="#0c00ff"/>
<polygon points="432.7,179.9 435.7,178.4 438.7,177.2 441.7,176.3 444.7,175.7 447.7,175.4 450.7,175.4 453.7,176 456.7,176.9 459.7,178.1 462.7,179.5 465.7,180.9 468.7,182.3 471.7,183.5 474.7,184.3 477.7,185 480.7,185.6 483.7,186.1 486.7,186.7 489.7,187.2 492.7,187.8 495.7,188.5 498.7,189.3 501.7,190.3 504.7,191.5 507.7,192.9 510.7,194.2 513.7,195.4 516.7,196.6 519.7,197.9 522.7,199.2 525.7,200.5 528.7,201.6 531.7,202.7 534.7,203.5 537.7,204.1 540.7,204.5 543.7,204.8 546.7,205.1 549.7,205.3 552.7,205.5 555.7,205.7 558.7,206 561.7,206.4 564.7,207 567.7,207.6 570.7,208.3 573.7,209 576.7,209.8 579.7,210.6 582.7,211.5 585.7,212.2 588.7,213 591.7,213.7 594.7,214.3 597.7,214.9 600.7,215.4 603.7,216 606.7,216.5 609.7,217.1 612.7,217.6 615.7,218.1 618.7,218.5 621.7,219 624.7,219.5 627.7,219.9 630.7,220.4 633.7,220.8 636.7,221.3 639.7,221.7 642.7,222.1 645.7,222.5 648.7,222.9 651.7,223.3 654.7,223.7 657.7,223.8 657.7,-50 432.7,-50" fill="#0007ff"/>
<polygon points="432.7,178.1 435.7,176.6 438.7,175.3 441.7,174.4 444.7,173.8 447.7,173.4 450.7,173.5 453.7,174 456.7,174.9 459.7,176 462.7,177.3 465.7,178.6 468.7,179.9 471.7,180.9 474.7,181.8 477.7,182.4 480.7,183 483.7,183.5 486.7,183.9 489.7,184.4 492.7,185 495.7,185.6 498.7,186.4 501.7,187.5 504.7,188.8 507.7,190.2 510.7,191.6 513.7,192.9 516.7,194.1 519.7,195.4 522.7,196.7 525.7,197.9 528.7,199.1 531.7,200.1 534.7,200.9 537.7,201.6 540.7,202 543.7,202.3 546.7,202.6 549.7,202.8 552.7,203.1 555.7,203.3 558.7,203.6 561.7,204 564.7,204.5 567.7,205.1 570.7,205.7 573.7,206.4 576.7,207.1 579.7,207.9 582.7,208.6 585.7,209.3 588.7,210 591.7,210.6 594.7,211.1 597.7,211.6 600.7,212.1 603.7,212.6 606.7,213.1 609.7,213.5 612.7,214 615.7,214.4 618.7,214.8 621.7,215.2 624.7,215.7 627.7,216.1 630.7,216.5 633.7,217 636.7,217.4 639.7,217.8 642.7,218.3 645.7,218.7 648.7,219.1 651.7,219.5 654.7,220 657.7,220 657.7,-50 432.7,-50" fill="#001cff"/>
<polygon points="432.7,176.2 435.7,174.7 438.7,173.5 441.7,172.5 444.7,171.8 447.7,171.5 450.7,171.5 453.7,172 456.7,172.8 459.7,173.8 462.7,175 465.7,176.3 468.7,177.4 471.7,178.4 474.7,179.2 477.7,179.8 480.7,180.3 483.7,180.8 486.7,181.2 489.7,181.7 492.7,182.2 495.7,182.8 498.7,183.5 501.7,184.6 504.7,186 507.7,187.6 510.7,189 513.7,190.3 516.7,191.6 519.7,192.9 522.7,194.1 525.7,195.4 528.7,196.5 531.7,197.5 534.7,198.4 537.7,199 540.7,199.4 543.7,199.8 546.7,200.1 549.7,200.4 552.7,200.7 555.7,200.9 558.7,201.2 561.7,201.6 564.7,202.1 567.7,202.6 570.7,203.2 573.7,203.8 576.7,204.4 579.7,205.1 582.7,205.7 585.7,206.3 588.7,206.9 591.7,207.4 594.7,207.9 597.7,208.3 600.7,208.8 603.7,209.2 606.7,209.6 609.7,210 612.7,210.3 615.7,210.7 618.7,211.1 621.7,211.5 624.7,211.9 627.7,212.3 630.7,212.7 633.7,213.1 636.7,213.5 639.7,214 642.7,214.4 645.7,214.9 648.7,215.3 651.7,215.8 654.7,216.2 657.7,216.2 657.7,-50 432.7,-50" fill="#0031ff"/>
<polygon points="432.7,174.4 435.7,172.9 438.7,171.6 441.7,170.6 444.7,169.9 447.7,169.5 450.7,169.6 453.7,170 456.7,170.7 459.7,171.7 462.7,172.8 465.7,173.9 468.7,175 471.7,175.9 474.7,176.6 477.7,177.2 480.7,177.7 483.7,178.1 486.7,178.5 489.7,178.9 492.7,179.4 495.7,180 498.7,180.7 501.7,181.8 504.7,183.3 507.7,184.9 510.7,186.5 513.7,187.8 516.7,189.1 519.7,190.3 522.7,191.6 525.7,192.8 528.7,194 531.7,195 534.7,195.8 537.7,196.4 540.7,196.9 543.7,197.3 546.7,197.7 549.7,198 552.7,198.2 555.7,198.5 558.7,198.8 561.7,199.2 564.7,199.6 567.7,200.1 570.7,200.6 573.7,201.2 576.7,201.7 579.7,202.3 582.7,202.9 585.7,203.4 588.7,203.9 591.7,204.3 594.7,204.7 597.7,205.1 600.7,205.4 603.7,205.8 606.7,206.1 609.7,206.4 612.7,206.7 615.7,207 618.7,207.4 621.7,207.7 624.7,208 627.7,208.4 630.7,208.8 633.7,209.2 636.7,209.7 639.7,210.1 642.7,210.6 645.7,211 648.7,211.5 651.7,212 654.7,212.5 657.7,212.5 657.7,-50 432.7,-50" fill="#0046ff"/>
<polygon points="432.7,172.6 435.7,171.1 438.7,169.7 441.7,168.7 444.7,168 447.7,167.6 450.7,167.6 453.7,168 456.7,168.7 459.7,169.6 462.7,170.6 465.7,171.6 468.7,172.6 471.7,173.4 474.7,174.1 477.7,174.6 480.7,175 483.7,175.4 486.7,175.8 489.7,176.1 492.7,176.6 495.7,177.1 498.7,177.8 501.7,179 504.7,180.5 507.7,182.2 510.7,183.9 513.7,185.2 516.7,186.5 519.7,187.8 522.7,189.1 525.7,190.3 528.7,191.4 531.7,192.4 534.7,193.2 537.7,193.9 540.7,194.4 543.7,194.8 546.7,195.2 549.7,195.5 552.7,195.8 555.7,196.1 558.7,196.5 561.7,196.8 564.7,197.2 567.7,197.6 570.7,198.1 573.7,198.6 576.7,199 579.7,199.5 582.7,200 585.7,200.4 588.7,200.8 591.7,201.2 594.7,201.5 597.7,201.8 600.7,202.1 603.7,202.4 606.7,202.6 609.7,202.9 612.7,203.1 615.7,203.4 618.7,203.6 621.7,203.9 624.7,204.2 627.7,204.6 630.7,205 633.7,205.4 636.7,205.8 639.7,206.2 642.7,206.7 645.7,207.2 648.7,207.7 651.7,208.2 654.7,208.7 657.7,208.7 657.7,-50 432.7,-50" fill="#005bff"/>
<polygon points="432.7,170.8 435.7,169.2 438.7,167.9 441.7,166.8 444.7,166 447.7,165.6 450.7,165.7 453.7,166 456.7,166.6 459.7,167.4 462.7,168.3 465.7,169.3 468.7,170.2 471.7,170.9 474.7,171.5 477.7,172 480.7,172.4 483.7,172.7 486.7,173 489.7,173.4 492.7,173.8 495.7,174.3 498.7,175 501.7,176.1 504.7,177.8 507.7,179.6 510.7,181.3 513.7,182.7 516.7,184 519.7,185.3 522.7,186.5 525.7,187.7 528.7,188.8 531.7,189.8 534.7,190.7 537.7,191.3 540.7,191.9 543.7,192.3 546.7,192.7 549.7,193.1 552.7,193.4 555.7,193.7 558.7,194.1 561.7,194.4 564.7,194.8 567.7,195.2 570.7,195.6 573.7,196 576.7,196.4 579.7,196.7 582.7,197.1 585.7,197.5 588.7,197.8 591.7,198.1 594.7,198.3 597.7,198.6 600.7,198.8 603.7,198.9 606.7,199.1 609.7,199.3 612.7,199.5 615.7,199.7 618.7,199.9 621.7,200.1 624.7,200.4 627.7,200.7 630.7,201.1 633.7,201.5 636.7,201.9 639.7,202.4 642.7,202.8 645.7,203.3 648.7,203.9 651.7,204.4 654.7,204.9 657.7,205 657.7,-50 432.7,-50" fill="#0070ff"/>
<polygon points="432.7,169 435.7,167.4 438.7,166 441.7,164.9 444.7,164.1 447.7,163.7 450.7,163.7 453.7,164 456.7,164.6 459.7,165.3 462.7,166.1 465.7,166.9 468.7,167.7 471.7,168.4 474.7,169 477.7,169.4 480.7,169.7 483.7,170 486.7,170.3 489.7,170.6 492.7,171 495.7,171.5 498.7,172.1 501.7,173.3 504.7,175 507.7,176.9 510.7,178.7 513.7,180.2 516.7,181.5 519.7,182.7 522.7,184 525.7,185.2 528.7,186.3 531.7,187.3 534.7,188.1 537.7,188.8 540.7,189.3 543.7,189.8 546.7,190.3 549.7,190.6 552.7,191 555.7,191.3 558.7,191.7 561.7,192 564.7,192.3 567.7,192.7 570.7,193 573.7,193.3 576.7,193.7 579.7,194 582.7,194.3 585.7,194.5 588.7,194.8 591.7,195 594.7,195.1 597.7,195.3 600.7,195.4 603.7,195.5 606.7,195.6 609.7,195.8 612.7,195.9 615.7,196 618.7,196.2 621.7,196.4 624.7,196.6 627.7,196.9 630.7,197.2 633.7,197.6 636.7,198 639.7,198.5 642.7,199 645.7,199.5 648.7,200 651.7,200.6 654.7,201.2 657.7,201.2 657.7,-50 432.7,-50" fill="#0085ff"/>
<polygon points="432.7,166.9 435.7,165.4 438.7,164 441.7,162.9 444.7,162.1 447.7,161.7 450.7,161.7 453.7,162 456.7,162.6 459.7,163.2 462.7,164 465.7,164.8 468.7,165.5 471.7,166.2 474.7,166.7 477.7,167.1 480.7,167.5 483.7,167.8 486.7,168.1 489.7,168.4 492.7,168.8 495.7,169.2 498.7,169.9 501.7,171 504.7,172.6 507.7,174.4 510.7,176.1 513.7,177.5 516.7,178.8 519.7,180.1 522.7,181.4 525.7,182.6 528.7,183.8 531.7,184.8 534.7,185.7 537.7,186.4 540.7,187 543.7,187.6 546.7,188 549.7,188.5 552.7,188.8 555.7,189.2 558.7,189.5 561.7,189.8 564.7,190 567.7,190.3 570.7,190.5 573.7,190.7 576.7,190.9 579.7,191 582.7,191.2 585.7,191.3 588.7,191.4 591.7,191.5 594.7,191.5 597.7,191.6 600.7,191.6 603.7,191.6 606.7,191.6 609.7,191.6 612.7,191.6 615.7,191.7 618.7,191.8 621.7,192 624.7,192.2 627.7,192.4 630.7,192.7 633.7,193 636.7,193.4 639.7,193.8 642.7,194.2 645.7,194.7 648.7,195.2 651.7,195.7 654.7,196.2 657.7,196.2 657.7,-50 432.7,-50" fill="#009aff"/>
<polygon points="432.7,164.7 435.7,163.2 438.7,161.9 441.7,160.9 444.7,160.1 447.7,159.8 450.7,159.8 453.7,160.1 456.7,160.6 459.7,161.2 462.7,162 465.7,162.7 468.7,163.5 471.7,164.2 474.7,164.7 477.7,165.1 480.7,165.4 483.7,165.7 486.7,166.1 489.7,166.4 492.7,166.8 495.7,167.3 498.7,167.9 501.7,168.9 504.7,170.3 507.7,171.9 510.7,173.4 513.7,174.8 516.7,176 519.7,177.4 522.7,178.7 525.7,180 528.7,181.3 531.7,182.4 534.7,183.4 537.7,184.2 540.7,184.8 543.7,185.4 546.7,185.9 549.7,186.4 552.7,186.8 555.7,187.2 558.7,187.5 561.7,187.7 564.7,187.8 567.7,188 570.7,188 573.7,188 576.7,188 579.7,188 582.7,187.9 585.7,187.9 588.7,187.8 591.7,187.8 594.7,187.7 597.7,187.6 600.7,187.5 603.7,187.4 606.7,187.3 609.7,187.2 612.7,187.1 615.7,187.1 618.7,187.1 621.7,187.3 624.7,187.4 627.7,187.6 630.7,187.8 633.7,188.1 636.7,188.4 639.7,188.7 642.7,189 645.7,189.4 648.7,189.8 651.7,190.2 654.7,190.6 657.7,190.6 657.7,-50 432.7,-50" fill="#00b0ff"/>
<polygon points="432.7,162.6 435.7,161.1 438.7,159.9 441.7,158.9 444.7,158.1 447.7,157.8 450.7,157.8 453.7,158.1 456.7,158.6 459.7,159.2 462.7,159.9 465.7,160.7 468.7,161.4 471.7,162.1 474.7,162.6 477.7,163 480.7,163.4 483.7,163.7 486.7,164.1 489.7,164.4 492.7,164.8 495.7,165.3 498.7,165.9 501.7,166.8 504.7,168.1 507.7,169.4 510.7,170.8 513.7,172 516.7,173.3 519.7,174.6 522.7,176.1 525.7,177.5 528.7,178.8 531.7,180 534.7,181.1 537.7,181.9 540.7,182.6 543.7,183.2 546.7,183.8 549.7,184.3 552.7,184.8 555.7,185.2 558.7,185.4 561.7,185.6 564.7,185.6 567.7,185.6 570.7,185.5 573.7,185.4 576.7,185.2 579.7,185 582.7,184.7 585.7,184.5 588.7,184.3 591.7,184.1 594.7,183.9 597.7,183.7 600.7,183.4 603.7,183.2 606.7,183 609.7,182.7 612.7,182.6 615.7,182.5 618.7,182.5 621.7,182.6 624.7,182.7 627.7,182.8 630.7,183 633.7,183.2 636.7,183.4 639.7,183.6 642.7,183.8 645.7,184.1 648.7,184.4 651.7,184.7 654.7,185 657.7,185 657.7,-50 432.7,-50" fill="#00c6ff"/>
<polygon points="432.7,160.4 435.7,159 438.7,157.8 441.7,156.8 444.7,156.2 447.7,155.8 450.7,155.8 453.7,156.1 456.7,156.6 459.7,157.2 462.7,157.9 465.7,158.7 468.7,159.4 471.7,160 474.7,160.5 477.7,161 480.7,161.4 483.7,161.7 486.7,162.1 489.7,162.4 492.7,162.9 495.7,163.4 498.7,163.9 501.7,164.7 504.7,165.8 507.7,167 510.7,168.2 513.7,169.3 516.7,170.5 519.7,171.9 522.7,173.4 525.7,174.9 528.7,176.3 531.7,177.6 534.7,178.8 537.7,179.7 540.7,180.4 543.7,181.1 546.7,181.7 549.7,182.3 552.7,182.8 555.7,183.1 558.7,183.4 561.7,183.5 564.7,183.4 567.7,183.3 570.7,183 573.7,182.7 576.7,182.4 579.7,181.9 582.7,181.5 585.7,181.1 588.7,180.7 591.7,180.4 594.7,180.1 597.7,179.7 600.7,179.4 603.7,179 606.7,178.6 609.7,178.3 612.7,178 615.7,177.9 618.7,177.8 621.7,177.8 624.7,177.9 627.7,178 630.7,178.1 633.7,178.2 636.7,178.4 639.7,178.5 642.7,178.7 645.7,178.8 648.7,179 651.7,179.2 654.7,179.4 657.7,179.4 657.7,-50 432.7,-50" fill="#00dbff"/>
<polygon points="432.7,158.2 435.7,156.9 438.7,155.7 441.7,154.8 444.7,154.2 447.7,153.8 450.7,153.9 453.7,154.1 456.7,154.6 459.7,155.2 462.7,155.9 465.7,156.6 468.7,157.3 471.7,158 474.7,158.5 477.7,158.9 480.7,159.3 483.7,159.7 486.7,160.1 489.7,160.5 492.7,160.9 495.7,161.4 498.7,162 501.7,162.7 504.7,163.5 507.7,164.5 510.7,165.5 513.7,166.6 516.7,167.8 519.7,169.2 522.7,170.7 525.7,172.3 528.7,173.8 531.7,175.3 534.7,176.5 537.7,177.4 540.7,178.2 543.7,178.9 546.7,179.6 549.7,180.2 552.7,180.7 555.7,181.1 558.7,181.3 561.7,181.4 564.7,181.2 567.7,181 570.7,180.6 573.7,180.1 576.7,179.5 579.7,178.9 582.7,178.3 585.7,177.7 588.7,177.2 591.7,176.7 594.7,176.3 597.7,175.8 600.7,175.3 603.7,174.8 606.7,174.3 609.7,173.9 612.7,173.5 615.7,173.3 618.7,173.1 621.7,173.1 624.7,173.2 627.7,173.2 630.7,173.2 633.7,173.3 636.7,173.3 639.7,173.4 642.7,173.5 645.7,173.5 648.7,173.6 651.7,173.7 654.7,173.7 657.7,173.7 657.7,-50 432.7,-50" fill="#00f1ff"/>
<polygon points="432.7,156 435.7,154.7 438.7,153.7 441.7,152.9 444.7,152.3 447.7,152 450.7,152 453.7,152.3 456.7,152.8 459.7,153.3 462.7,154 465.7,154.7 468.7,155.4 471.7,156.1 474.7,156.6 477.7,157 480.7,157.4 483.7,157.8 486.7,158.2 489.7,158.7 492.7,159.1 495.7,159.6 498.7,160.1 501.7,160.7 504.7,161.5 507.7,162.3 510.7,163.1 513.7,164.1 516.7,165.3 519.7,166.7 522.7,168.3 525.7,169.9 528.7,171.6 531.7,173.1 534.7,174.4 537.7,175.3 540.7,176.1 543.7,176.9 546.7,177.6 549.7,178.3 552.7,178.8 555.7,179.2 558.7,179.4 561.7,179.4 564.7,179.1 567.7,178.7 570.7,178.2 573.7,177.6 576.7,176.9 579.7,176.1 582.7,175.3 585.7,174.6 588.7,173.9 591.7,173.3 594.7,172.7 597.7,172.2 600.7,171.6 603.7,171 606.7,170.4 609.7,169.9 612.7,169.4 615.7,169.1 618.7,169 621.7,168.9 624.7,168.9 627.7,168.9 630.7,168.9 633.7,168.9 636.7,168.9 639.7,168.9 642.7,168.9 645.7,168.9 648.7,168.9 651.7,168.9 654.7,168.9 657.7,168.9 657.7,-50 432.7,-50" fill="#00fff7"/>
<polygon points="432.7,153.7 435.7,152.6 438.7,151.8 441.7,151.1 444.7,150.6 447.7,150.4 450.7,150.5 453.7,150.8 456.7,151.2 459.7,151.8 462.7,152.5 465.7,153.2 468.7,153.8 471.7,154.5 474.7,155 477.7,155.4 480.7,155.9 483.7,156.3 486.7,156.7 489.7,157.2 492.7,157.6 495.7,158.1 498.7,158.5 501.7,159.1 504.7,159.7 507.7,160.4 510.7,161.2 513.7,162.1 516.7,163.2 519.7,164.6 522.7,166.3 525.7,168 528.7,169.7 531.7,171.3 534.7,172.6 537.7,173.6 540.7,174.4 543.7,175.1 546.7,175.8 549.7,176.5 552.7,177 555.7,177.4 558.7,177.6 561.7,177.5 564.7,177.3 567.7,176.8 570.7,176.2 573.7,175.4 576.7,174.6 579.7,173.7 582.7,172.8 585.7,171.9 588.7,171.1 591.7,170.4 594.7,169.8 597.7,169.2 600.7,168.6 603.7,167.9 606.7,167.3 609.7,166.8 612.7,166.3 615.7,165.9 618.7,165.7 621.7,165.7 624.7,165.7 627.7,165.6 630.7,165.6 633.7,165.5 636.7,165.5 639.7,165.5 642.7,165.5 645.7,165.5 648.7,165.4 651.7,165.4 654.7,165.4 657.7,165.4 657.7,-50 432.7,-50" fill="#00ffdd"/>
<polygon points="432.7,151.4 435.7,150.6 438.7,149.8 441.7,149.3 444.7,149 447.7,148.8 450.7,149 453.7,149.3 456.7,149.7 459.7,150.3 462.7,150.9 465.7,151.6 468.7,152.2 471.7,152.8 474.7,153.4 477.7,153.8 480.7,154.3 483.7,154.8 486.7,155.2 489.7,155.7 492.7,156.1 495.7,156.5 498.7,157 501.7,157.5 504.7,158 507.7,158.6 510.7,159.3 513.7,160.1 516.7,161.1 519.7,162.6 522.7,164.3 525.7,166.1 528.7,167.8 531.7,169.5 534.7,170.9 537.7,171.9 540.7,172.7 543.7,173.4 546.7,174.1 549.7,174.7 552.7,175.2 555.7,175.5 558.7,175.7 561.7,175.7 564.7,175.4 567.7,174.9 570.7,174.1 573.7,173.3 576.7,172.3 579.7,171.3 582.7,170.2 585.7,169.2 588.7,168.3 591.7,167.5 594.7,166.9 597.7,166.2 600.7,165.5 603.7,164.9 606.7,164.2 609.7,163.6 612.7,163.2 615.7,162.8 618.7,162.5 621.7,162.5 624.7,162.4 627.7,162.3 630.7,162.3 633.7,162.2 636.7,162.2 639.7,162.1 642.7,162.1 645.7,162 648.7,162 651.7,162 654.7,162 657.7,162 657.7,-50 432.7,-50" fill="#00ffc4"/>
<polygon points="432.7,149.1 435.7,148.5 438.7,147.9 441.7,147.5 444.7,147.3 447.7,147.3 450.7,147.4 453.7,147.8 456.7,148.2 459.7,148.8 462.7,149.4 465.7,150 468.7,150.7 471.7,151.2 474.7,151.8 477.7,152.2 480.7,152.7 483.7,153.2 486.7,153.7 489.7,154.2 492.7,154.6 495.7,155 498.7,155.4 501.7,155.8 504.7,156.3 507.7,156.8 510.7,157.4 513.7,158.1 516.7,159.1 519.7,160.5 522.7,162.3 525.7,164.1 528.7,166 531.7,167.7 534.7,169.2 537.7,170.2 540.7,170.9 543.7,171.7 546.7,172.3 549.7,172.9 552.7,173.4 555.7,173.7 558.7,173.9 561.7,173.9 564.7,173.5 567.7,172.9 570.7,172.1 573.7,171.1 576.7,170 579.7,168.8 582.7,167.7 585.7,166.5 588.7,165.5 591.7,164.7 594.7,164 597.7,163.3 600.7,162.5 603.7,161.8 606.7,161.1 609.7,160.5 612.7,160 615.7,159.6 618.7,159.3 621.7,159.2 624.7,159.1 627.7,159 630.7,158.9 633.7,158.9 636.7,158.8 639.7,158.7 642.7,158.7 645.7,158.6 648.7,158.6 651.7,158.6 654.7,158.6 657.7,158.6 657.7,-50 432.7,-50" fill="#00ffab"/>
<polygon points="432.7,146.8 435.7,146.4 438.7,146 441.7,145.7 444.7,145.6 447.7,145.7 450.7,145.9 453.7,146.3 456.7,146.7 459.7,147.3 462.7,147.9 465.7,148.5 468.7,149.1 471.7,149.6 474.7,150.1 477.7,150.7 480.7,151.2 483.7,151.7 486.7,152.2 489.7,152.7 492.7,153.1 495.7,153.5 498.7,153.8 501.7,154.2 504.7,154.6 507.7,155 510.7,155.5 513.7,156.1 516.7,157 519.7,158.5 522.7,160.2 525.7,162.2 528.7,164.1 531.7,165.9 534.7,167.4 537.7,168.5 540.7,169.2 543.7,169.9 546.7,170.6 549.7,171.1 552.7,171.6 555.7,171.9 558.7,172.1 561.7,172 564.7,171.7 567.7,171 570.7,170 573.7,168.9 576.7,167.7 579.7,166.4 582.7,165.1 585.7,163.9 588.7,162.7 591.7,161.8 594.7,161 597.7,160.3 600.7,159.5 603.7,158.8 606.7,158.1 609.7,157.4 612.7,156.9 615.7,156.4 618.7,156.1 621.7,156 624.7,155.9 627.7,155.7 630.7,155.6 633.7,155.5 636.7,155.4 639.7,155.4 642.7,155.3 645.7,155.2 648.7,155.2 651.7,155.2 654.7,155.1 657.7,155.1 657.7,-50 432.7,-50" fill="#00ff91"/>
<polygon points="432.7,144.6 435.7,144.3 438.7,144.1 441.7,144 444.7,144 447.7,144.1 450.7,144.4 453.7,144.8 456.7,145.2 459.7,145.8 462.7,146.3 465.7,146.9 468.7,147.5 471.7,148 474.7,148.5 477.7,149.1 480.7,149.6 483.7,150.1 486.7,150.7 489.7,151.2 492.7,151.6 495.7,152 498.7,152.3 501.7,152.6 504.7,152.9 507.7,153.2 510.7,153.6 513.7,154 516.7,155 519.7,156.4 522.7,158.2 525.7,160.2 528.7,162.3 531.7,164.1 534.7,165.7 537.7,166.8 540.7,167.5 543.7,168.2 546.7,168.8 549.7,169.3 552.7,169.8 555.7,170.1 558.7,170.3 561.7,170.2 564.7,169.8 567.7,169 570.7,168 573.7,166.8 576.7,165.4 579.7,164 582.7,162.6 585.7,161.2 588.7,160 591.7,158.9 594.7,158.1 597.7,157.3 600.7,156.5 603.7,155.7 606.7,155 609.7,154.3 612.7,153.7 615.7,153.3 618.7,152.9 621.7,152.8 624.7,152.6 627.7,152.5 630.7,152.3 633.7,152.2 636.7,152.1 639.7,152 642.7,151.9 645.7,151.8 648.7,151.8 651.7,151.7 654.7,151.7 657.7,151.7 657.7,-50 432.7,-50" fill="#00ff78"/>
<polygon points="432.7,142.3 435.7,142.2 438.7,142.1 441.7,142.2 444.7,142.3 447.7,142.5 450.7,142.9 453.7,143.3 456.7,143.7 459.7,144.2 462.7,144.8 465.7,145.3 468.7,145.9 471.7,146.4 474.7,146.9 477.7,147.5 480.7,148 483.7,148.6 486.7,149.2 489.7,149.7 492.7,150.1 495.7,150.5 498.7,150.7 501.7,150.9 504.7,151.2 507.7,151.4 510.7,151.7 513.7,152 516.7,152.9 519.7,154.4 522.7,156.2 525.7,158.3 528.7,160.4 531.7,162.4 534.7,164 537.7,165.1 540.7,165.8 543.7,166.4 546.7,167 549.7,167.6 552.7,168 555.7,168.3 558.7,168.4 561.7,168.4 564.7,167.9 567.7,167.1 570.7,166 573.7,164.6 576.7,163.1 579.7,161.6 582.7,160 585.7,158.5 588.7,157.2 591.7,156.1 594.7,155.2 597.7,154.3 600.7,153.5 603.7,152.7 606.7,151.9 609.7,151.2 612.7,150.6 615.7,150.1 618.7,149.7 621.7,149.5 624.7,149.3 627.7,149.2 630.7,149 633.7,148.9 636.7,148.7 639.7,148.6 642.7,148.5 645.7,148.4 648.7,148.3 651.7,148.3 654.7,148.3 657.7,148.3 657.7,-50 432.7,-50" fill="#03fe5a"/>
<polygon points="432.7,140 435.7,140.1 438.7,140.2 441.7,140.4 444.7,140.6 447.7,141 450.7,141.3 453.7,141.8 456.7,142.2 459.7,142.7 462.7,143.3 465.7,143.8 468.7,144.3 471.7,144.8 474.7,145.3 477.7,145.9 480.7,146.5 483.7,147.1 486.7,147.7 489.7,148.2 492.7,148.6 495.7,149 498.7,149.1 501.7,149.3 504.7,149.4 507.7,149.6 510.7,149.8 513.7,150 516.7,150.8 519.7,152.3 522.7,154.2 525.7,156.4 528.7,158.6 531.7,160.6 534.7,162.3 537.7,163.4 540.7,164 543.7,164.7 546.7,165.3 549.7,165.8 552.7,166.2 555.7,166.5 558.7,166.6 561.7,166.6 564.7,166.1 567.7,165.1 570.7,163.9 573.7,162.5 576.7,160.8 579.7,159.1 582.7,157.4 585.7,155.8 588.7,154.4 591.7,153.2 594.7,152.3 597.7,151.4 600.7,150.5 603.7,149.6 606.7,148.8 609.7,148.1 612.7,147.4 615.7,146.9 618.7,146.5 621.7,146.3 624.7,146.1 627.7,145.9 630.7,145.7 633.7,145.5 636.7,145.4 639.7,145.2 642.7,145.1 645.7,145 648.7,144.9 651.7,144.9 654.7,144.9 657.7,144.9 657.7,-50 432.7,-50" fill="#05fc3c"/>
<polygon points="432.7,137.7 435.7,138 438.7,138.3 441.7,138.6 444.7,139 447.7,139.4 450.7,139.8 453.7,140.3 456.7,140.7 459.7,141.2 462.7,141.7 465.7,142.2 468.7,142.7 471.7,143.2 474.7,143.7 477.7,144.3 480.7,144.9 483.7,145.5 486.7,146.1 489.7,146.7 492.7,147.1 495.7,147.4 498.7,147.6 501.7,147.6 504.7,147.7 507.7,147.8 510.7,147.9 513.7,148 516.7,148.8 519.7,150.2 522.7,152.2 525.7,154.4 528.7,156.7 531.7,158.8 534.7,160.5 537.7,161.6 540.7,162.3 543.7,162.9 546.7,163.5 549.7,164 552.7,164.4 555.7,164.7 558.7,164.8 561.7,164.7 564.7,164.2 567.7,163.2 570.7,161.9 573.7,160.3 576.7,158.5 579.7,156.7 582.7,154.9 585.7,153.2 588.7,151.6 591.7,150.3 594.7,149.4 597.7,148.4 600.7,147.5 603.7,146.6 606.7,145.7 609.7,145 612.7,144.3 615.7,143.7 618.7,143.3 621.7,143.1 624.7,142.8 627.7,142.6 630.7,142.4 633.7,142.2 636.7,142 639.7,141.8 642.7,141.7 645.7,141.6 648.7,141.5 651.7,141.4 654.7,141.4 657.7,141.4 657.7,-50 432.7,-50" fill="#08fb1e"/>
<polygon points="432.7,135.4 435.7,135.9 438.7,136.4 441.7,136.8 444.7,137.3 447.7,137.8 450.7,138.3 453.7,138.7 456.7,139.2 459.7,139.7 462.7,140.2 465.7,140.7 468.7,141.1 471.7,141.6 474.7,142.1 477.7,142.7 480.7,143.3 483.7,144 486.7,144.6 489.7,145.2 492.7,145.6 495.7,145.9 498.7,146 501.7,146 504.7,146 507.7,146 510.7,146 513.7,146 516.7,146.7 519.7,148.2 522.7,150.2 525.7,152.5 528.7,154.8 531.7,157 534.7,158.8 537.7,159.9 540.7,160.6 543.7,161.2 546.7,161.7 549.7,162.2 552.7,162.6 555.7,162.8 558.7,163 561.7,162.9 564.7,162.3 567.7,161.3 570.7,159.8 573.7,158.1 576.7,156.3 579.7,154.3 582.7,152.3 585.7,150.5 588.7,148.8 591.7,147.5 594.7,146.4 597.7,145.4 600.7,144.5 603.7,143.5 606.7,142.6 609.7,141.8 612.7,141.2 615.7,140.6 618.7,140.1 621.7,139.8 624.7,139.6 627.7,139.3 630.7,139.1 633.7,138.8 636.7,138.6 639.7,138.4 642.7,138.3 645.7,138.2 648.7,138.1 651.7,138 654.7,138 657.7,138 657.7,-50 432.7,-50" fill="#0afa00"/>
<polygon points="432.7,132.9 435.7,133.3 438.7,133.8 441.7,134.2 444.7,134.7 447.7,135.1 450.7,135.6 453.7,136 456.7,136.5 459.7,136.9 462.7,137.4 465.7,137.8 468.7,138.2 471.7,138.7 474.7,139.1 477.7,139.6 480.7,140.1 483.7,140.7 486.7,141.2 489.7,141.7 492.7,142.1 495.7,142.3 498.7,142.4 501.7,142.4 504.7,142.3 507.7,142.2 510.7,142.1 513.7,142.1 516.7,142.8 519.7,144.1 522.7,146 525.7,148.1 528.7,150.3 531.7,152.3 534.7,154 537.7,155.1 540.7,155.8 543.7,156.4 546.7,157.1 549.7,157.6 552.7,158 555.7,158.3 558.7,158.5 561.7,158.4 564.7,157.9 567.7,157 570.7,155.8 573.7,154.3 576.7,152.7 579.7,151 582.7,149.3 585.7,147.7 588.7,146.2 591.7,145 594.7,144.1 597.7,143.2 600.7,142.2 603.7,141.3 606.7,140.5 609.7,139.7 612.7,139 615.7,138.4 618.7,137.9 621.7,137.6 624.7,137.3 627.7,137 630.7,136.7 633.7,136.4 636.7,136.2 639.7,136 642.7,135.8 645.7,135.6 648.7,135.5 651.7,135.4 654.7,135.3 657.7,135.3 657.7,-50 432.7,-50" fill="#21fb00"/>
<polygon points="432.7,130.3 435.7,130.7 438.7,131.2 441.7,131.6 444.7,132 447.7,132.4 450.7,132.8 453.7,133.3 456.7,133.7 459.7,134.1 462.7,134.5 465.7,135 468.7,135.4 471.7,135.7 474.7,136.1 477.7,136.5 480.7,136.9 483.7,137.4 486.7,137.8 489.7,138.2 492.7,138.6 495.7,138.8 498.7,138.8 501.7,138.7 504.7,138.5 507.7,138.4 510.7,138.2 513.7,138.2 516.7,138.8 519.7,140.1 522.7,141.8 525.7,143.7 528.7,145.7 531.7,147.7 534.7,149.2 537.7,150.3 540.7,151 543.7,151.7 546.7,152.4 549.7,153 552.7,153.4 555.7,153.8 558.7,154 561.7,153.9 564.7,153.5 567.7,152.7 570.7,151.7 573.7,150.5 576.7,149.1 579.7,147.7 582.7,146.2 585.7,144.8 588.7,143.6 591.7,142.6 594.7,141.7 597.7,140.9 600.7,140 603.7,139.2 606.7,138.3 609.7,137.5 612.7,136.8 615.7,136.2 618.7,135.7 621.7,135.3 624.7,135 627.7,134.6 630.7,134.3 633.7,134 636.7,133.7 639.7,133.5 642.7,133.2 645.7,133 648.7,132.9 651.7,132.7 654.7,132.6 657.7,132.6 657.7,-50 432.7,-50" fill="#37fc00"/>
<polygon points="432.7,127.7 435.7,128.1 438.7,128.5 441.7,128.9 444.7,129.3 447.7,129.7 450.7,130.1 453.7,130.5 456.7,130.9 459.7,131.3 462.7,131.7 465.7,132.1 468.7,132.5 471.7,132.8 474.7,133.1 477.7,133.4 480.7,133.7 483.7,134.1 486.7,134.4 489.7,134.8 492.7,135 495.7,135.2 498.7,135.2 501.7,135.1 504.7,134.8 507.7,134.6 510.7,134.4 513.7,134.3 516.7,134.9 519.7,136 522.7,137.5 525.7,139.3 528.7,141.2 531.7,143 534.7,144.5 537.7,145.5 540.7,146.3 543.7,147 546.7,147.7 549.7,148.3 552.7,148.9 555.7,149.3 558.7,149.5 561.7,149.4 564.7,149.1 567.7,148.5 570.7,147.6 573.7,146.6 576.7,145.5 579.7,144.3 582.7,143.2 585.7,142 588.7,141 591.7,140.1 594.7,139.4 597.7,138.6 600.7,137.8 603.7,137 606.7,136.1 609.7,135.3 612.7,134.6 615.7,134 618.7,133.4 621.7,133 624.7,132.6 627.7,132.3 630.7,131.9 633.7,131.6 636.7,131.3 639.7,131 642.7,130.7 645.7,130.5 648.7,130.3 651.7,130.1 654.7,129.9 657.7,129.9 657.7,-50 432.7,-50" fill="#4efc00"/>
<polygon points="432.7,125.2 435.7,125.5 438.7,125.9 441.7,126.3 444.7,126.7 447.7,127 450.7,127.4 453.7,127.8 456.7,128.2 459.7,128.5 462.7,128.9 465.7,129.3 468.7,129.6 471.7,129.8 474.7,130 477.7,130.3 480.7,130.5 483.7,130.8 486.7,131.1 489.7,131.3 492.7,131.5 495.7,131.6 498.7,131.6 501.7,131.4 504.7,131.1 507.7,130.7 510.7,130.5 513.7,130.4 516.7,130.9 519.7,131.9 522.7,133.3 525.7,134.9 528.7,136.7 531.7,138.3 534.7,139.7 537.7,140.7 540.7,141.5 543.7,142.3 546.7,143 549.7,143.7 552.7,144.3 555.7,144.7 558.7,145 561.7,145 564.7,144.7 567.7,144.2 570.7,143.6 573.7,142.8 576.7,141.9 579.7,141 582.7,140.1 585.7,139.2 588.7,138.4 591.7,137.7 594.7,137.1 597.7,136.4 600.7,135.6 603.7,134.8 606.7,134 609.7,133.2 612.7,132.4 615.7,131.8 618.7,131.2 621.7,130.8 624.7,130.3 627.7,129.9 630.7,129.5 633.7,129.2 636.7,128.8 639.7,128.5 642.7,128.2 645.7,127.9 648.7,127.6 651.7,127.4 654.7,127.2 657.7,127.2 657.7,-50 432.7,-50" fill="#64fd00"/>
<polygon points="432.7,122.6 435.7,123 438.7,123.3 441.7,123.7 444.7,124 447.7,124.4 450.7,124.7 453.7,125 456.7,125.4 459.7,125.8 462.7,126.1 465.7,126.4 468.7,126.7 471.7,126.9 474.7,127 477.7,127.2 480.7,127.3 483.7,127.5 486.7,127.7 489.7,127.8 492.7,127.9 495.7,128 498.7,128 501.7,127.8 504.7,127.4 507.7,126.9 510.7,126.6 513.7,126.5 516.7,126.9 519.7,127.8 522.7,129.1 525.7,130.6 528.7,132.1 531.7,133.6 534.7,134.9 537.7,135.9 540.7,136.7 543.7,137.5 546.7,138.4 549.7,139.1 552.7,139.8 555.7,140.2 558.7,140.5 561.7,140.5 564.7,140.3 567.7,140 570.7,139.5 573.7,139 576.7,138.4 579.7,137.7 582.7,137 585.7,136.4 588.7,135.8 591.7,135.2 594.7,134.7 597.7,134.1 600.7,133.4 603.7,132.6 606.7,131.8 609.7,131 612.7,130.3 615.7,129.6 618.7,129 621.7,128.5 624.7,128 627.7,127.6 630.7,127.2 633.7,126.8 636.7,126.4 639.7,126 642.7,125.6 645.7,125.3 648.7,125 651.7,124.8 654.7,124.5 657.7,124.5 657.7,-50 432.7,-50" fill="#7bfe00"/>
<polygon points="432.7,120 435.7,120.4 438.7,120.7 441.7,121 444.7,121.4 447.7,121.7 450.7,122 453.7,122.3 456.7,122.6 459.7,123 462.7,123.3 465.7,123.6 468.7,123.8 471.7,123.9 474.7,124 477.7,124.1 480.7,124.1 483.7,124.2 486.7,124.3 489.7,124.3 492.7,124.4 495.7,124.4 498.7,124.4 501.7,124.1 504.7,123.6 507.7,123.1 510.7,122.7 513.7,122.6 516.7,123 519.7,123.8 522.7,124.9 525.7,126.2 528.7,127.6 531.7,128.9 534.7,130.1 537.7,131.1 540.7,131.9 543.7,132.8 546.7,133.7 549.7,134.5 552.7,135.2 555.7,135.7 558.7,136 561.7,136 564.7,135.9 567.7,135.7 570.7,135.4 573.7,135.1 576.7,134.8 579.7,134.4 582.7,134 585.7,133.6 588.7,133.2 591.7,132.8 594.7,132.4 597.7,131.8 600.7,131.2 603.7,130.4 606.7,129.7 609.7,128.9 612.7,128.1 615.7,127.4 618.7,126.7 621.7,126.2 624.7,125.7 627.7,125.2 630.7,124.8 633.7,124.3 636.7,123.9 639.7,123.5 642.7,123.1 645.7,122.8 648.7,122.4 651.7,122.1 654.7,121.8 657.7,121.8 657.7,-50 432.7,-50" fill="#91ff00"/>
<polygon points="432.7,117.2 435.7,117.5 438.7,117.8 441.7,118.1 444.7,118.4 447.7,118.6 450.7,118.9 453.7,119.2 456.7,119.5 459.7,119.8 462.7,120.1 465.7,120.3 468.7,120.5 471.7,120.6 474.7,120.6 477.7,120.6 480.7,120.6 483.7,120.6 486.7,120.6 489.7,120.6 492.7,120.6 495.7,120.6 498.7,120.6 501.7,120.3 504.7,119.8 507.7,119.3 510.7,118.9 513.7,118.8 516.7,119.1 519.7,119.8 522.7,120.8 525.7,122 528.7,123.3 531.7,124.5 534.7,125.7 537.7,126.7 540.7,127.5 543.7,128.4 546.7,129.3 549.7,130.1 552.7,130.9 555.7,131.4 558.7,131.7 561.7,131.8 564.7,131.7 567.7,131.7 570.7,131.6 573.7,131.4 576.7,131.3 579.7,131.1 582.7,130.9 585.7,130.6 588.7,130.4 591.7,130.1 594.7,129.8 597.7,129.4 600.7,128.8 603.7,128.1 606.7,127.3 609.7,126.5 612.7,125.8 615.7,125.1 618.7,124.4 621.7,123.9 624.7,123.4 627.7,122.9 630.7,122.4 633.7,121.9 636.7,121.5 639.7,121 642.7,120.6 645.7,120.2 648.7,119.8 651.7,119.5 654.7,119.2 657.7,119.1 657.7,-50 432.7,-50" fill="#a6ff00"/>
<polygon points="432.7,113.7 435.7,114 438.7,114.2 441.7,114.5 444.7,114.7 447.7,114.9 450.7,115.1 453.7,115.4 456.7,115.6 459.7,115.8 462.7,116 465.7,116.2 468.7,116.4 471.7,116.5 474.7,116.5 477.7,116.5 480.7,116.5 483.7,116.5 486.7,116.5 489.7,116.5 492.7,116.5 495.7,116.5 498.7,116.5 501.7,116.3 504.7,115.9 507.7,115.4 510.7,115.1 513.7,115 516.7,115.4 519.7,116.1 522.7,117.1 525.7,118.3 528.7,119.5 531.7,120.8 534.7,122 537.7,122.9 540.7,123.8 543.7,124.6 546.7,125.5 549.7,126.3 552.7,127.1 555.7,127.6 558.7,127.9 561.7,128 564.7,128.1 567.7,128.1 570.7,128 573.7,128 576.7,127.9 579.7,127.8 582.7,127.6 585.7,127.5 588.7,127.3 591.7,127.1 594.7,126.8 597.7,126.5 600.7,125.9 603.7,125.3 606.7,124.6 609.7,123.9 612.7,123.2 615.7,122.6 618.7,122 621.7,121.5 624.7,121 627.7,120.5 630.7,120 633.7,119.5 636.7,119.1 639.7,118.6 642.7,118.2 645.7,117.7 648.7,117.3 651.7,116.9 654.7,116.5 657.7,116.5 657.7,-50 432.7,-50" fill="#b8ff00"/>
<polygon points="432.7,110.3 435.7,110.5 438.7,110.7 441.7,110.8 444.7,111 447.7,111.2 450.7,111.3 453.7,111.5 456.7,111.7 459.7,111.9 462.7,112 465.7,112.2 468.7,112.3 471.7,112.4 474.7,112.4 477.7,112.4 480.7,112.4 483.7,112.4 486.7,112.4 489.7,112.4 492.7,112.4 495.7,112.4 498.7,112.4 501.7,112.2 504.7,111.9 507.7,111.6 510.7,111.3 513.7,111.3 516.7,111.6 519.7,112.3 522.7,113.3 525.7,114.5 528.7,115.8 531.7,117 534.7,118.2 537.7,119.2 540.7,120 543.7,120.9 546.7,121.7 549.7,122.5 552.7,123.3 555.7,123.8 558.7,124.2 561.7,124.3 564.7,124.4 567.7,124.5 570.7,124.5 573.7,124.5 576.7,124.5 579.7,124.5 582.7,124.4 585.7,124.3 588.7,124.2 591.7,124.1 594.7,123.9 597.7,123.6 600.7,123.1 603.7,122.6 606.7,122 609.7,121.3 612.7,120.7 615.7,120.1 618.7,119.5 621.7,119 624.7,118.6 627.7,118.1 630.7,117.6 633.7,117.1 636.7,116.7 639.7,116.2 642.7,115.7 645.7,115.3 648.7,114.8 651.7,114.4 654.7,113.9 657.7,113.9 657.7,-50 432.7,-50" fill="#caff00"/>
<polygon points="432.7,106.9 435.7,107 438.7,107.1 441.7,107.2 444.7,107.3 447.7,107.5 450.7,107.6 453.7,107.7 456.7,107.8 459.7,107.9 462.7,108 465.7,108.1 468.7,108.2 471.7,108.2 474.7,108.2 477.7,108.2 480.7,108.2 483.7,108.2 486.7,108.2 489.7,108.2 492.7,108.2 495.7,108.2 498.7,108.2 501.7,108.1 504.7,107.9 507.7,107.7 510.7,107.5 513.7,107.5 516.7,107.9 519.7,108.6 522.7,109.6 525.7,110.8 528.7,112 531.7,113.3 534.7,114.5 537.7,115.4 540.7,116.2 543.7,117.1 546.7,117.9 549.7,118.7 552.7,119.4 555.7,120 558.7,120.4 561.7,120.6 564.7,120.8 567.7,120.9 570.7,121 573.7,121.1 576.7,121.2 579.7,121.2 582.7,121.2 585.7,121.2 588.7,121.1 591.7,121 594.7,120.9 597.7,120.7 600.7,120.3 603.7,119.8 606.7,119.3 609.7,118.7 612.7,118.1 615.7,117.6 618.7,117.1 621.7,116.6 624.7,116.2 627.7,115.7 630.7,115.2 633.7,114.7 636.7,114.3 639.7,113.8 642.7,113.3 645.7,112.8 648.7,112.3 651.7,111.8 654.7,111.3 657.7,111.2 657.7,-50 432.7,-50" fill="#dbff00"/>
<polygon points="432.7,103.4 435.7,103.5 438.7,103.6 441.7,103.6 444.7,103.7 447.7,103.7 450.7,103.8 453.7,103.8 456.7,103.9 459.7,104 462.7,104 465.7,104.1 468.7,104.1 471.7,104.1 474.7,104.1 477.7,104.1 480.7,104.1 483.7,104.1 486.7,104.1 489.7,104.1 492.7,104.1 495.7,104.1 498.7,104.1 501.7,104.1 504.7,104 507.7,103.9 510.7,103.8 513.7,103.8 516.7,104.1 519.7,104.8 522.7,105.8 525.7,107 528.7,108.3 531.7,109.5 534.7,110.7 537.7,111.7 540.7,112.5 543.7,113.3 546.7,114.2 549.7,114.9 552.7,115.6 555.7,116.2 558.7,116.6 561.7,116.9 564.7,117.1 567.7,117.3 570.7,117.5 573.7,117.7 576.7,117.8 579.7,117.9 582.7,118 585.7,118 588.7,118 591.7,118 594.7,117.9 597.7,117.8 600.7,117.4 603.7,117.1 606.7,116.6 609.7,116.1 612.7,115.6 615.7,115.1 618.7,114.6 621.7,114.2 624.7,113.8 627.7,113.3 630.7,112.8 633.7,112.4 636.7,111.9 639.7,111.4 642.7,110.8 645.7,110.3 648.7,109.8 651.7,109.2 654.7,108.7 657.7,108.6 657.7,-50 432.7,-50" fill="#edff00"/>
<polygon points="432.7,100 435.7,100 438.7,100 441.7,100 444.7,100 447.7,100 450.7,100 453.7,100 456.7,100 459.7,100 462.7,100 465.7,100 468.7,100 471.7,100 474.7,100 477.7,100 480.7,100 483.7,100 486.7,100 489.7,100 492.7,100 495.7,100 498.7,100 501.7,100 504.7,100 507.7,100 510.7,100 513.7,100 516.7,100.4 519.7,101.1 522.7,102.1 525.7,103.3 528.7,104.5 531.7,105.8 534.7,107 537.7,107.9 540.7,108.7 543.7,109.6 546.7,110.4 549.7,111.1 552.7,111.8 555.7,112.4 558.7,112.9 561.7,113.2 564.7,113.5 567.7,113.7 570.7,114 573.7,114.2 576.7,114.4 579.7,114.6 582.7,114.8 585.7,114.9 588.7,115 591.7,115 594.7,115 597.7,114.8 600.7,114.6 603.7,114.3 606.7,113.9 609.7,113.5 612.7,113.1 615.7,112.6 618.7,112.2 621.7,111.8 624.7,111.3 627.7,110.9 630.7,110.4 633.7,110 636.7,109.5 639.7,108.9 642.7,108.4 645.7,107.8 648.7,107.3 651.7,106.7 654.7,106.1 657.7,106 657.7,-50 432.7,-50" fill="#ffff00"/>
<polygon points="432.7,96.5 435.7,96.5 438.7,96.5 441.7,96.4 444.7,96.4 447.7,96.3 450.7,96.3 453.7,96.3 456.7,96.2 459.7,96.2 462.7,96.1 465.7,96.1 468.7,96.1 471.7,96 474.7,96 477.7,96 480.7,96.1 483.7,96.1 486.7,96.1 489.7,96.1 492.7,96.1 495.7,96.2 498.7,96.2 501.7,96.3 504.7,96.4 507.7,96.5 510.7,96.6 513.7,96.8 516.7,97.2 519.7,97.9 522.7,98.8 525.7,100 528.7,101.2 531.7,102.4 534.7,103.5 537.7,104.4 540.7,105.2 543.7,106 546.7,106.7 549.7,107.5 552.7,108.1 555.7,108.7 558.7,109.2 561.7,109.5 564.7,109.8 567.7,110.1 570.7,110.3 573.7,110.6 576.7,110.8 579.7,111 582.7,111.2 585.7,111.3 588.7,111.4 591.7,111.4 594.7,111.4 597.7,111.3 600.7,111.1 603.7,110.8 606.7,110.5 609.7,110.1 612.7,109.7 615.7,109.3 618.7,108.9 621.7,108.5 624.7,108.2 627.7,107.8 630.7,107.4 633.7,107.1 636.7,106.7 639.7,106.3 642.7,105.9 645.7,105.4 648.7,105 651.7,104.6 654.7,104.1 657.7,104.1 657.7,-50 432.7,-50" fill="#ffef00"/>
<polygon points="432.7,93.1 435.7,93 438.7,92.9 441.7,92.8 444.7,92.7 447.7,92.7 450.7,92.6 453.7,92.5 456.7,92.4 459.7,92.3 462.7,92.3 465.7,92.2 468.7,92.1 471.7,92.1 474.7,92.1 477.7,92.1 480.7,92.1 483.7,92.1 486.7,92.2 489.7,92.2 492.7,92.3 495.7,92.3 498.7,92.4 501.7,92.5 504.7,92.8 507.7,93 510.7,93.3 513.7,93.5 516.7,94 519.7,94.7 522.7,95.6 525.7,96.7 528.7,97.8 531.7,98.9 534.7,100 537.7,100.8 540.7,101.6 543.7,102.4 546.7,103.1 549.7,103.8 552.7,104.5 555.7,105 558.7,105.5 561.7,105.8 564.7,106.1 567.7,106.4 570.7,106.7 573.7,107 576.7,107.2 579.7,107.4 582.7,107.6 585.7,107.8 588.7,107.9 591.7,107.9 594.7,107.9 597.7,107.8 600.7,107.6 603.7,107.3 606.7,107 609.7,106.6 612.7,106.3 615.7,105.9 618.7,105.6 621.7,105.3 624.7,105 627.7,104.7 630.7,104.4 633.7,104.2 636.7,103.9 639.7,103.6 642.7,103.3 645.7,103.1 648.7,102.8 651.7,102.5 654.7,102.2 657.7,102.2 657.7,-50 432.7,-50" fill="#ffdf00"/>
<polygon points="432.7,89.6 435.7,89.5 438.7,89.4 441.7,89.2 444.7,89.1 447.7,89 450.7,88.9 453.7,88.8 456.7,88.6 459.7,88.5 462.7,88.4 465.7,88.3 468.7,88.2 471.7,88.1 474.7,88.1 477.7,88.1 480.7,88.2 483.7,88.2 486.7,88.3 489.7,88.3 492.7,88.4 495.7,88.5 498.7,88.6 501.7,88.8 504.7,89.1 507.7,89.5 510.7,89.9 513.7,90.3 516.7,90.8 519.7,91.5 522.7,92.4 525.7,93.4 528.7,94.5 531.7,95.5 534.7,96.5 537.7,97.3 540.7,98 543.7,98.8 546.7,99.5 549.7,100.2 552.7,100.8 555.7,101.4 558.7,101.8 561.7,102.1 564.7,102.5 567.7,102.8 570.7,103.1 573.7,103.4 576.7,103.6 579.7,103.9 582.7,104 585.7,104.2 588.7,104.3 591.7,104.4 594.7,104.3 597.7,104.2 600.7,104.1 603.7,103.8 606.7,103.5 609.7,103.2 612.7,102.9 615.7,102.6 618.7,102.3 621.7,102.1 624.7,101.8 627.7,101.6 630.7,101.4 633.7,101.3 636.7,101.1 639.7,100.9 642.7,100.8 645.7,100.7 648.7,100.5 651.7,100.4 654.7,100.3 657.7,100.3 657.7,-50 432.7,-50" fill="#ffcf00"/>
<polygon points="432.7,86.2 435.7,86 438.7,85.8 441.7,85.7 444.7,85.5 447.7,85.3 450.7,85.2 453.7,85 456.7,84.8 459.7,84.7 462.7,84.5 465.7,84.4 468.7,84.3 471.7,84.2 474.7,84.2 477.7,84.2 480.7,84.2 483.7,84.3 486.7,84.3 489.7,84.4 492.7,84.5 495.7,84.6 498.7,84.8 501.7,85.1 504.7,85.5 507.7,86 510.7,86.6 513.7,87 516.7,87.6 519.7,88.3 522.7,89.2 525.7,90.1 528.7,91.1 531.7,92.1 534.7,93 537.7,93.7 540.7,94.5 543.7,95.2 546.7,95.9 549.7,96.5 552.7,97.1 555.7,97.7 558.7,98.1 561.7,98.5 564.7,98.8 567.7,99.1 570.7,99.5 573.7,99.8 576.7,100 579.7,100.3 582.7,100.5 585.7,100.6 588.7,100.8 591.7,100.8 594.7,100.8 597.7,100.7 600.7,100.5 603.7,100.3 606.7,100.1 609.7,99.8 612.7,99.5 615.7,99.2 618.7,99 621.7,98.8 624.7,98.7 627.7,98.5 630.7,98.4 633.7,98.4 636.7,98.3 639.7,98.3 642.7,98.3 645.7,98.3 648.7,98.3 651.7,98.3 654.7,98.4 657.7,98.4 657.7,-50 432.7,-50" fill="#ffbf00"/>
<polygon points="432.7,82.7 435.7,82.5 438.7,82.3 441.7,82.1 444.7,81.9 447.7,81.7 450.7,81.5 453.7,81.3 456.7,81.1 459.7,80.8 462.7,80.6 465.7,80.5 468.7,80.3 471.7,80.2 474.7,80.2 477.7,80.2 480.7,80.3 483.7,80.3 486.7,80.4 489.7,80.5 492.7,80.7 495.7,80.8 498.7,81 501.7,81.3 504.7,81.9 507.7,82.5 510.7,83.2 513.7,83.8 516.7,84.4 519.7,85.1 522.7,86 525.7,86.9 528.7,87.8 531.7,88.6 534.7,89.5 537.7,90.2 540.7,90.9 543.7,91.6 546.7,92.2 549.7,92.9 552.7,93.5 555.7,94 558.7,94.4 561.7,94.8 564.7,95.1 567.7,95.5 570.7,95.8 573.7,96.1 576.7,96.4 579.7,96.7 582.7,96.9 585.7,97.1 588.7,97.2 591.7,97.3 594.7,97.3 597.7,97.2 600.7,97 603.7,96.8 606.7,96.6 609.7,96.3 612.7,96.1 615.7,95.9 618.7,95.7 621.7,95.6 624.7,95.5 627.7,95.4 630.7,95.4 633.7,95.5 636.7,95.5 639.7,95.6 642.7,95.7 645.7,95.9 648.7,96 651.7,96.2 654.7,96.4 657.7,96.5 657.7,-50 432.7,-50" fill="#ffaf00"/>
<polygon points="432.7,79.3 435.7,79 438.7,78.7 441.7,78.5 444.7,78.2 447.7,78 450.7,77.8 453.7,77.5 456.7,77.3 459.7,77 462.7,76.8 465.7,76.6 468.7,76.4 471.7,76.3 474.7,76.3 477.7,76.3 480.7,76.3 483.7,76.4 486.7,76.5 489.7,76.6 492.7,76.8 495.7,77 498.7,77.1 501.7,77.6 504.7,78.3 507.7,79 510.7,79.8 513.7,80.5 516.7,81.2 519.7,82 522.7,82.7 525.7,83.6 528.7,84.4 531.7,85.2 534.7,86 537.7,86.7 540.7,87.3 543.7,88 546.7,88.6 549.7,89.2 552.7,89.8 555.7,90.3 558.7,90.7 561.7,91.1 564.7,91.5 567.7,91.8 570.7,92.2 573.7,92.5 576.7,92.8 579.7,93.1 582.7,93.3 585.7,93.5 588.7,93.7 591.7,93.7 594.7,93.7 597.7,93.6 600.7,93.5 603.7,93.3 606.7,93.1 609.7,92.9 612.7,92.7 615.7,92.5 618.7,92.4 621.7,92.3 624.7,92.3 627.7,92.4 630.7,92.4 633.7,92.6 636.7,92.7 639.7,93 642.7,93.2 645.7,93.5 648.7,93.8 651.7,94.1 654.7,94.5 657.7,94.5 657.7,-50 432.7,-50" fill="#ff9e00"/>
<polygon points="432.7,75.8 435.7,75.5 438.7,75.2 441.7,74.9 444.7,74.6 447.7,74.3 450.7,74.1 453.7,73.8 456.7,73.5 459.7,73.2 462.7,72.9 465.7,72.6 468.7,72.5 471.7,72.3 474.7,72.3 477.7,72.3 480.7,72.4 483.7,72.5 486.7,72.6 489.7,72.8 492.7,72.9 495.7,73.1 498.7,73.3 501.7,73.8 504.7,74.6 507.7,75.5 510.7,76.5 513.7,77.3 516.7,78 519.7,78.8 522.7,79.5 525.7,80.3 528.7,81 531.7,81.8 534.7,82.5 537.7,83.1 540.7,83.7 543.7,84.4 546.7,85 549.7,85.6 552.7,86.1 555.7,86.6 558.7,87.1 561.7,87.4 564.7,87.8 567.7,88.2 570.7,88.6 573.7,88.9 576.7,89.2 579.7,89.5 582.7,89.8 585.7,90 588.7,90.1 591.7,90.2 594.7,90.2 597.7,90.1 600.7,90 603.7,89.8 606.7,89.6 609.7,89.5 612.7,89.3 615.7,89.2 618.7,89.1 621.7,89.1 624.7,89.1 627.7,89.3 630.7,89.4 633.7,89.7 636.7,90 639.7,90.3 642.7,90.7 645.7,91.1 648.7,91.6 651.7,92.1 654.7,92.6 657.7,92.6 657.7,-50 432.7,-50" fill="#ff8d00"/>
<polygon points="432.7,72.2 435.7,71.9 438.7,71.6 441.7,71.3 444.7,71.1 447.7,70.8 450.7,70.6 453.7,70.3 456.7,70 459.7,69.7 462.7,69.5 465.7,69.3 468.7,69.1 471.7,69 474.7,69 477.7,69 480.7,69.1 483.7,69.2 486.7,69.3 489.7,69.5 492.7,69.6 495.7,69.8 498.7,70.1 501.7,70.6 504.7,71.3 507.7,72.3 510.7,73.2 513.7,74 516.7,74.7 519.7,75.4 522.7,76.2 525.7,76.9 528.7,77.6 531.7,78.3 534.7,78.9 537.7,79.5 540.7,80.1 543.7,80.7 546.7,81.3 549.7,81.8 552.7,82.3 555.7,82.8 558.7,83.2 561.7,83.6 564.7,84 567.7,84.3 570.7,84.7 573.7,85 576.7,85.4 579.7,85.7 582.7,85.9 585.7,86.1 588.7,86.3 591.7,86.4 594.7,86.4 597.7,86.4 600.7,86.4 603.7,86.3 606.7,86.3 609.7,86.2 612.7,86.2 615.7,86.1 618.7,86.2 621.7,86.3 624.7,86.4 627.7,86.6 630.7,86.9 633.7,87.2 636.7,87.6 639.7,88 642.7,88.5 645.7,89 648.7,89.5 651.7,90.1 654.7,90.7 657.7,90.8 657.7,-50 432.7,-50" fill="#ff7b00"/>
<polygon points="432.7,68.5 435.7,68.3 438.7,68 441.7,67.8 444.7,67.6 447.7,67.3 450.7,67.1 453.7,66.9 456.7,66.7 459.7,66.5 462.7,66.3 465.7,66.2 468.7,66.1 471.7,66 474.7,66 477.7,66.1 480.7,66.1 483.7,66.2 486.7,66.3 489.7,66.5 492.7,66.6 495.7,66.8 498.7,67.1 501.7,67.5 504.7,68.2 507.7,69.1 510.7,69.9 513.7,70.7 516.7,71.3 519.7,72 522.7,72.7 525.7,73.4 528.7,74.1 531.7,74.8 534.7,75.4 537.7,75.9 540.7,76.5 543.7,77 546.7,77.6 549.7,78.1 552.7,78.5 555.7,79 558.7,79.3 561.7,79.7 564.7,80 567.7,80.4 570.7,80.7 573.7,81.1 576.7,81.4 579.7,81.6 582.7,81.9 585.7,82.1 588.7,82.3 591.7,82.5 594.7,82.6 597.7,82.6 600.7,82.7 603.7,82.8 606.7,82.9 609.7,83 612.7,83.1 615.7,83.2 618.7,83.4 621.7,83.6 624.7,83.9 627.7,84.2 630.7,84.6 633.7,85 636.7,85.4 639.7,85.9 642.7,86.5 645.7,87 648.7,87.6 651.7,88.3 654.7,88.9 657.7,89 657.7,-50 432.7,-50" fill="#ff6a00"/>
<polygon points="432.7,64.8 435.7,64.6 438.7,64.4 441.7,64.2 444.7,64 447.7,63.9 450.7,63.7 453.7,63.5 456.7,63.4 459.7,63.3 462.7,63.1 465.7,63 468.7,63 471.7,63 474.7,63 477.7,63.1 480.7,63.1 483.7,63.2 486.7,63.4 489.7,63.5 492.7,63.7 495.7,63.8 498.7,64.1 501.7,64.5 504.7,65.1 507.7,65.9 510.7,66.7 513.7,67.3 516.7,68 519.7,68.7 522.7,69.3 525.7,70 528.7,70.6 531.7,71.2 534.7,71.8 537.7,72.3 540.7,72.9 543.7,73.3 546.7,73.8 549.7,74.3 552.7,74.7 555.7,75.1 558.7,75.5 561.7,75.8 564.7,76.1 567.7,76.4 570.7,76.8 573.7,77.1 576.7,77.4 579.7,77.6 582.7,77.9 585.7,78.1 588.7,78.3 591.7,78.5 594.7,78.7 597.7,78.9 600.7,79.1 603.7,79.3 606.7,79.5 609.7,79.8 612.7,80.1 615.7,80.4 618.7,80.7 621.7,81 624.7,81.4 627.7,81.8 630.7,82.2 633.7,82.7 636.7,83.3 639.7,83.8 642.7,84.4 645.7,85.1 648.7,85.7 651.7,86.4 654.7,87.1 657.7,87.2 657.7,-50 432.7,-50" fill="#ff5600"/>
<polygon points="432.7,61.1 435.7,61 438.7,60.8 441.7,60.7 444.7,60.5 447.7,60.4 450.7,60.3 453.7,60.2 456.7,60.1 459.7,60 462.7,60 465.7,59.9 468.7,59.9 471.7,60 474.7,60 477.7,60.1 480.7,60.2 483.7,60.3 486.7,60.4 489.7,60.5 492.7,60.7 495.7,60.8 498.7,61.1 501.7,61.5 504.7,62 507.7,62.7 510.7,63.4 513.7,64 516.7,64.6 519.7,65.3 522.7,65.9 525.7,66.5 528.7,67.1 531.7,67.7 534.7,68.3 537.7,68.8 540.7,69.2 543.7,69.7 546.7,70.1 549.7,70.5 552.7,70.9 555.7,71.2 558.7,71.6 561.7,71.9 564.7,72.2 567.7,72.5 570.7,72.8 573.7,73.1 576.7,73.3 579.7,73.6 582.7,73.9 585.7,74.1 588.7,74.4 591.7,74.6 594.7,74.8 597.7,75.1 600.7,75.4 603.7,75.8 606.7,76.2 609.7,76.6 612.7,77 615.7,77.5 618.7,77.9 621.7,78.4 624.7,78.8 627.7,79.4 630.7,79.9 633.7,80.5 636.7,81.1 639.7,81.8 642.7,82.4 645.7,83.1 648.7,83.8 651.7,84.6 654.7,85.3 657.7,85.4 657.7,-50 432.7,-50" fill="#ff4000"/>
<polygon points="432.7,57.4 435.7,57.3 438.7,57.2 441.7,57.1 444.7,57 447.7,56.9 450.7,56.9 453.7,56.8 456.7,56.8 459.7,56.8 462.7,56.8 465.7,56.8 468.7,56.9 471.7,56.9 474.7,57 477.7,57.1 480.7,57.2 483.7,57.3 486.7,57.4 489.7,57.5 492.7,57.7 495.7,57.8 498.7,58.1 501.7,58.4 504.7,58.9 507.7,59.5 510.7,60.2 513.7,60.7 516.7,61.3 519.7,61.9 522.7,62.5 525.7,63 528.7,63.6 531.7,64.2 534.7,64.7 537.7,65.2 540.7,65.6 543.7,66 546.7,66.3 549.7,66.7 552.7,67 555.7,67.4 558.7,67.7 561.7,68 564.7,68.3 567.7,68.5 570.7,68.8 573.7,69.1 576.7,69.3 579.7,69.6 582.7,69.9 585.7,70.1 588.7,70.4 591.7,70.7 594.7,71 597.7,71.3 600.7,71.8 603.7,72.3 606.7,72.8 609.7,73.4 612.7,74 615.7,74.6 618.7,75.2 621.7,75.7 624.7,76.3 627.7,76.9 630.7,77.6 633.7,78.3 636.7,79 639.7,79.7 642.7,80.4 645.7,81.2 648.7,81.9 651.7,82.7 654.7,83.5 657.7,83.6 657.7,-50 432.7,-50" fill="#ff2b00"/>
<polygon points="432.7,53.7 435.7,53.7 438.7,53.6 441.7,53.6 444.7,53.5 447.7,53.5 450.7,53.4 453.7,53.4 456.7,53.5 459.7,53.5 462.7,53.6 465.7,53.7 468.7,53.8 471.7,53.9 474.7,54 477.7,54.1 480.7,54.2 483.7,54.3 486.7,54.4 489.7,54.5 492.7,54.7 495.7,54.9 498.7,55.1 501.7,55.4 504.7,55.8 507.7,56.4 510.7,56.9 513.7,57.4 516.7,57.9 519.7,58.5 522.7,59 525.7,59.6 528.7,60.1 531.7,60.7 534.7,61.1 537.7,61.6 540.7,61.9 543.7,62.3 546.7,62.6 549.7,62.9 552.7,63.2 555.7,63.5 558.7,63.8 561.7,64.1 564.7,64.3 567.7,64.6 570.7,64.8 573.7,65.1 576.7,65.3 579.7,65.6 582.7,65.9 585.7,66.1 588.7,66.4 591.7,66.8 594.7,67.1 597.7,67.6 600.7,68.1 603.7,68.8 606.7,69.5 609.7,70.2 612.7,70.9 615.7,71.7 618.7,72.4 621.7,73.1 624.7,73.8 627.7,74.5 630.7,75.3 633.7,76 636.7,76.8 639.7,77.6 642.7,78.4 645.7,79.2 648.7,80 651.7,80.9 654.7,81.7 657.7,81.8 657.7,-50 432.7,-50" fill="#ff1500"/>
<polygon points="432.7,50 435.7,50 438.7,50 441.7,50 444.7,50 447.7,50 450.7,50 453.7,50.1 456.7,50.2 459.7,50.3 462.7,50.4 465.7,50.6 468.7,50.7 471.7,50.9 474.7,51 477.7,51.1 480.7,51.2 483.7,51.3 486.7,51.4 489.7,51.6 492.7,51.7 495.7,51.9 498.7,52.1 501.7,52.3 504.7,52.7 507.7,53.2 510.7,53.7 513.7,54.1 516.7,54.6 519.7,55.1 522.7,55.6 525.7,56.1 528.7,56.6 531.7,57.1 534.7,57.6 537.7,58 540.7,58.3 543.7,58.6 546.7,58.9 549.7,59.1 552.7,59.4 555.7,59.6 558.7,59.9 561.7,60.2 564.7,60.4 567.7,60.6 570.7,60.9 573.7,61.1 576.7,61.3 579.7,61.6 582.7,61.8 585.7,62.1 588.7,62.5 591.7,62.8 594.7,63.3 597.7,63.8 600.7,64.5 603.7,65.3 606.7,66.1 609.7,67 612.7,67.9 615.7,68.8 618.7,69.6 621.7,70.5 624.7,71.3 627.7,72.1 630.7,72.9 633.7,73.8 636.7,74.6 639.7,75.5 642.7,76.4 645.7,77.2 648.7,78.1 651.7,79 654.7,79.9 657.7,80 657.7,-50 432.7,-50" fill="#ff0000"/>
</g></g>
<g clip-path="url(#c3)"><g opacity="0.999">
<path d="M429.4,376.1C431.3,374.9 437.4,371 441.1,368.8C444.9,366.6 447.9,364.7 451.9,362.9C455.9,361.1 460.8,358.8 465.3,358.1C469.8,357.4 474.2,358.1 478.7,358.6C483.2,359.1 487.7,360.7 492.2,361.3C496.7,361.9 501.1,362.1 505.6,362.1C510.1,362.1 514.3,361.6 519,361.3C523.7,361 531.3,360.4 533.8,360.2C535.4,362.1 540.3,367.8 543.2,371.5C546.1,375.2 548.6,378.4 551.3,382.2C554,386 556.6,389.8 559.3,394.3C562,398.8 564.7,404.8 567.4,409.1C570.1,413.4 572.8,416.3 575.5,419.9C578.2,423.5 581.3,427 583.5,430.6C585.7,434.2 587.1,437.3 588.9,441.3C590.7,445.3 592.4,450.6 594.3,454.8C596.2,459 598.6,462.8 600.3,466.7C602,470.6 602.9,474.5 604.6,478.4C606.3,482.3 608.5,486.6 610.5,490C612.5,493.4 613.9,496.4 616.3,498.8C618.7,501.2 621.9,502.9 625.1,504.6C628.3,506.3 631.5,507.3 635.3,509C639.1,510.7 645.6,513.7 647.7,514.6C645.9,514.6 640.1,514.6 636.8,514.9C633.5,515.2 630.9,516.3 628,516.3C625.1,516.3 622.1,515.6 619.2,514.9C616.3,514.2 613.4,512.9 610.5,511.9C607.6,510.9 604.6,509.9 601.7,509C598.8,508.1 595.9,507.3 593,506.8C590.1,506.3 588.1,505.9 584.2,506.1C580.3,506.4 573.6,507.7 569.6,508.3C565.6,508.9 563,509.5 560.4,510C557.8,510.5 554.9,511.2 553.8,511.4C551.8,510.7 545.2,508.8 541.5,507.3C537.8,505.8 534.7,504.1 531.3,502.2C527.9,500.3 524.5,498.4 521.1,496C517.7,493.6 514.3,491.3 510.9,487.9C507.5,484.5 504.1,480 500.7,475.6C497.3,471.2 493,464.7 490.4,461.3C487.8,457.9 486.6,456.9 485,455C483.4,453.1 482.2,451.9 480.6,450C479,448.1 477.3,445.7 475.6,443.3C473.9,440.9 472.2,438.4 470.5,435.7C468.8,433 467.1,429.6 465.4,426.9C463.7,424.2 462.3,422.2 460.4,419.3C458.5,416.4 456.2,412.6 454.1,409.2C452,405.8 449.8,402.3 447.7,399.1C445.6,395.9 443.5,393.1 441.4,390.2C439.3,387.3 437.1,384.4 435.1,382C433.1,379.6 430.3,377.1 429.4,376.1Z" fill="#07fc28"/>
<polygon points="427.4,552.2 430.4,551.8 433.4,551.4 436.4,551 439.4,550.5 442.4,550.1 445.4,549.7 448.4,549.2 451.4,548.8 454.4,548.4 457.4,547.9 460.4,547.4 463.4,547 466.4,546.5 469.4,546.1 472.4,545.6 475.4,545.1 478.4,544.6 481.4,544.1 484.4,543.6 487.4,543 490.4,542.4 493.4,541.8 496.4,541.1 499.4,540.4 502.4,539.6 505.4,538.8 508.4,538 511.4,537.1 514.4,536 517.4,534.9 520.4,533.7 523.4,532.3 526.4,531 529.4,529.5 532.4,528 535.4,526.4 538.4,524.6 541.4,522.7 544.4,520.9 547.4,519.2 550.4,517.7 553.4,516.2 556.4,514.6 559.4,512.9 562.4,511 565.4,508.6 568.4,506 571.4,503.1 574.4,499.9 577.4,496.4 580.4,492.7 583.4,489.4 586.4,486.4 589.4,483.4 592.4,480.6 595.4,478 598.4,475.6 601.4,473.6 604.4,471.7 607.4,470 610.4,468.4 613.4,466.8 616.4,465.3 619.4,463.8 622.4,462.3 625.4,461 628.4,459.7 631.4,458.4 634.4,457.3 637.4,456.1 640.4,455.1 643.4,454 646.4,453.1 649.4,452.2 652.4,452 652.4,-50 427.4,-50" fill="#09fa0a"/>
<polygon points="427.4,544.7 430.4,544.2 433.4,543.7 436.4,543.2 439.4,542.7 442.4,542.2 445.4,541.6 448.4,541.1 451.4,540.5 454.4,539.9 457.4,539.3 460.4,538.7 463.4,538 466.4,537.3 469.4,536.6 472.4,535.8 475.4,535 478.4,534.2 481.4,533.4 484.4,532.6 487.4,531.9 490.4,531.2 493.4,530.5 496.4,529.8 499.4,529.1 502.4,528.4 505.4,527.6 508.4,526.8 511.4,525.8 514.4,524.6 517.4,523.3 520.4,521.8 523.4,520.3 526.4,518.7 529.4,517.1 532.4,515.5 535.4,513.8 538.4,512 541.4,510.2 544.4,508.4 547.4,506.7 550.4,505.2 553.4,503.7 556.4,502.1 559.4,500.4 562.4,498.5 565.4,496.1 568.4,493.4 571.4,490.6 574.4,487.5 577.4,484.1 580.4,480.7 583.4,477.6 586.4,474.8 589.4,472.1 592.4,469.6 595.4,467.2 598.4,465.1 601.4,463.1 604.4,461.4 607.4,459.7 610.4,458.2 613.4,456.7 616.4,455.4 619.4,454.1 622.4,452.8 625.4,451.7 628.4,450.6 631.4,449.5 634.4,448.5 637.4,447.5 640.4,446.6 643.4,445.7 646.4,444.9 649.4,444.1 652.4,444 652.4,-50 427.4,-50" fill="#19fa00"/>
<polygon points="427.4,537.1 430.4,536.6 433.4,536 436.4,535.4 439.4,534.7 442.4,534 445.4,533.3 448.4,532.5 451.4,531.8 454.4,530.9 457.4,530.1 460.4,529.3 463.4,528.3 466.4,527.2 469.4,526 472.4,524.8 475.4,523.6 478.4,522.3 481.4,521.1 484.4,519.9 487.4,518.9 490.4,518 493.4,517.2 496.4,516.5 499.4,515.9 502.4,515.2 505.4,514.5 508.4,513.6 511.4,512.6 514.4,511.4 517.4,510 520.4,508.5 523.4,506.9 526.4,505.4 529.4,503.9 532.4,502.5 535.4,501.1 538.4,499.7 541.4,498.3 544.4,497 547.4,495.6 550.4,494.4 553.4,493.2 556.4,492 559.4,490.7 562.4,489.2 565.4,487.3 568.4,485.2 571.4,483 574.4,480.6 577.4,478 580.4,475.4 583.4,473 586.4,470.7 589.4,468.4 592.4,466.1 595.4,464 598.4,462 601.4,460.2 604.4,458.4 607.4,456.8 610.4,455.2 613.4,453.7 616.4,452.4 619.4,451.1 622.4,449.8 625.4,448.7 628.4,447.6 631.4,446.5 634.4,445.5 637.4,444.5 640.4,443.6 643.4,442.7 646.4,441.9 649.4,441.1 652.4,441 652.4,-50 427.4,-50" fill="#30fb00"/>
<polygon points="427.4,529.6 430.4,529 433.4,528.3 436.4,527.5 439.4,526.7 442.4,525.9 445.4,525 448.4,524 451.4,523 454.4,522 457.4,520.9 460.4,519.9 463.4,518.6 466.4,517.1 469.4,515.5 472.4,513.8 475.4,512.1 478.4,510.4 481.4,508.8 484.4,507.3 487.4,506 490.4,504.9 493.4,504 496.4,503.3 499.4,502.6 502.4,502 505.4,501.3 508.4,500.5 511.4,499.5 514.4,498.3 517.4,496.8 520.4,495.2 523.4,493.6 526.4,492.1 529.4,490.7 532.4,489.5 535.4,488.4 538.4,487.4 541.4,486.5 544.4,485.5 547.4,484.6 550.4,483.7 553.4,482.8 556.4,481.9 559.4,481 562.4,479.8 565.4,478.5 568.4,476.9 571.4,475.3 574.4,473.7 577.4,472 580.4,470.2 583.4,468.4 586.4,466.5 589.4,464.6 592.4,462.7 595.4,460.8 598.4,458.9 601.4,457.2 604.4,455.5 607.4,453.8 610.4,452.2 613.4,450.7 616.4,449.4 619.4,448.1 622.4,446.8 625.4,445.7 628.4,444.6 631.4,443.5 634.4,442.5 637.4,441.5 640.4,440.6 643.4,439.7 646.4,438.9 649.4,438.1 652.4,438 652.4,-50 427.4,-50" fill="#46fc00"/>
<polygon points="427.4,522.1 430.4,521.5 433.4,520.9 436.4,520.2 439.4,519.4 442.4,518.5 445.4,517.6 448.4,516.6 451.4,515.6 454.4,514.6 457.4,513.5 460.4,512.3 463.4,511 466.4,509.5 469.4,507.8 472.4,506 475.4,504.2 478.4,502.3 481.4,500.6 484.4,499 487.4,497.5 490.4,496.4 493.4,495.4 496.4,494.6 499.4,493.8 502.4,493.1 505.4,492.4 508.4,491.5 511.4,490.5 514.4,489.3 517.4,488 520.4,486.6 523.4,485.2 526.4,483.8 529.4,482.6 532.4,481.5 535.4,480.5 538.4,479.6 541.4,478.8 544.4,477.9 547.4,477.1 550.4,476.4 553.4,475.7 556.4,475.1 559.4,474.3 562.4,473.4 565.4,472.1 568.4,470.7 571.4,469.3 574.4,468 577.4,466.8 580.4,465.6 583.4,464.3 586.4,462.7 589.4,460.9 592.4,458.8 595.4,456.8 598.4,454.9 601.4,453.3 604.4,451.8 607.4,450.4 610.4,449 613.4,447.7 616.4,446.4 619.4,445.1 622.4,443.9 625.4,442.7 628.4,441.6 631.4,440.5 634.4,439.5 637.4,438.5 640.4,437.6 643.4,436.7 646.4,435.9 649.4,435.1 652.4,435 652.4,-50 427.4,-50" fill="#5dfd00"/>
<polygon points="427.4,514.6 430.4,514.1 433.4,513.5 436.4,512.8 439.4,512 442.4,511.1 445.4,510.2 448.4,509.2 451.4,508.2 454.4,507.1 457.4,506 460.4,504.8 463.4,503.5 466.4,501.9 469.4,500.1 472.4,498.2 475.4,496.2 478.4,494.3 481.4,492.4 484.4,490.7 487.4,489.1 490.4,487.8 493.4,486.8 496.4,485.9 499.4,485 502.4,484.2 505.4,483.4 508.4,482.5 511.4,481.5 514.4,480.4 517.4,479.2 520.4,478 523.4,476.8 526.4,475.6 529.4,474.5 532.4,473.6 535.4,472.7 538.4,471.9 541.4,471.1 544.4,470.4 547.4,469.7 550.4,469.2 553.4,468.7 556.4,468.2 559.4,467.6 562.4,466.9 565.4,465.8 568.4,464.4 571.4,463.2 574.4,462.3 577.4,461.7 580.4,461 583.4,460.2 586.4,458.9 589.4,457.1 592.4,455 595.4,452.8 598.4,450.9 601.4,449.3 604.4,448 607.4,446.9 610.4,445.8 613.4,444.6 616.4,443.4 619.4,442.2 622.4,440.9 625.4,439.7 628.4,438.6 631.4,437.5 634.4,436.5 637.4,435.5 640.4,434.6 643.4,433.7 646.4,432.9 649.4,432.1 652.4,432 652.4,-50 427.4,-50" fill="#73fe00"/>
<polygon points="427.4,509.7 430.4,509.2 433.4,508.6 436.4,507.9 439.4,507.2 442.4,506.3 445.4,505.3 448.4,504.3 451.4,503.3 454.4,502.2 457.4,501 460.4,499.8 463.4,498.4 466.4,496.7 469.4,494.7 472.4,492.6 475.4,490.4 478.4,488.2 481.4,486.1 484.4,484.2 487.4,482.6 490.4,481.4 493.4,480.4 496.4,479.5 499.4,478.8 502.4,478 505.4,477.3 508.4,476.5 511.4,475.6 514.4,474.5 517.4,473.4 520.4,472.3 523.4,471.1 526.4,470 529.4,469 532.4,468.1 535.4,467.2 538.4,466.4 541.4,465.6 544.4,464.9 547.4,464.2 550.4,463.6 553.4,463 556.4,462.4 559.4,461.7 562.4,460.9 565.4,459.8 568.4,458.4 571.4,457.2 574.4,456.3 577.4,455.4 580.4,454.6 583.4,453.7 586.4,452.5 589.4,451.1 592.4,449.5 595.4,447.8 598.4,446.2 601.4,444.9 604.4,443.6 607.4,442.4 610.4,441.3 613.4,440.1 616.4,439 619.4,437.8 622.4,436.7 625.4,435.6 628.4,434.5 631.4,433.6 634.4,432.6 637.4,431.8 640.4,430.9 643.4,430.1 646.4,429.3 649.4,428.6 652.4,428.5 652.4,-50 427.4,-50" fill="#8afe00"/>
<polygon points="427.4,504.8 430.4,504.3 433.4,503.8 436.4,503.1 439.4,502.3 442.4,501.4 445.4,500.5 448.4,499.5 451.4,498.4 454.4,497.2 457.4,496 460.4,494.8 463.4,493.3 466.4,491.4 469.4,489.3 472.4,486.9 475.4,484.5 478.4,482.1 481.4,479.8 484.4,477.8 487.4,476.1 490.4,474.9 493.4,473.9 496.4,473.1 499.4,472.5 502.4,471.8 505.4,471.2 508.4,470.4 511.4,469.6 514.4,468.6 517.4,467.6 520.4,466.6 523.4,465.5 526.4,464.5 529.4,463.5 532.4,462.6 535.4,461.8 538.4,461 541.4,460.2 544.4,459.4 547.4,458.6 550.4,457.9 553.4,457.2 556.4,456.5 559.4,455.8 562.4,454.9 565.4,453.7 568.4,452.5 571.4,451.2 574.4,450.2 577.4,449.2 580.4,448.2 583.4,447.2 586.4,446.1 589.4,445 592.4,443.9 595.4,442.8 598.4,441.6 601.4,440.5 604.4,439.2 607.4,438 610.4,436.8 613.4,435.6 616.4,434.5 619.4,433.4 622.4,432.4 625.4,431.4 628.4,430.5 631.4,429.6 634.4,428.8 637.4,428 640.4,427.2 643.4,426.5 646.4,425.8 649.4,425.1 652.4,425 652.4,-50 427.4,-50" fill="#a0ff00"/>
<polygon points="427.4,500.8 430.4,500.1 433.4,499.4 436.4,498.5 439.4,497.6 442.4,496.6 445.4,495.6 448.4,494.5 451.4,493.4 454.4,492.2 457.4,491 460.4,489.8 463.4,488.4 466.4,486.7 469.4,484.7 472.4,482.7 475.4,480.6 478.4,478.5 481.4,476.5 484.4,474.7 487.4,473.3 490.4,472.1 493.4,471.2 496.4,470.5 499.4,469.8 502.4,469.2 505.4,468.6 508.4,467.9 511.4,467.1 514.4,466.3 517.4,465.4 520.4,464.5 523.4,463.5 526.4,462.6 529.4,461.7 532.4,460.9 535.4,460 538.4,459.1 541.4,458.3 544.4,457.4 547.4,456.6 550.4,455.9 553.4,455.1 556.4,454.4 559.4,453.5 562.4,452.6 565.4,451.5 568.4,450.2 571.4,449 574.4,447.9 577.4,446.9 580.4,446 583.4,445 586.4,443.9 589.4,442.8 592.4,441.7 595.4,440.5 598.4,439.4 601.4,438.2 604.4,437 607.4,435.7 610.4,434.5 613.4,433.3 616.4,432.2 619.4,431.2 622.4,430.1 625.4,429.2 628.4,428.2 631.4,427.4 634.4,426.5 637.4,425.7 640.4,424.9 643.4,424.2 646.4,423.5 649.4,422.9 652.4,422.8 652.4,-50 427.4,-50" fill="#b2ff00"/>
<polygon points="427.4,496.8 430.4,495.9 433.4,495 436.4,494 439.4,492.9 442.4,491.8 445.4,490.7 448.4,489.6 451.4,488.4 454.4,487.2 457.4,486 460.4,484.8 463.4,483.5 466.4,481.9 469.4,480.2 472.4,478.5 475.4,476.7 478.4,474.9 481.4,473.2 484.4,471.7 487.4,470.4 490.4,469.4 493.4,468.6 496.4,467.8 499.4,467.2 502.4,466.6 505.4,466 508.4,465.4 511.4,464.7 514.4,463.9 517.4,463.1 520.4,462.4 523.4,461.6 526.4,460.7 529.4,459.9 532.4,459.1 535.4,458.2 538.4,457.3 541.4,456.4 544.4,455.5 547.4,454.6 550.4,453.8 553.4,453 556.4,452.2 559.4,451.3 562.4,450.4 565.4,449.2 568.4,447.9 571.4,446.7 574.4,445.7 577.4,444.7 580.4,443.7 583.4,442.7 586.4,441.6 589.4,440.5 592.4,439.4 595.4,438.3 598.4,437.1 601.4,436 604.4,434.7 607.4,433.5 610.4,432.3 613.4,431.1 616.4,430 619.4,428.9 622.4,427.9 625.4,426.9 628.4,426 631.4,425.1 634.4,424.3 637.4,423.5 640.4,422.7 643.4,422 646.4,421.3 649.4,420.6 652.4,420.5 652.4,-50 427.4,-50" fill="#c4ff00"/>
<polygon points="427.4,492.9 430.4,491.7 433.4,490.6 436.4,489.4 439.4,488.2 442.4,487 445.4,485.8 448.4,484.6 451.4,483.4 454.4,482.2 457.4,481 460.4,479.8 463.4,478.6 466.4,477.2 469.4,475.7 472.4,474.2 475.4,472.7 478.4,471.3 481.4,469.9 484.4,468.7 487.4,467.6 490.4,466.6 493.4,465.9 496.4,465.2 499.4,464.6 502.4,464 505.4,463.4 508.4,462.8 511.4,462.2 514.4,461.6 517.4,460.9 520.4,460.3 523.4,459.6 526.4,458.9 529.4,458.2 532.4,457.4 535.4,456.5 538.4,455.5 541.4,454.5 544.4,453.5 547.4,452.6 550.4,451.7 553.4,450.9 556.4,450 559.4,449.1 562.4,448.1 565.4,446.9 568.4,445.7 571.4,444.5 574.4,443.4 577.4,442.4 580.4,441.5 583.4,440.5 586.4,439.4 589.4,438.3 592.4,437.2 595.4,436 598.4,434.9 601.4,433.7 604.4,432.5 607.4,431.2 610.4,430 613.4,428.8 616.4,427.7 619.4,426.7 622.4,425.6 625.4,424.7 628.4,423.7 631.4,422.9 634.4,422 637.4,421.2 640.4,420.4 643.4,419.7 646.4,419 649.4,418.4 652.4,418.2 652.4,-50 427.4,-50" fill="#d5ff00"/>
<polygon points="427.4,488.9 430.4,487.5 433.4,486.2 436.4,484.9 439.4,483.5 442.4,482.2 445.4,481 448.4,479.7 451.4,478.5 454.4,477.2 457.4,476 460.4,474.8 463.4,473.6 466.4,472.4 469.4,471.2 472.4,470 475.4,468.8 478.4,467.7 481.4,466.6 484.4,465.6 487.4,464.7 490.4,463.9 493.4,463.2 496.4,462.6 499.4,462 502.4,461.4 505.4,460.9 508.4,460.3 511.4,459.7 514.4,459.2 517.4,458.7 520.4,458.2 523.4,457.6 526.4,457 529.4,456.4 532.4,455.6 535.4,454.7 538.4,453.7 541.4,452.6 544.4,451.5 547.4,450.6 550.4,449.6 553.4,448.7 556.4,447.8 559.4,446.9 562.4,445.9 565.4,444.7 568.4,443.4 571.4,442.2 574.4,441.2 577.4,440.2 580.4,439.2 583.4,438.2 586.4,437.1 589.4,436 592.4,434.9 595.4,433.8 598.4,432.6 601.4,431.5 604.4,430.2 607.4,429 610.4,427.8 613.4,426.6 616.4,425.5 619.4,424.4 622.4,423.4 625.4,422.4 628.4,421.5 631.4,420.6 634.4,419.8 637.4,419 640.4,418.2 643.4,417.5 646.4,416.8 649.4,416.1 652.4,416 652.4,-50 427.4,-50" fill="#e7ff00"/>
<polygon points="427.4,477.8 430.4,476.6 433.4,475.4 436.4,474.2 439.4,473 442.4,471.8 445.4,470.7 448.4,469.5 451.4,468.4 454.4,467.3 457.4,466.2 460.4,465.1 463.4,464 466.4,462.9 469.4,461.8 472.4,460.6 475.4,459.6 478.4,458.5 481.4,457.5 484.4,456.5 487.4,455.7 490.4,454.9 493.4,454.2 496.4,453.6 499.4,453 502.4,452.4 505.4,451.9 508.4,451.3 511.4,450.7 514.4,450.2 517.4,449.6 520.4,449.1 523.4,448.6 526.4,448 529.4,447.4 532.4,446.7 535.4,445.9 538.4,445 541.4,444.1 544.4,443.2 547.4,442.3 550.4,441.4 553.4,440.5 556.4,439.5 559.4,438.6 562.4,437.6 565.4,436.6 568.4,435.6 571.4,434.7 574.4,433.8 577.4,433 580.4,432.2 583.4,431.4 586.4,430.5 589.4,429.6 592.4,428.6 595.4,427.6 598.4,426.5 601.4,425.5 604.4,424.5 607.4,423.4 610.4,422.4 613.4,421.3 616.4,420.3 619.4,419.2 622.4,418.2 625.4,417.2 628.4,416.2 631.4,415.4 634.4,414.5 637.4,413.7 640.4,412.9 643.4,412.2 646.4,411.5 649.4,410.9 652.4,410.7 652.4,-50 427.4,-50" fill="#f9ff00"/>
<polygon points="427.4,469.2 430.4,468.2 433.4,467.2 436.4,466.2 439.4,465.2 442.4,464.2 445.4,463.2 448.4,462.3 451.4,461.3 454.4,460.3 457.4,459.3 460.4,458.4 463.4,457.4 466.4,456.3 469.4,455.3 472.4,454.3 475.4,453.2 478.4,452.2 481.4,451.3 484.4,450.4 487.4,449.6 490.4,448.9 493.4,448.3 496.4,447.8 499.4,447.2 502.4,446.8 505.4,446.3 508.4,445.8 511.4,445.2 514.4,444.7 517.4,444.2 520.4,443.7 523.4,443.1 526.4,442.5 529.4,441.9 532.4,441.1 535.4,440.2 538.4,439.2 541.4,438.1 544.4,437.1 547.4,436 550.4,435 553.4,433.9 556.4,432.9 559.4,431.8 562.4,430.9 565.4,429.9 568.4,429.1 571.4,428.2 574.4,427.3 577.4,426.4 580.4,425.6 583.4,424.7 586.4,423.8 589.4,422.9 592.4,421.9 595.4,421 598.4,420 601.4,419 604.4,418.1 607.4,417.1 610.4,416 613.4,415 616.4,414 619.4,413 622.4,411.9 625.4,410.9 628.4,410 631.4,409.1 634.4,408.3 637.4,407.5 640.4,406.7 643.4,406 646.4,405.3 649.4,404.6 652.4,404.5 652.4,-50 427.4,-50" fill="#fff400"/>
<polygon points="427.4,463.1 430.4,462.2 433.4,461.4 436.4,460.5 439.4,459.7 442.4,458.8 445.4,458 448.4,457.1 451.4,456.2 454.4,455.4 457.4,454.5 460.4,453.6 463.4,452.7 466.4,451.8 469.4,450.8 472.4,449.8 475.4,448.8 478.4,447.9 481.4,447 484.4,446.2 487.4,445.4 490.4,444.8 493.4,444.2 496.4,443.8 499.4,443.3 502.4,442.9 505.4,442.5 508.4,442 511.4,441.5 514.4,441 517.4,440.5 520.4,440 523.4,439.5 526.4,438.8 529.4,438.2 532.4,437.3 535.4,436.3 538.4,435 541.4,433.7 544.4,432.4 547.4,431.2 550.4,430.1 553.4,428.9 556.4,427.8 559.4,426.8 562.4,425.7 565.4,424.8 568.4,423.9 571.4,423.1 574.4,422.1 577.4,421.1 580.4,420.2 583.4,419.2 586.4,418.2 589.4,417.3 592.4,416.4 595.4,415.5 598.4,414.5 601.4,413.5 604.4,412.6 607.4,411.6 610.4,410.5 613.4,409.5 616.4,408.5 619.4,407.5 622.4,406.4 625.4,405.4 628.4,404.5 631.4,403.6 634.4,402.8 637.4,402 640.4,401.2 643.4,400.5 646.4,399.8 649.4,399.1 652.4,399 652.4,-50 427.4,-50" fill="#ffe400"/>
<polygon points="427.4,459.3 430.4,458.5 433.4,457.6 436.4,456.7 439.4,455.9 442.4,455 445.4,454.2 448.4,453.3 451.4,452.4 454.4,451.6 457.4,450.7 460.4,449.9 463.4,449 466.4,448.1 469.4,447.2 472.4,446.3 475.4,445.4 478.4,444.5 481.4,443.6 484.4,442.8 487.4,442.1 490.4,441.4 493.4,440.8 496.4,440.3 499.4,439.8 502.4,439.3 505.4,438.8 508.4,438.3 511.4,437.8 514.4,437.2 517.4,436.7 520.4,436.2 523.4,435.7 526.4,435.1 529.4,434.4 532.4,433.6 535.4,432.5 538.4,431.2 541.4,429.9 544.4,428.6 547.4,427.5 550.4,426.4 553.4,425.4 556.4,424.3 559.4,423.3 562.4,422.4 565.4,421.4 568.4,420.6 571.4,419.7 574.4,418.8 577.4,417.9 580.4,417.1 583.4,416.2 586.4,415.3 589.4,414.4 592.4,413.4 595.4,412.5 598.4,411.5 601.4,410.5 604.4,409.6 607.4,408.6 610.4,407.5 613.4,406.5 616.4,405.5 619.4,404.5 622.4,403.4 625.4,402.4 628.4,401.5 631.4,400.6 634.4,399.8 637.4,399 640.4,398.2 643.4,397.5 646.4,396.8 649.4,396.1 652.4,396 652.4,-50 427.4,-50" fill="#ffd400"/>
<polygon points="427.4,455.5 430.4,454.7 433.4,453.8 436.4,452.9 439.4,452.1 442.4,451.2 445.4,450.4 448.4,449.5 451.4,448.7 454.4,447.8 457.4,447 460.4,446.1 463.4,445.3 466.4,444.4 469.4,443.6 472.4,442.7 475.4,441.9 478.4,441 481.4,440.2 484.4,439.5 487.4,438.7 490.4,438 493.4,437.4 496.4,436.8 499.4,436.2 502.4,435.7 505.4,435.1 508.4,434.6 511.4,434 514.4,433.5 517.4,433 520.4,432.5 523.4,431.9 526.4,431.3 529.4,430.7 532.4,429.8 535.4,428.8 538.4,427.5 541.4,426.1 544.4,424.9 547.4,423.8 550.4,422.7 553.4,421.8 556.4,420.8 559.4,419.9 562.4,419 565.4,418.1 568.4,417.2 571.4,416.3 574.4,415.5 577.4,414.7 580.4,414 583.4,413.2 586.4,412.3 589.4,411.4 592.4,410.5 595.4,409.5 598.4,408.5 601.4,407.5 604.4,406.6 607.4,405.6 610.4,404.5 613.4,403.5 616.4,402.5 619.4,401.5 622.4,400.4 625.4,399.4 628.4,398.5 631.4,397.6 634.4,396.8 637.4,396 640.4,395.2 643.4,394.5 646.4,393.8 649.4,393.1 652.4,393 652.4,-50 427.4,-50" fill="#ffc500"/>
<polygon points="427.4,452.2 430.4,451.2 433.4,450.3 436.4,449.3 439.4,448.4 442.4,447.4 445.4,446.5 448.4,445.6 451.4,444.8 454.4,443.9 457.4,443.1 460.4,442.3 463.4,441.5 466.4,440.7 469.4,439.9 472.4,439.2 475.4,438.4 478.4,437.7 481.4,437 484.4,436.3 487.4,435.6 490.4,434.9 493.4,434.3 496.4,433.7 499.4,433.1 502.4,432.5 505.4,431.9 508.4,431.3 511.4,430.7 514.4,430.2 517.4,429.7 520.4,429.2 523.4,428.7 526.4,428.1 529.4,427.4 532.4,426.6 535.4,425.5 538.4,424.1 541.4,422.7 544.4,421.4 547.4,420.3 550.4,419.3 553.4,418.3 556.4,417.3 559.4,416.4 562.4,415.5 565.4,414.5 568.4,413.6 571.4,412.8 574.4,412 577.4,411.2 580.4,410.5 583.4,409.8 586.4,408.9 589.4,408 592.4,407.1 595.4,406.1 598.4,405.1 601.4,404.1 604.4,403.2 607.4,402.2 610.4,401.1 613.4,400.1 616.4,399.1 619.4,398.1 622.4,397 625.4,396 628.4,395.1 631.4,394.2 634.4,393.4 637.4,392.6 640.4,391.8 643.4,391.1 646.4,390.4 649.4,389.7 652.4,389.6 652.4,-50 427.4,-50" fill="#ffb500"/>
<polygon points="427.4,449.1 430.4,447.9 433.4,446.8 436.4,445.7 439.4,444.7 442.4,443.7 445.4,442.7 448.4,441.8 451.4,440.9 454.4,440 457.4,439.2 460.4,438.4 463.4,437.7 466.4,437 469.4,436.3 472.4,435.6 475.4,435 478.4,434.4 481.4,433.7 484.4,433.1 487.4,432.5 490.4,431.9 493.4,431.3 496.4,430.7 499.4,430.1 502.4,429.5 505.4,428.9 508.4,428.3 511.4,427.7 514.4,427.2 517.4,426.7 520.4,426.2 523.4,425.7 526.4,425.1 529.4,424.4 532.4,423.6 535.4,422.4 538.4,421 541.4,419.5 544.4,418.2 547.4,417 550.4,415.9 553.4,414.8 556.4,413.8 559.4,412.8 562.4,411.9 565.4,410.9 568.4,410 571.4,409.2 574.4,408.4 577.4,407.6 580.4,406.9 583.4,406.2 586.4,405.3 589.4,404.4 592.4,403.5 595.4,402.5 598.4,401.5 601.4,400.5 604.4,399.6 607.4,398.6 610.4,397.5 613.4,396.5 616.4,395.5 619.4,394.5 622.4,393.4 625.4,392.4 628.4,391.5 631.4,390.6 634.4,389.8 637.4,389 640.4,388.2 643.4,387.5 646.4,386.8 649.4,386.1 652.4,386 652.4,-50 427.4,-50" fill="#ffa400"/>
<polygon points="427.4,445.9 430.4,444.7 433.4,443.4 436.4,442.2 439.4,441 442.4,439.9 445.4,438.9 448.4,437.9 451.4,436.9 454.4,436.1 457.4,435.2 460.4,434.5 463.4,433.8 466.4,433.2 469.4,432.6 472.4,432.1 475.4,431.6 478.4,431 481.4,430.5 484.4,430 487.4,429.5 490.4,428.9 493.4,428.3 496.4,427.7 499.4,427.1 502.4,426.5 505.4,425.9 508.4,425.3 511.4,424.7 514.4,424.2 517.4,423.7 520.4,423.2 523.4,422.7 526.4,422.1 529.4,421.4 532.4,420.6 535.4,419.4 538.4,417.9 541.4,416.3 544.4,414.9 547.4,413.6 550.4,412.5 553.4,411.4 556.4,410.3 559.4,409.3 562.4,408.3 565.4,407.3 568.4,406.4 571.4,405.6 574.4,404.8 577.4,404 580.4,403.3 583.4,402.6 586.4,401.7 589.4,400.8 592.4,399.9 595.4,398.9 598.4,397.9 601.4,396.9 604.4,396 607.4,395 610.4,393.9 613.4,392.9 616.4,391.9 619.4,390.9 622.4,389.8 625.4,388.8 628.4,387.9 631.4,387 634.4,386.2 637.4,385.4 640.4,384.6 643.4,383.9 646.4,383.2 649.4,382.5 652.4,382.4 652.4,-50 427.4,-50" fill="#ff9300"/>
<polygon points="427.4,442.8 430.4,441.5 433.4,440.2 436.4,438.9 439.4,437.8 442.4,436.6 445.4,435.5 448.4,434.5 451.4,433.6 454.4,432.7 457.4,431.9 460.4,431.2 463.4,430.6 466.4,430.1 469.4,429.5 472.4,429.1 475.4,428.6 478.4,428.2 481.4,427.7 484.4,427.3 487.4,426.8 490.4,426.3 493.4,425.7 496.4,425.1 499.4,424.5 502.4,423.8 505.4,423.2 508.4,422.6 511.4,422 514.4,421.4 517.4,420.9 520.4,420.4 523.4,419.9 526.4,419.3 529.4,418.6 532.4,417.7 535.4,416.5 538.4,415 541.4,413.4 544.4,412 547.4,410.7 550.4,409.5 553.4,408.3 556.4,407.3 559.4,406.2 562.4,405.2 565.4,404.3 568.4,403.4 571.4,402.5 574.4,401.7 577.4,401 580.4,400.3 583.4,399.5 586.4,398.6 589.4,397.7 592.4,396.8 595.4,395.8 598.4,394.9 601.4,393.9 604.4,392.9 607.4,391.9 610.4,390.9 613.4,389.9 616.4,388.9 619.4,387.8 622.4,386.8 625.4,385.8 628.4,384.8 631.4,383.9 634.4,383.1 637.4,382.3 640.4,381.5 643.4,380.8 646.4,380.1 649.4,379.5 652.4,379.3 652.4,-50 427.4,-50" fill="#ff8100"/>
<polygon points="427.4,439.7 430.4,438.5 433.4,437.4 436.4,436.3 439.4,435.2 442.4,434.2 445.4,433.2 448.4,432.3 451.4,431.5 454.4,430.7 457.4,429.9 460.4,429.2 463.4,428.6 466.4,428.1 469.4,427.6 472.4,427.1 475.4,426.7 478.4,426.2 481.4,425.8 484.4,425.3 487.4,424.8 490.4,424.3 493.4,423.7 496.4,423 499.4,422.4 502.4,421.7 505.4,421 508.4,420.3 511.4,419.7 514.4,419.1 517.4,418.6 520.4,418 523.4,417.5 526.4,416.8 529.4,416.1 532.4,415.2 535.4,414 538.4,412.6 541.4,411.1 544.4,409.7 547.4,408.5 550.4,407.3 553.4,406.2 556.4,405.2 559.4,404.2 562.4,403.2 565.4,402.3 568.4,401.4 571.4,400.5 574.4,399.7 577.4,399 580.4,398.3 583.4,397.5 586.4,396.6 589.4,395.7 592.4,394.8 595.4,393.8 598.4,392.9 601.4,391.9 604.4,390.9 607.4,389.9 610.4,388.9 613.4,387.9 616.4,386.9 619.4,385.8 622.4,384.8 625.4,383.8 628.4,382.8 631.4,381.9 634.4,381.1 637.4,380.3 640.4,379.5 643.4,378.8 646.4,378.1 649.4,377.5 652.4,377.3 652.4,-50 427.4,-50" fill="#ff7000"/>
<polygon points="427.4,436.6 430.4,435.6 433.4,434.6 436.4,433.6 439.4,432.7 442.4,431.8 445.4,430.9 448.4,430.1 451.4,429.3 454.4,428.6 457.4,427.9 460.4,427.3 463.4,426.7 466.4,426.1 469.4,425.6 472.4,425.2 475.4,424.7 478.4,424.3 481.4,423.8 484.4,423.3 487.4,422.8 490.4,422.3 493.4,421.6 496.4,421 499.4,420.3 502.4,419.5 505.4,418.8 508.4,418.1 511.4,417.4 514.4,416.8 517.4,416.2 520.4,415.7 523.4,415 526.4,414.4 529.4,413.6 532.4,412.7 535.4,411.5 538.4,410.2 541.4,408.7 544.4,407.4 547.4,406.2 550.4,405.1 553.4,404.1 556.4,403.1 559.4,402.2 562.4,401.2 565.4,400.3 568.4,399.4 571.4,398.5 574.4,397.7 577.4,397 580.4,396.3 583.4,395.5 586.4,394.6 589.4,393.7 592.4,392.8 595.4,391.8 598.4,390.9 601.4,389.9 604.4,388.9 607.4,387.9 610.4,386.9 613.4,385.9 616.4,384.9 619.4,383.8 622.4,382.8 625.4,381.8 628.4,380.8 631.4,379.9 634.4,379.1 637.4,378.3 640.4,377.5 643.4,376.8 646.4,376.1 649.4,375.5 652.4,375.3 652.4,-50 427.4,-50" fill="#ff5d00"/>
<polygon points="427.4,433.5 430.4,432.6 433.4,431.7 436.4,430.9 439.4,430.1 442.4,429.3 445.4,428.6 448.4,427.9 451.4,427.2 454.4,426.5 457.4,425.9 460.4,425.3 463.4,424.7 466.4,424.2 469.4,423.7 472.4,423.2 475.4,422.8 478.4,422.3 481.4,421.9 484.4,421.4 487.4,420.8 490.4,420.3 493.4,419.6 496.4,418.9 499.4,418.2 502.4,417.4 505.4,416.6 508.4,415.9 511.4,415.2 514.4,414.5 517.4,413.9 520.4,413.3 523.4,412.6 526.4,411.9 529.4,411.1 532.4,410.2 535.4,409.1 538.4,407.7 541.4,406.4 544.4,405.1 547.4,404 550.4,403 553.4,402 556.4,401.1 559.4,400.1 562.4,399.2 565.4,398.3 568.4,397.4 571.4,396.5 574.4,395.7 577.4,395 580.4,394.3 583.4,393.5 586.4,392.6 589.4,391.7 592.4,390.8 595.4,389.8 598.4,388.9 601.4,387.9 604.4,386.9 607.4,385.9 610.4,384.9 613.4,383.9 616.4,382.9 619.4,381.8 622.4,380.8 625.4,379.8 628.4,378.8 631.4,377.9 634.4,377.1 637.4,376.3 640.4,375.5 643.4,374.8 646.4,374.1 649.4,373.5 652.4,373.3 652.4,-50 427.4,-50" fill="#ff4700"/>
<polygon points="427.4,430.5 430.4,429.8 433.4,429.1 436.4,428.4 439.4,427.7 442.4,427 445.4,426.3 448.4,425.7 451.4,425.1 454.4,424.5 457.4,423.9 460.4,423.3 463.4,422.8 466.4,422.3 469.4,421.8 472.4,421.3 475.4,420.9 478.4,420.4 481.4,419.9 484.4,419.4 487.4,418.9 490.4,418.3 493.4,417.6 496.4,416.9 499.4,416.1 502.4,415.3 505.4,414.5 508.4,413.8 511.4,413 514.4,412.4 517.4,411.7 520.4,411.1 523.4,410.4 526.4,409.6 529.4,408.8 532.4,407.9 535.4,406.8 538.4,405.5 541.4,404.2 544.4,403 547.4,401.9 550.4,400.9 553.4,399.9 556.4,399 559.4,398 562.4,397.1 565.4,396.2 568.4,395.3 571.4,394.4 574.4,393.6 577.4,392.9 580.4,392.2 583.4,391.4 586.4,390.6 589.4,389.7 592.4,388.7 595.4,387.7 598.4,386.8 601.4,385.8 604.4,384.8 607.4,383.8 610.4,382.8 613.4,381.8 616.4,380.8 619.4,379.7 622.4,378.7 625.4,377.7 628.4,376.7 631.4,375.9 634.4,375 637.4,374.2 640.4,373.4 643.4,372.7 646.4,372 649.4,371.4 652.4,371.2 652.4,-50 427.4,-50" fill="#ff3200"/>
<polygon points="427.4,428 430.4,427.3 433.4,426.7 436.4,426.1 439.4,425.5 442.4,424.9 445.4,424.3 448.4,423.7 451.4,423.1 454.4,422.5 457.4,422 460.4,421.4 463.4,420.9 466.4,420.4 469.4,419.9 472.4,419.5 475.4,419 478.4,418.6 481.4,418.1 484.4,417.6 487.4,417 490.4,416.4 493.4,415.8 496.4,415 499.4,414.3 502.4,413.5 505.4,412.7 508.4,411.9 511.4,411.2 514.4,410.5 517.4,409.8 520.4,409.2 523.4,408.5 526.4,407.8 529.4,407 532.4,406 535.4,404.9 538.4,403.7 541.4,402.4 544.4,401.1 547.4,400 550.4,398.9 553.4,397.9 556.4,396.8 559.4,395.8 562.4,394.9 565.4,393.9 568.4,393 571.4,392.2 574.4,391.4 577.4,390.6 580.4,389.9 583.4,389.2 586.4,388.3 589.4,387.4 592.4,386.5 595.4,385.5 598.4,384.5 601.4,383.5 604.4,382.6 607.4,381.6 610.4,380.5 613.4,379.5 616.4,378.5 619.4,377.5 622.4,376.4 625.4,375.4 628.4,374.5 631.4,373.6 634.4,372.8 637.4,372 640.4,371.2 643.4,370.5 646.4,369.8 649.4,369.1 652.4,369 652.4,-50 427.4,-50" fill="#ff1d00"/>
<polygon points="427.4,425.4 430.4,424.9 433.4,424.3 436.4,423.8 439.4,423.2 442.4,422.7 445.4,422.2 448.4,421.6 451.4,421.1 454.4,420.6 457.4,420.1 460.4,419.6 463.4,419.1 466.4,418.6 469.4,418.1 472.4,417.6 475.4,417.2 478.4,416.7 481.4,416.2 484.4,415.7 487.4,415.1 490.4,414.5 493.4,413.9 496.4,413.2 499.4,412.4 502.4,411.6 505.4,410.8 508.4,410 511.4,409.3 514.4,408.6 517.4,408 520.4,407.3 523.4,406.6 526.4,405.9 529.4,405.1 532.4,404.2 535.4,403.1 538.4,401.8 541.4,400.5 544.4,399.3 547.4,398.1 550.4,396.9 553.4,395.8 556.4,394.7 559.4,393.6 562.4,392.6 565.4,391.7 568.4,390.8 571.4,389.9 574.4,389.1 577.4,388.4 580.4,387.7 583.4,386.9 586.4,386.1 589.4,385.2 592.4,384.2 595.4,383.2 598.4,382.3 601.4,381.3 604.4,380.3 607.4,379.3 610.4,378.3 613.4,377.3 616.4,376.3 619.4,375.2 622.4,374.2 625.4,373.2 628.4,372.2 631.4,371.4 634.4,370.5 637.4,369.7 640.4,368.9 643.4,368.2 646.4,367.5 649.4,366.9 652.4,366.7 652.4,-50 427.4,-50" fill="#ff0700"/>
<polygon points="427.4,394.3 430.4,393.4 433.4,392.5 436.4,391.7 439.4,390.8 442.4,389.9 445.4,389.1 448.4,388.2 451.4,387.4 454.4,386.6 457.4,385.7 460.4,384.9 463.4,384.1 466.4,383.2 469.4,382.4 472.4,381.6 475.4,380.8 478.4,380 481.4,379.2 484.4,378.5 487.4,377.7 490.4,376.9 493.4,376.1 496.4,375.3 499.4,374.6 502.4,373.8 505.4,373.1 508.4,372.4 511.4,371.7 514.4,371.1 517.4,370.6 520.4,370.1 523.4,369.6 526.4,369.1 529.4,368.4 532.4,367.6 535.4,366.6 538.4,365.3 541.4,364 544.4,362.7 547.4,361.4 550.4,360 553.4,358.6 556.4,357.3 559.4,356 562.4,354.9 565.4,353.9 568.4,353 571.4,352.2 574.4,351.4 577.4,350.6 580.4,349.9 583.4,349.2 586.4,348.3 589.4,347.4 592.4,346.5 595.4,345.5 598.4,344.5 601.4,343.5 604.4,342.6 607.4,341.6 610.4,340.5 613.4,339.5 616.4,338.5 619.4,337.5 622.4,336.4 625.4,335.4 628.4,334.5 631.4,333.6 634.4,332.8 637.4,332 640.4,331.2 643.4,330.5 646.4,329.8 649.4,329.1 652.4,329 652.4,-50 427.4,-50" fill="#f60000"/>
<polygon points="427.4,387.9 430.4,386.9 433.4,386 436.4,385.1 439.4,384.2 442.4,383.3 445.4,382.4 448.4,381.6 451.4,380.8 454.4,380 457.4,379.3 460.4,378.5 463.4,377.8 466.4,377.1 469.4,376.5 472.4,375.8 475.4,375.2 478.4,374.5 481.4,373.9 484.4,373.3 487.4,372.7 490.4,372 493.4,371.4 496.4,370.8 499.4,370.3 502.4,369.7 505.4,369.1 508.4,368.5 511.4,368 514.4,367.5 517.4,367 520.4,366.5 523.4,366 526.4,365.4 529.4,364.7 532.4,363.8 535.4,362.7 538.4,361.2 541.4,359.7 544.4,358.2 547.4,356.9 550.4,355.5 553.4,354.1 556.4,352.7 559.4,351.5 562.4,350.4 565.4,349.4 568.4,348.5 571.4,347.7 574.4,346.9 577.4,346.1 580.4,345.4 583.4,344.7 586.4,343.8 589.4,342.9 592.4,342 595.4,341 598.4,340 601.4,339 604.4,338.1 607.4,337.1 610.4,336 613.4,335 616.4,334 619.4,333 622.4,331.9 625.4,330.9 628.4,330 631.4,329.1 634.4,328.3 637.4,327.5 640.4,326.7 643.4,326 646.4,325.3 649.4,324.6 652.4,324.5 652.4,-50 427.4,-50" fill="#e90000"/>
<polygon points="427.4,381.4 430.4,380.4 433.4,379.4 436.4,378.5 439.4,377.5 442.4,376.6 445.4,375.8 448.4,375 451.4,374.2 454.4,373.5 457.4,372.8 460.4,372.2 463.4,371.6 466.4,371 469.4,370.5 472.4,370 475.4,369.5 478.4,369 481.4,368.5 484.4,368.1 487.4,367.6 490.4,367.2 493.4,366.8 496.4,366.4 499.4,366 502.4,365.6 505.4,365.2 508.4,364.7 511.4,364.3 514.4,363.8 517.4,363.4 520.4,362.9 523.4,362.3 526.4,361.7 529.4,360.9 532.4,360 535.4,358.7 538.4,357.1 541.4,355.4 544.4,353.8 547.4,352.3 550.4,350.9 553.4,349.5 556.4,348.2 559.4,347 562.4,345.9 565.4,344.9 568.4,344 571.4,343.2 574.4,342.4 577.4,341.6 580.4,340.9 583.4,340.2 586.4,339.3 589.4,338.4 592.4,337.5 595.4,336.5 598.4,335.5 601.4,334.5 604.4,333.6 607.4,332.6 610.4,331.5 613.4,330.5 616.4,329.5 619.4,328.5 622.4,327.4 625.4,326.4 628.4,325.5 631.4,324.6 634.4,323.8 637.4,323 640.4,322.2 643.4,321.5 646.4,320.8 649.4,320.1 652.4,320 652.4,-50 427.4,-50" fill="#dc0000"/>
</g></g>
<g clip-path="url(#c3)"><path d="M425,427.4C430.8,426.3 449.2,422.7 460,420.8C470.8,418.8 481.7,417.4 490,415.8C498.3,414.1 503.2,412.4 510,410.8C516.8,409.1 525,407.6 531,405.8C537,403.9 540.8,401.7 546,399.8C551.2,397.8 557.7,395.5 562,394.1C566.3,392.7 568.3,392.1 572,391.1C575.7,390.1 579.3,389.4 584,388.1C588.7,386.8 594.8,384.8 600,383.1C605.2,381.4 610,379.8 615,378.1C620,376.4 624.2,374.8 630,373.1C635.8,371.4 646.7,368.9 650,368.1" fill="none" stroke="#c80000" stroke-width="3.5" opacity="0.55" filter="url(#blur1)"/></g>
<g clip-path="url(#c4)"><g opacity="0.999"><polygon points="590,512 584.5,499.5 578.5,491.5 574.8,484.5 576.5,479 581,475 586,472 592.6,469.3 599.6,466 620,450 660,450 660,525 590,525" fill="#00ffee" filter="url(#blur1)"/><polygon points="592,507 587.5,500.5 582,493 578.8,487 580.5,482 584.5,478.5 590,475.5 596,472.5 603,469 620,458 660,458 660,530 620,530 612,514 602,509.5" fill="url(#g1)" filter="url(#blur2)"/></g></g>
<g clip-path="url(#c5)"><g opacity="0.999">
<path d="M62,471.3C62.8,470.8 65.2,469.1 67,468C68.8,466.9 70.1,466.1 72.5,465C74.9,463.9 78.4,462.4 81.3,461.6C84.2,460.8 86.8,460.5 90,460.4C93.2,460.3 97.7,460.6 100.6,461.1C103.5,461.6 105.3,462.3 107.6,463.4C109.9,464.5 112.3,466.2 114.6,467.8C116.9,469.4 119.3,471.2 121.6,473C123.9,474.8 125.9,476.9 128.6,478.3C131.3,479.7 136.3,480.9 137.8,481.4C139.6,480.6 145.1,478.4 148.4,476.7C151.7,474.9 155,472.8 157.7,470.9C160.4,468.9 162.4,467.3 164.7,465C167,462.7 169.5,459.4 171.7,456.9C173.8,454.4 175.6,452.2 177.6,449.9C179.6,447.5 181.3,445 183.4,442.8C185.5,440.6 187.6,440 190,436.5C192.4,433 195.3,426.6 198,422C200.7,417.4 203.3,413.5 206,409.2C208.7,404.9 211.4,400.7 214.1,396.4C216.8,392.1 219.4,387.8 222.1,383.5C224.8,379.2 227.7,374.2 230.1,370.7C232.5,367.2 234.2,364.8 236.6,362.7C239,360.6 241.7,359.3 244.6,357.8C247.5,356.3 251.2,354.5 254.2,353.8C257.1,353.1 259.6,353.6 262.3,353.8C265,354 267.4,354.5 270.3,355C273.2,355.5 277.1,356.5 280,357C282.9,357.5 285.5,357.9 288,358.2C290.5,358.5 294,358.5 295.2,358.6C294.3,360.1 291.4,364.4 289.6,367.5C287.9,370.6 286.3,373.6 284.7,377.1C283.1,380.6 281.5,384.6 279.9,388.4C278.3,392.1 276.7,396.1 275.1,399.6C273.5,403.1 271.9,406.1 270.3,409.2C268.7,412.3 267.1,415.5 265.5,418C263.9,420.5 261.8,423 261,424C259.4,425.4 254.9,430.1 251.6,432.3C248.3,434.6 244.6,435.8 241.1,437.5C237.6,439.2 234.1,440.9 230.6,442.8C227.1,444.7 223.2,446.9 220,448.9C216.8,450.9 214.2,452.8 211.3,455C208.4,457.2 205.8,459.4 202.6,462C199.4,464.6 195.5,468.2 192,470.8C188.5,473.4 185,475.9 181.5,477.8C178,479.7 174.2,480.8 171,482.2C167.8,483.6 164.4,485.1 162,486.5C159.6,487.9 157.4,489.8 156.5,490.5C155.2,490.7 150.7,491.5 148.4,491.9C146.1,492.3 144.4,492.5 142.5,493C140.6,493.5 139.6,494.1 136.7,494.8C133.8,495.5 128.4,496.6 125,497C121.6,497.4 119.2,497.4 116.3,497.2C113.4,497 110.5,496.6 107.6,495.8C104.7,495 101.7,493.8 98.8,492.3C95.9,490.8 92.9,489.1 90,487C87.1,484.9 84.2,481.9 81.3,480C78.4,478.1 75.7,477.1 72.5,475.7C69.3,474.2 63.8,472 62,471.3Z" fill="url(#g2)"/>
<polygon points="62,471.3 67,468 72.5,465 81.3,461.6 90,460.4 100.6,461.1 107.6,463.4 114.6,467.8 121.6,473 128.6,478.3 137.8,481.4 148.4,487 156.5,490.7 148.4,491.9 142.5,493 136.7,494.8 125,497 116.3,497.2 107.6,495.8 98.8,492.3 90,487 81.3,480 72.5,475.7" fill="url(#g3)"/>
<path d="M62,471.3C62.8,470.8 65.2,469.1 67,468C68.8,466.9 70.1,466.1 72.5,465C74.9,463.9 78.4,462.4 81.3,461.6C84.2,460.8 86.8,460.5 90,460.4C93.2,460.3 97.7,460.6 100.6,461.1C103.5,461.6 105.3,462.3 107.6,463.4C109.9,464.5 112.3,466.2 114.6,467.8C116.9,469.4 119.3,471.2 121.6,473C123.9,474.8 125.9,476.9 128.6,478.3C131.3,479.7 136.3,480.9 137.8,481.4" fill="none" stroke="#00ff9a" stroke-width="10"/>
<path d="M62,471.3C62.8,470.8 65.2,469.1 67,468C68.8,466.9 70.1,466.1 72.5,465C74.9,463.9 78.4,462.4 81.3,461.6C84.2,460.8 86.8,460.5 90,460.4C93.2,460.3 97.7,460.6 100.6,461.1C103.5,461.6 105.3,462.3 107.6,463.4C109.9,464.5 112.3,466.2 114.6,467.8C116.9,469.4 119.3,471.2 121.6,473C123.9,474.8 125.9,476.9 128.6,478.3C131.3,479.7 136.3,480.9 137.8,481.4" fill="none" stroke="#08fb14" stroke-width="5.5"/>
<path d="M122,474.5C123.1,475.1 126,477.1 128.6,478.3C131.2,479.5 134.5,480.2 137.8,481.6C141.1,483.1 145.3,485.5 148.4,487C151.5,488.5 155.2,489.9 156.5,490.5C155.4,491 152.2,493.1 150,493.5C147.8,493.9 145.3,493.7 143,493.2C140.7,492.7 138.3,491.7 136,490.5C133.7,489.3 131.2,487.6 129,486C126.8,484.4 124.2,482.9 123,481C121.8,479.1 122.2,475.6 122,474.5Z" fill="url(#g4)"/>
<g clip-path="url(#c6)"><g opacity="0.999">
<polygon points="156.5,490.5 161,484 165.8,477.8 172.8,467.3 179.8,456.8 186.8,446.3 193.8,435.8 199,428.8 204.3,423.5 209.6,420 215.5,416 222.1,412.4 228.5,412.1 235,414 241.4,418.9 247.8,423.7 254.2,426.9 261,424.5 275,440 200,495 160,500" fill="#07fc28"/>
<polygon points="154.5,492.1 157.5,491 160.5,489.8 163.5,488.6 166.5,487.4 169.5,486.1 172.5,484.7 175.5,483.3 178.5,482.1 181.5,481 184.5,480 187.5,479.1 190.5,478.1 193.5,477.1 196.5,475.9 199.5,474.4 202.5,472.8 205.5,471.1 208.5,469 211.5,466.6 214.5,464 217.5,461.5 220.5,459.4 223.5,457.8 226.5,456.4 229.5,455.2 232.5,454.1 235.5,453 238.5,451.8 241.5,450.6 244.5,449.3 247.5,448.1 250.5,446.9 253.5,445.7 256.5,444.6 259.5,443.5 262.5,442.4 265.5,441.5 268.5,441.5 271.5,441.5 274.5,441.5 277.5,441.5 277.5,-50 154.5,-50" fill="#09fa0a"/>
<polygon points="154.5,487.3 157.5,486.1 160.5,484.9 163.5,483.6 166.5,482.3 169.5,480.9 172.5,479.5 175.5,478.1 178.5,476.7 181.5,475.5 184.5,474.5 187.5,473.6 190.5,472.6 193.5,471.5 196.5,470.2 199.5,468.8 202.5,467.1 205.5,465.3 208.5,463.1 211.5,460.4 214.5,457.5 217.5,454.6 220.5,452.3 223.5,450.7 226.5,449.4 229.5,448.3 232.5,447.3 235.5,446.3 238.5,445.2 241.5,444.1 244.5,443 247.5,441.9 250.5,440.9 253.5,439.8 256.5,438.7 259.5,437.6 262.5,436.5 265.5,435.6 268.5,435.6 271.5,435.6 274.5,435.6 277.5,435.6 277.5,-50 154.5,-50" fill="#19fa00"/>
<polygon points="154.5,485.8 157.5,484.6 160.5,483.4 163.5,482.1 166.5,480.9 169.5,479.5 172.5,478.1 175.5,476.7 178.5,475.4 181.5,474.2 184.5,473.1 187.5,472.1 190.5,471 193.5,469.9 196.5,468.6 199.5,467.2 202.5,465.6 205.5,463.8 208.5,461.7 211.5,459.1 214.5,456.3 217.5,453.6 220.5,451.4 223.5,449.8 226.5,448.5 229.5,447.4 232.5,446.3 235.5,445.4 238.5,444.3 241.5,443.3 244.5,442.2 247.5,441.2 250.5,440.2 253.5,439.2 256.5,438.1 259.5,437 262.5,435.9 265.5,435 268.5,435 271.5,435 274.5,435 277.5,435 277.5,-50 154.5,-50" fill="#30fb00"/>
<polygon points="154.5,484.3 157.5,483.1 160.5,481.9 163.5,480.6 166.5,479.4 169.5,478 172.5,476.7 175.5,475.3 178.5,474 181.5,472.8 184.5,471.7 187.5,470.6 190.5,469.4 193.5,468.2 196.5,466.9 199.5,465.5 202.5,464 205.5,462.3 208.5,460.3 211.5,457.8 214.5,455.2 217.5,452.6 220.5,450.4 223.5,448.9 226.5,447.6 229.5,446.5 232.5,445.4 235.5,444.4 238.5,443.4 241.5,442.4 244.5,441.5 247.5,440.5 250.5,439.6 253.5,438.6 256.5,437.5 259.5,436.5 262.5,435.3 265.5,434.4 268.5,434.4 271.5,434.4 274.5,434.4 277.5,434.4 277.5,-50 154.5,-50" fill="#46fc00"/>
<polygon points="154.5,482.7 157.5,481.6 160.5,480.3 163.5,479.1 166.5,477.9 169.5,476.6 172.5,475.3 175.5,474 178.5,472.7 181.5,471.4 184.5,470.2 187.5,469.1 190.5,467.9 193.5,466.6 196.5,465.3 199.5,463.9 202.5,462.4 205.5,460.8 208.5,458.8 211.5,456.5 214.5,454 217.5,451.6 220.5,449.5 223.5,448 226.5,446.7 229.5,445.6 232.5,444.5 235.5,443.5 238.5,442.5 241.5,441.6 244.5,440.7 247.5,439.8 250.5,438.9 253.5,438 256.5,437 259.5,435.9 262.5,434.8 265.5,433.8 268.5,433.8 271.5,433.8 274.5,433.8 277.5,433.8 277.5,-50 154.5,-50" fill="#5dfd00"/>
<polygon points="154.5,481.2 157.5,480 160.5,478.8 163.5,477.6 166.5,476.4 169.5,475.1 172.5,473.9 175.5,472.6 178.5,471.3 181.5,470.1 184.5,468.8 187.5,467.6 190.5,466.3 193.5,465 196.5,463.6 199.5,462.3 202.5,460.8 205.5,459.3 208.5,457.4 211.5,455.2 214.5,452.9 217.5,450.6 220.5,448.6 223.5,447.1 226.5,445.8 229.5,444.7 232.5,443.6 235.5,442.6 238.5,441.6 241.5,440.7 244.5,439.9 247.5,439.1 250.5,438.3 253.5,437.4 256.5,436.4 259.5,435.3 262.5,434.2 265.5,433.2 268.5,433.2 271.5,433.2 274.5,433.2 277.5,433.2 277.5,-50 154.5,-50" fill="#73fe00"/>
<polygon points="154.5,479.7 157.5,478.5 160.5,477.3 163.5,476.1 166.5,474.9 169.5,473.7 172.5,472.5 175.5,471.2 178.5,470 181.5,468.7 184.5,467.4 187.5,466.1 190.5,464.7 193.5,463.3 196.5,462 199.5,460.6 202.5,459.3 205.5,457.8 208.5,456 211.5,453.9 214.5,451.7 217.5,449.6 220.5,447.7 223.5,446.2 226.5,444.9 229.5,443.8 232.5,442.7 235.5,441.7 238.5,440.7 241.5,439.9 244.5,439.1 247.5,438.4 250.5,437.6 253.5,436.8 256.5,435.8 259.5,434.7 262.5,433.6 265.5,432.6 268.5,432.6 271.5,432.6 274.5,432.6 277.5,432.6 277.5,-50 154.5,-50" fill="#8afe00"/>
<polygon points="154.5,478.2 157.5,477 160.5,475.8 163.5,474.6 166.5,473.4 169.5,472.2 172.5,471.1 175.5,469.9 178.5,468.6 181.5,467.3 184.5,466 187.5,464.6 190.5,463.1 193.5,461.7 196.5,460.3 199.5,459 202.5,457.7 205.5,456.3 208.5,454.6 211.5,452.6 214.5,450.6 217.5,448.5 220.5,446.8 223.5,445.3 226.5,444 229.5,442.8 232.5,441.8 235.5,440.8 238.5,439.9 241.5,439 244.5,438.3 247.5,437.7 250.5,437 253.5,436.1 256.5,435.2 259.5,434.2 262.5,433 265.5,432 268.5,432 271.5,432 274.5,432 277.5,432 277.5,-50 154.5,-50" fill="#a0ff00"/>
<polygon points="154.5,476.4 157.5,475.3 160.5,474.1 163.5,472.9 166.5,471.7 169.5,470.5 172.5,469.3 175.5,468.1 178.5,466.8 181.5,465.5 184.5,464.1 187.5,462.7 190.5,461.2 193.5,459.8 196.5,458.4 199.5,457.1 202.5,455.8 205.5,454.4 208.5,452.7 211.5,450.8 214.5,448.8 217.5,446.9 220.5,445.2 223.5,443.9 226.5,442.6 229.5,441.5 232.5,440.5 235.5,439.6 238.5,438.7 241.5,438 244.5,437.3 247.5,436.6 250.5,436 253.5,435.2 256.5,434.3 259.5,433.4 262.5,432.3 265.5,431.4 268.5,431.4 271.5,431.4 274.5,431.4 277.5,431.4 277.5,-50 154.5,-50" fill="#b2ff00"/>
<polygon points="154.5,474.6 157.5,473.5 160.5,472.4 163.5,471.2 166.5,470 169.5,468.8 172.5,467.5 175.5,466.2 178.5,464.9 181.5,463.6 184.5,462.2 187.5,460.8 190.5,459.4 193.5,457.9 196.5,456.6 199.5,455.2 202.5,453.9 205.5,452.5 208.5,450.9 211.5,449 214.5,447.1 217.5,445.3 220.5,443.7 223.5,442.4 226.5,441.3 229.5,440.2 232.5,439.3 235.5,438.4 238.5,437.6 241.5,436.9 244.5,436.2 247.5,435.6 250.5,435 253.5,434.3 256.5,433.5 259.5,432.6 262.5,431.7 265.5,430.9 268.5,430.9 271.5,430.9 274.5,430.9 277.5,430.9 277.5,-50 154.5,-50" fill="#c4ff00"/>
<polygon points="154.5,472.9 157.5,471.8 160.5,470.7 163.5,469.5 166.5,468.3 169.5,467.1 172.5,465.8 175.5,464.4 178.5,463.1 181.5,461.7 184.5,460.3 187.5,458.9 190.5,457.5 193.5,456.1 196.5,454.7 199.5,453.4 202.5,452 205.5,450.6 208.5,449 211.5,447.3 214.5,445.4 217.5,443.7 220.5,442.1 223.5,440.9 226.5,439.9 229.5,438.9 232.5,438.1 235.5,437.3 238.5,436.5 241.5,435.8 244.5,435.2 247.5,434.6 250.5,434 253.5,433.3 256.5,432.6 259.5,431.8 262.5,431 265.5,430.3 268.5,430.3 271.5,430.3 274.5,430.3 277.5,430.3 277.5,-50 154.5,-50" fill="#d5ff00"/>
<polygon points="154.5,471.1 157.5,470 160.5,469 163.5,467.8 166.5,466.6 169.5,465.4 172.5,464 175.5,462.6 178.5,461.2 181.5,459.8 184.5,458.4 187.5,457 190.5,455.6 193.5,454.2 196.5,452.8 199.5,451.5 202.5,450.1 205.5,448.7 208.5,447.2 211.5,445.5 214.5,443.7 217.5,442.1 220.5,440.6 223.5,439.5 226.5,438.5 229.5,437.6 232.5,436.8 235.5,436.1 238.5,435.4 241.5,434.7 244.5,434.1 247.5,433.5 250.5,433 253.5,432.4 256.5,431.7 259.5,431 262.5,430.3 265.5,429.8 268.5,429.8 271.5,429.8 274.5,429.8 277.5,429.8 277.5,-50 154.5,-50" fill="#e7ff00"/>
<polygon points="154.5,469.3 157.5,468.3 160.5,467.3 163.5,466.1 166.5,465 169.5,463.6 172.5,462.2 175.5,460.8 178.5,459.3 181.5,457.9 184.5,456.5 187.5,455.1 190.5,453.7 193.5,452.3 196.5,450.9 199.5,449.6 202.5,448.2 205.5,446.9 208.5,445.4 211.5,443.7 214.5,442 217.5,440.4 220.5,439.1 223.5,438 226.5,437.1 229.5,436.3 232.5,435.6 235.5,434.9 238.5,434.3 241.5,433.6 244.5,433.1 247.5,432.5 250.5,432 253.5,431.4 256.5,430.8 259.5,430.3 262.5,429.7 265.5,429.2 268.5,429.2 271.5,429.2 274.5,429.2 277.5,429.2 277.5,-50 154.5,-50" fill="#f9ff00"/>
<polygon points="154.5,467.3 157.5,466.3 160.5,465.2 163.5,464.1 166.5,462.9 169.5,461.6 172.5,460.2 175.5,458.8 178.5,457.4 181.5,456 184.5,454.5 187.5,453.1 190.5,451.6 193.5,450.2 196.5,448.8 199.5,447.5 202.5,446.2 205.5,444.9 208.5,443.4 211.5,441.7 214.5,440.1 217.5,438.5 220.5,437.2 223.5,436.2 226.5,435.5 229.5,434.8 232.5,434.2 235.5,433.6 238.5,433.1 241.5,432.6 244.5,432.2 247.5,431.7 250.5,431.3 253.5,430.9 256.5,430.4 259.5,429.9 262.5,429.3 265.5,428.8 268.5,428.8 271.5,428.8 274.5,428.8 277.5,428.8 277.5,-50 154.5,-50" fill="#fff400"/>
<polygon points="154.5,465.2 157.5,464.1 160.5,463 163.5,461.8 166.5,460.7 169.5,459.4 172.5,458.1 175.5,456.7 178.5,455.4 181.5,454 184.5,452.5 187.5,450.9 190.5,449.4 193.5,447.9 196.5,446.6 199.5,445.4 202.5,444.2 205.5,442.9 208.5,441.4 211.5,439.7 214.5,438 217.5,436.4 220.5,435.1 223.5,434.3 226.5,433.7 229.5,433.1 232.5,432.7 235.5,432.2 238.5,431.9 241.5,431.6 244.5,431.3 247.5,431.1 250.5,430.9 253.5,430.6 256.5,430.3 259.5,429.7 262.5,429.1 265.5,428.6 268.5,428.6 271.5,428.6 274.5,428.6 277.5,428.6 277.5,-50 154.5,-50" fill="#ffe400"/>
<polygon points="154.5,463 157.5,461.9 160.5,460.8 163.5,459.6 166.5,458.4 169.5,457.2 172.5,456 175.5,454.7 178.5,453.3 181.5,452 184.5,450.4 187.5,448.8 190.5,447.2 193.5,445.7 196.5,444.4 199.5,443.2 202.5,442.1 205.5,440.9 208.5,439.4 211.5,437.7 214.5,435.9 217.5,434.2 220.5,433 223.5,432.4 226.5,431.9 229.5,431.5 232.5,431.2 235.5,430.9 238.5,430.6 241.5,430.5 244.5,430.5 247.5,430.5 250.5,430.5 253.5,430.4 256.5,430.1 259.5,429.6 262.5,428.9 265.5,428.3 268.5,428.3 271.5,428.3 274.5,428.3 277.5,428.3 277.5,-50 154.5,-50" fill="#ffd400"/>
<polygon points="154.5,460.9 157.5,459.7 160.5,458.5 163.5,457.3 166.5,456.2 169.5,455 172.5,453.8 175.5,452.6 178.5,451.3 181.5,449.9 184.5,448.4 187.5,446.7 190.5,445 193.5,443.4 196.5,442.1 199.5,441 202.5,440 205.5,438.9 208.5,437.4 211.5,435.6 214.5,433.8 217.5,432.1 220.5,431 223.5,430.5 226.5,430.1 229.5,429.9 232.5,429.6 235.5,429.5 238.5,429.4 241.5,429.5 244.5,429.6 247.5,429.8 250.5,430 253.5,430.1 256.5,429.9 259.5,429.4 262.5,428.7 265.5,428.1 268.5,428.1 271.5,428.1 274.5,428.1 277.5,428.1 277.5,-50 154.5,-50" fill="#ffc500"/>
<polygon points="154.5,458.9 157.5,457.7 160.5,456.6 163.5,455.4 166.5,454.2 169.5,453.1 172.5,451.9 175.5,450.7 178.5,449.5 181.5,448.1 184.5,446.5 187.5,444.8 190.5,443.1 193.5,441.5 196.5,440.2 199.5,439 202.5,438 205.5,436.8 208.5,435.3 211.5,433.5 214.5,431.6 217.5,430 220.5,428.9 223.5,428.5 226.5,428.3 229.5,428.1 232.5,428 235.5,428 238.5,428 241.5,428.2 244.5,428.6 247.5,429.1 250.5,429.4 253.5,429.6 256.5,429.5 259.5,429 262.5,428.3 265.5,427.6 268.5,427.6 271.5,427.6 274.5,427.6 277.5,427.6 277.5,-50 154.5,-50" fill="#ffb500"/>
<polygon points="154.5,456.9 157.5,455.8 160.5,454.7 163.5,453.6 166.5,452.4 169.5,451.3 172.5,450.1 175.5,448.9 178.5,447.7 181.5,446.3 184.5,444.7 187.5,443 190.5,441.3 193.5,439.7 196.5,438.3 199.5,437.1 202.5,436 205.5,434.7 208.5,433.2 211.5,431.3 214.5,429.4 217.5,427.8 220.5,426.7 223.5,426.4 226.5,426.3 229.5,426.3 232.5,426.3 235.5,426.4 238.5,426.5 241.5,426.9 244.5,427.5 247.5,428.2 250.5,428.7 253.5,429 256.5,428.9 259.5,428.4 262.5,427.7 265.5,427 268.5,427 271.5,427 274.5,427 277.5,427 277.5,-50 154.5,-50" fill="#ffa400"/>
<polygon points="154.5,454.9 157.5,453.9 160.5,452.8 163.5,451.8 166.5,450.6 169.5,449.5 172.5,448.4 175.5,447.2 178.5,445.9 181.5,444.5 184.5,442.9 187.5,441.2 190.5,439.5 193.5,437.9 196.5,436.5 199.5,435.2 202.5,433.9 205.5,432.6 208.5,431.1 211.5,429.1 214.5,427.2 217.5,425.6 220.5,424.6 223.5,424.4 226.5,424.4 229.5,424.5 232.5,424.6 235.5,424.8 238.5,425 241.5,425.6 244.5,426.4 247.5,427.3 250.5,428 253.5,428.4 256.5,428.3 259.5,427.9 262.5,427.2 265.5,426.4 268.5,426.4 271.5,426.4 274.5,426.4 277.5,426.4 277.5,-50 154.5,-50" fill="#ff9300"/>
<polygon points="154.5,452.8 157.5,451.8 160.5,450.8 163.5,449.7 166.5,448.6 169.5,447.5 172.5,446.4 175.5,445.2 178.5,443.9 181.5,442.6 184.5,441 187.5,439.4 190.5,437.8 193.5,436.2 196.5,434.8 199.5,433.4 202.5,432.1 205.5,430.7 208.5,429.1 211.5,427.2 214.5,425.2 217.5,423.5 220.5,422.6 223.5,422.4 226.5,422.5 229.5,422.7 232.5,423 235.5,423.3 238.5,423.6 241.5,424.3 244.5,425.4 247.5,426.5 250.5,427.4 253.5,427.8 256.5,427.7 259.5,427.3 262.5,426.6 265.5,425.8 268.5,425.8 271.5,425.8 274.5,425.8 277.5,425.8 277.5,-50 154.5,-50" fill="#ff8100"/>
<polygon points="154.5,450.2 157.5,449.2 160.5,448.2 163.5,447.2 166.5,446.1 169.5,445.1 172.5,444 175.5,442.8 178.5,441.6 181.5,440.4 184.5,439 187.5,437.6 190.5,436.1 193.5,434.7 196.5,433.3 199.5,432 202.5,430.6 205.5,429.2 208.5,427.6 211.5,425.6 214.5,423.5 217.5,421.8 220.5,420.8 223.5,420.7 226.5,420.8 229.5,421.1 232.5,421.5 235.5,421.9 238.5,422.4 241.5,423.3 244.5,424.5 247.5,425.8 250.5,426.8 253.5,427.3 256.5,427.2 259.5,426.9 262.5,426.2 265.5,425.3 268.5,425.3 271.5,425.3 274.5,425.3 277.5,425.3 277.5,-50 154.5,-50" fill="#ff7000"/>
<polygon points="154.5,447.7 157.5,446.7 160.5,445.7 163.5,444.7 166.5,443.6 169.5,442.6 172.5,441.5 175.5,440.4 178.5,439.3 181.5,438.2 184.5,437 187.5,435.7 190.5,434.4 193.5,433.1 196.5,431.9 199.5,430.5 202.5,429.2 205.5,427.7 208.5,426.1 211.5,424 214.5,421.9 217.5,420.1 220.5,419.1 223.5,418.9 226.5,419.2 229.5,419.5 232.5,420 235.5,420.6 238.5,421.2 241.5,422.2 244.5,423.6 247.5,425.1 250.5,426.2 253.5,426.8 256.5,426.7 259.5,426.4 262.5,425.7 265.5,424.8 268.5,424.8 271.5,424.8 274.5,424.8 277.5,424.8 277.5,-50 154.5,-50" fill="#ff5d00"/>
<polygon points="154.5,445.2 157.5,444.2 160.5,443.2 163.5,442.2 166.5,441.2 169.5,440.1 172.5,439.1 175.5,438.1 178.5,437 181.5,436 184.5,434.9 187.5,433.8 190.5,432.7 193.5,431.6 196.5,430.4 199.5,429.1 202.5,427.7 205.5,426.2 208.5,424.5 211.5,422.4 214.5,420.2 217.5,418.4 220.5,417.3 223.5,417.2 226.5,417.5 229.5,417.9 232.5,418.5 235.5,419.2 238.5,420 241.5,421.1 244.5,422.7 247.5,424.4 250.5,425.7 253.5,426.3 256.5,426.3 259.5,425.9 262.5,425.2 265.5,424.3 268.5,424.3 271.5,424.3 274.5,424.3 277.5,424.3 277.5,-50 154.5,-50" fill="#ff4700"/>
</g></g>
</g></g>
<text transform="translate(37.8,59) scale(0.75,1)" font-size="11" text-anchor="end" font-family="Liberation Serif, serif">36</text>
<text transform="translate(41,109.5) scale(0.75,1)" font-size="11" text-anchor="end" font-family="Liberation Serif, serif">34</text>
<text transform="translate(42.6,160) scale(0.75,1)" font-size="11" text-anchor="end" font-family="Liberation Serif, serif">32</text>
<text transform="translate(44.2,209) scale(0.75,1)" font-size="11" text-anchor="end" font-family="Liberation Serif, serif">30</text>
<text transform="translate(389.5,28) scale(0.75,1)" font-size="11" text-anchor="end" font-family="Liberation Serif, serif">36</text>
<text transform="translate(390.7,62) scale(0.75,1)" font-size="11" text-anchor="end" font-family="Liberation Serif, serif">34</text>
<text transform="translate(392,95) scale(0.75,1)" font-size="11" text-anchor="end" font-family="Liberation Serif, serif">32</text>
<text transform="translate(393,127) scale(0.75,1)" font-size="11" text-anchor="end" font-family="Liberation Serif, serif">30</text>
<text transform="translate(395,158) scale(0.75,1)" font-size="11" text-anchor="end" font-family="Liberation Serif, serif">28</text>
<text transform="translate(396.5,189.5) scale(0.75,1)" font-size="11" text-anchor="end" font-family="Liberation Serif, serif">26</text>
<text transform="translate(398,219.5) scale(0.75,1)" font-size="11" text-anchor="end" font-family="Liberation Serif, serif">24</text>
<text transform="translate(34.3,377.5) scale(0.75,1)" font-size="11" text-anchor="end" font-family="Liberation Serif, serif">21</text>
<text transform="translate(36.8,417.5) scale(0.75,1)" font-size="11" text-anchor="end" font-family="Liberation Serif, serif">18</text>
<text transform="translate(38,456.5) scale(0.75,1)" font-size="11" text-anchor="end" font-family="Liberation Serif, serif">15</text>
<text transform="translate(39.4,495.5) scale(0.75,1)" font-size="11" text-anchor="end" font-family="Liberation Serif, serif">12</text>
<text transform="translate(41.5,532) scale(0.75,1)" font-size="11" text-anchor="end" font-family="Liberation Serif, serif">9</text>
<text transform="translate(389.5,369.5) scale(0.75,1)" font-size="11" text-anchor="end" font-family="Liberation Serif, serif">24</text>
<text transform="translate(392,408) scale(0.75,1)" font-size="11" text-anchor="end" font-family="Liberation Serif, serif">20</text>
<text transform="translate(393.3,444) scale(0.75,1)" font-size="11" text-anchor="end" font-family="Liberation Serif, serif">16</text>
<text transform="translate(395.8,481.5) scale(0.75,1)" font-size="11" text-anchor="end" font-family="Liberation Serif, serif">12</text>
<text transform="translate(397,516.5) scale(0.75,1)" font-size="11" text-anchor="end" font-family="Liberation Serif, serif">8</text>
<text transform="translate(56.4,220.6) rotate(-50) scale(1,0.75)" font-size="9" text-anchor="middle" dominant-baseline="central" style="fill:#333" font-family="Liberation Serif, serif">4</text>
<text transform="translate(82,230.4) rotate(-50) scale(1,0.75)" font-size="9" text-anchor="middle" dominant-baseline="central" style="fill:#333" font-family="Liberation Serif, serif">5</text>
<text transform="translate(111.3,240.9) rotate(-50) scale(1,0.75)" font-size="9" text-anchor="middle" dominant-baseline="central" style="fill:#333" font-family="Liberation Serif, serif">6</text>
<text transform="translate(140.5,251.9) rotate(-50) scale(1,0.75)" font-size="9" text-anchor="middle" dominant-baseline="central" style="fill:#333" font-family="Liberation Serif, serif">7</text>
<text transform="translate(173.2,263.6) rotate(-50) scale(1,0.75)" font-size="9" text-anchor="middle" dominant-baseline="central" style="fill:#333" font-family="Liberation Serif, serif">8</text>
<text transform="translate(406.2,218.3) rotate(-50) scale(1,0.75)" font-size="9" text-anchor="middle" dominant-baseline="central" style="fill:#333" font-family="Liberation Serif, serif">4</text>
<text transform="translate(424.6,225.9) rotate(-50) scale(1,0.75)" font-size="9" text-anchor="middle" dominant-baseline="central" style="fill:#333" font-family="Liberation Serif, serif">5</text>
<text transform="translate(443.6,233.5) rotate(-50) scale(1,0.75)" font-size="9" text-anchor="middle" dominant-baseline="central" style="fill:#333" font-family="Liberation Serif, serif">6</text>
<text transform="translate(463.8,241) rotate(-50) scale(1,0.75)" font-size="9" text-anchor="middle" dominant-baseline="central" style="fill:#333" font-family="Liberation Serif, serif">7</text>
<text transform="translate(486.5,248.6) rotate(-50) scale(1,0.75)" font-size="9" text-anchor="middle" dominant-baseline="central" style="fill:#333" font-family="Liberation Serif, serif">8</text>
<text transform="translate(509,256.9) rotate(-50) scale(1,0.75)" font-size="9" text-anchor="middle" dominant-baseline="central" style="fill:#333" font-family="Liberation Serif, serif">9</text>
<text transform="translate(531.9,266.3) rotate(-50) scale(1,0.75)" font-size="9" text-anchor="middle" dominant-baseline="central" style="fill:#333" font-family="Liberation Serif, serif">10</text>
<text transform="translate(56.8,539.7) rotate(-50) scale(1,0.75)" font-size="9" text-anchor="middle" dominant-baseline="central" style="fill:#333" font-family="Liberation Serif, serif">2</text>
<text transform="translate(77,547.2) rotate(-50) scale(1,0.75)" font-size="9" text-anchor="middle" dominant-baseline="central" style="fill:#333" font-family="Liberation Serif, serif">4</text>
<text transform="translate(99.8,557.4) rotate(-50) scale(1,0.75)" font-size="9" text-anchor="middle" dominant-baseline="central" style="fill:#333" font-family="Liberation Serif, serif">6</text>
<text transform="translate(122.5,566.2) rotate(-50) scale(1,0.75)" font-size="9" text-anchor="middle" dominant-baseline="central" style="fill:#333" font-family="Liberation Serif, serif">8</text>
<text transform="translate(146.5,575) rotate(-50) scale(1,0.75)" font-size="9" text-anchor="middle" dominant-baseline="central" style="fill:#333" font-family="Liberation Serif, serif">10</text>
<text transform="translate(172.6,585) rotate(-50) scale(1,0.75)" font-size="9" text-anchor="middle" dominant-baseline="central" style="fill:#333" font-family="Liberation Serif, serif">12</text>
<text transform="translate(406.2,537) rotate(-50) scale(1,0.75)" font-size="9" text-anchor="middle" dominant-baseline="central" style="fill:#333" font-family="Liberation Serif, serif">4</text>
<text transform="translate(424.6,544.6) rotate(-50) scale(1,0.75)" font-size="9" text-anchor="middle" dominant-baseline="central" style="fill:#333" font-family="Liberation Serif, serif">5</text>
<text transform="translate(443.6,551.4) rotate(-50) scale(1,0.75)" font-size="9" text-anchor="middle" dominant-baseline="central" style="fill:#333" font-family="Liberation Serif, serif">6</text>
<text transform="translate(463.8,559.8) rotate(-50) scale(1,0.75)" font-size="9" text-anchor="middle" dominant-baseline="central" style="fill:#333" font-family="Liberation Serif, serif">7</text>
<text transform="translate(485.2,567.3) rotate(-50) scale(1,0.75)" font-size="9" text-anchor="middle" dominant-baseline="central" style="fill:#333" font-family="Liberation Serif, serif">8</text>
<text transform="translate(507.7,575.7) rotate(-50) scale(1,0.75)" font-size="9" text-anchor="middle" dominant-baseline="central" style="fill:#333" font-family="Liberation Serif, serif">9</text>
<text transform="translate(530.5,585) rotate(-50) scale(1,0.75)" font-size="9" text-anchor="middle" dominant-baseline="central" style="fill:#333" font-family="Liberation Serif, serif">10</text>
<text transform="translate(214.3,264.5) rotate(-35) scale(1,0.75)" font-size="8.5" text-anchor="middle" dominant-baseline="central" style="fill:#333" font-family="Liberation Serif, serif">4</text>
<text transform="translate(233.3,255) rotate(-35) scale(1,0.75)" font-size="8.5" text-anchor="middle" dominant-baseline="central" style="fill:#333" font-family="Liberation Serif, serif">5</text>
<text transform="translate(249.7,244.8) rotate(-35) scale(1,0.75)" font-size="8.5" text-anchor="middle" dominant-baseline="central" style="fill:#333" font-family="Liberation Serif, serif">6</text>
<text transform="translate(267.4,236) rotate(-35) scale(1,0.75)" font-size="8.5" text-anchor="middle" dominant-baseline="central" style="fill:#333" font-family="Liberation Serif, serif">7</text>
<text transform="translate(283.8,227) rotate(-35) scale(1,0.75)" font-size="8.5" text-anchor="middle" dominant-baseline="central" style="fill:#333" font-family="Liberation Serif, serif">8</text>
<text transform="translate(298.4,219) rotate(-35) scale(1,0.75)" font-size="8.5" text-anchor="middle" dominant-baseline="central" style="fill:#333" font-family="Liberation Serif, serif">9</text>
<text transform="translate(315.3,212) rotate(-35) scale(1,0.75)" font-size="8.5" text-anchor="middle" dominant-baseline="central" style="fill:#333" font-family="Liberation Serif, serif">10</text>
<text transform="translate(569.5,265) rotate(-35) scale(1,0.75)" font-size="8.5" text-anchor="middle" dominant-baseline="central" style="fill:#333" font-family="Liberation Serif, serif">0</text>
<text transform="translate(589.6,254) rotate(-35) scale(1,0.75)" font-size="8.5" text-anchor="middle" dominant-baseline="central" style="fill:#333" font-family="Liberation Serif, serif">2</text>
<text transform="translate(607,244.8) rotate(-35) scale(1,0.75)" font-size="8.5" text-anchor="middle" dominant-baseline="central" style="fill:#333" font-family="Liberation Serif, serif">4</text>
<text transform="translate(624.6,235.4) rotate(-35) scale(1,0.75)" font-size="8.5" text-anchor="middle" dominant-baseline="central" style="fill:#333" font-family="Liberation Serif, serif">6</text>
<text transform="translate(642,226.5) rotate(-35) scale(1,0.75)" font-size="8.5" text-anchor="middle" dominant-baseline="central" style="fill:#333" font-family="Liberation Serif, serif">8</text>
<text transform="translate(659.5,219.3) rotate(-35) scale(1,0.75)" font-size="8.5" text-anchor="middle" dominant-baseline="central" style="fill:#333" font-family="Liberation Serif, serif">10</text>
<text transform="translate(674.3,211.2) rotate(-35) scale(1,0.75)" font-size="8.5" text-anchor="middle" dominant-baseline="central" style="fill:#333" font-family="Liberation Serif, serif">12</text>
<text transform="translate(214.3,585) rotate(-35) scale(1,0.75)" font-size="8.5" text-anchor="middle" dominant-baseline="central" style="fill:#333" font-family="Liberation Serif, serif">0.2</text>
<text transform="translate(232,576.2) rotate(-35) scale(1,0.75)" font-size="8.5" text-anchor="middle" dominant-baseline="central" style="fill:#333" font-family="Liberation Serif, serif">0.4</text>
<text transform="translate(247,567.3) rotate(-35) scale(1,0.75)" font-size="8.5" text-anchor="middle" dominant-baseline="central" style="fill:#333" font-family="Liberation Serif, serif">0.6</text>
<text transform="translate(261,558.5) rotate(-35) scale(1,0.75)" font-size="8.5" text-anchor="middle" dominant-baseline="central" style="fill:#333" font-family="Liberation Serif, serif">0.8</text>
<text transform="translate(278.7,551) rotate(-35) scale(1,0.75)" font-size="8.5" text-anchor="middle" dominant-baseline="central" style="fill:#333" font-family="Liberation Serif, serif">1.0</text>
<text transform="translate(293.9,542) rotate(-35) scale(1,0.75)" font-size="8.5" text-anchor="middle" dominant-baseline="central" style="fill:#333" font-family="Liberation Serif, serif">1.2</text>
<text transform="translate(306.5,534.5) rotate(-35) scale(1,0.75)" font-size="8.5" text-anchor="middle" dominant-baseline="central" style="fill:#333" font-family="Liberation Serif, serif">1.4</text>
<text transform="translate(320.4,527.7) rotate(-35) scale(1,0.75)" font-size="8.5" text-anchor="middle" dominant-baseline="central" style="fill:#333" font-family="Liberation Serif, serif">1.6</text>
<text transform="translate(569.5,585) rotate(-35) scale(1,0.75)" font-size="8.5" text-anchor="middle" dominant-baseline="central" style="fill:#333" font-family="Liberation Serif, serif">0.2</text>
<text transform="translate(588.3,575.7) rotate(-35) scale(1,0.75)" font-size="8.5" text-anchor="middle" dominant-baseline="central" style="fill:#333" font-family="Liberation Serif, serif">0.4</text>
<text transform="translate(604.4,566.3) rotate(-35) scale(1,0.75)" font-size="8.5" text-anchor="middle" dominant-baseline="central" style="fill:#333" font-family="Liberation Serif, serif">0.6</text>
<text transform="translate(620.5,557.7) rotate(-35) scale(1,0.75)" font-size="8.5" text-anchor="middle" dominant-baseline="central" style="fill:#333" font-family="Liberation Serif, serif">0.8</text>
<text transform="translate(636.6,549.6) rotate(-35) scale(1,0.75)" font-size="8.5" text-anchor="middle" dominant-baseline="central" style="fill:#333" font-family="Liberation Serif, serif">1.0</text>
<text transform="translate(650,541.6) rotate(-35) scale(1,0.75)" font-size="8.5" text-anchor="middle" dominant-baseline="central" style="fill:#333" font-family="Liberation Serif, serif">1.2</text>
<text transform="translate(663.5,534) rotate(-35) scale(1,0.75)" font-size="8.5" text-anchor="middle" dominant-baseline="central" style="fill:#333" font-family="Liberation Serif, serif">1.4</text>
<text transform="translate(677,527.3) rotate(-35) scale(1,0.75)" font-size="8.5" text-anchor="middle" dominant-baseline="central" style="fill:#333" font-family="Liberation Serif, serif">1.6</text>
<text transform="translate(100.7,246) rotate(23.5) scale(1,0.7)" font-size="12.5" text-anchor="middle" dominant-baseline="central" style="fill:#2a2a2a" font-family="Liberation Serif, serif"><tspan font-style="italic">D</tspan><tspan font-size="9" dy="2">2</tspan><tspan dy="-2" font-style="italic">(mm)</tspan></text>
<text transform="translate(284.5,240) rotate(-28) scale(1,0.85)" font-size="11.5" text-anchor="middle" dominant-baseline="central" style="fill:#2a2a2a" font-family="Liberation Serif, serif"><tspan font-style="italic">B</tspan>(mm)</text>
<text transform="translate(451,247.4) rotate(23) scale(1,0.7)" font-size="12" text-anchor="middle" dominant-baseline="central" style="fill:#2a2a2a" font-family="Liberation Serif, serif"><tspan font-style="italic">B</tspan>(mm)</text>
<text transform="translate(643.4,241.6) rotate(-30) scale(1,0.85)" font-size="12" text-anchor="middle" dominant-baseline="central" style="fill:#2a2a2a" font-family="Liberation Serif, serif"><tspan font-style="italic">θ</tspan>(°)</text>
<text transform="translate(93.3,566.8) rotate(22) scale(1,0.8)" font-size="11" text-anchor="middle" dominant-baseline="central" style="fill:#2a2a2a" font-family="Liberation Serif, serif"><tspan font-style="italic">θ</tspan>(°)</text>
<text transform="translate(284.5,560) rotate(-28) scale(1,0.85)" font-size="11.7" text-anchor="middle" dominant-baseline="central" style="fill:#2a2a2a" font-family="Liberation Serif, serif"><tspan font-style="italic">T</tspan>(mm)</text>
<text transform="translate(451,566) rotate(23) scale(1,0.7)" font-size="12" text-anchor="middle" dominant-baseline="central" style="fill:#2a2a2a" font-family="Liberation Serif, serif"><tspan font-style="italic">B</tspan>(mm)</text>
<text transform="translate(641,560) rotate(-28) scale(1,0.85)" font-size="11.7" text-anchor="middle" dominant-baseline="central" style="fill:#2a2a2a" font-family="Liberation Serif, serif"><tspan font-style="italic">T</tspan>(mm)</text>
<text transform="translate(19.3,95.6) rotate(90)" font-size="13.5" font-family="Liberation Serif, serif"><tspan font-style="italic">P</tspan><tspan font-size="9" dy="3.5">1max</tspan><tspan dy="-3.5">(MPa)</tspan></text>
<text transform="translate(372.2,93.5) rotate(90)" font-size="13.5" font-family="Liberation Serif, serif"><tspan font-style="italic">P</tspan><tspan font-size="9" dy="3.5">1max</tspan><tspan dy="-3.5">(MPa)</tspan></text>
<text transform="translate(16.4,415.6) rotate(90)" font-size="13.5" font-family="Liberation Serif, serif"><tspan font-style="italic">P</tspan><tspan font-size="9" dy="3.5">1ave</tspan><tspan dy="-3.5">(MPa)</tspan></text>
<text transform="translate(372.1,416.3) rotate(90)" font-size="13.5" font-family="Liberation Serif, serif"><tspan font-style="italic">P</tspan><tspan font-size="9" dy="3.5">1ave</tspan><tspan dy="-3.5">(MPa)</tspan></text>
<text x="-2.2" y="308.7" font-size="19.5" font-family="Liberation Serif, serif">(a)</text>
<text x="356" y="308.7" font-size="19.5" font-family="Liberation Serif, serif">(b)</text>
<text x="-2.2" y="628.8" font-size="19.5" font-family="Liberation Serif, serif">(c)</text>
<text x="356" y="628.8" font-size="19.5" font-family="Liberation Serif, serif">(d)</text></svg></body></html>
